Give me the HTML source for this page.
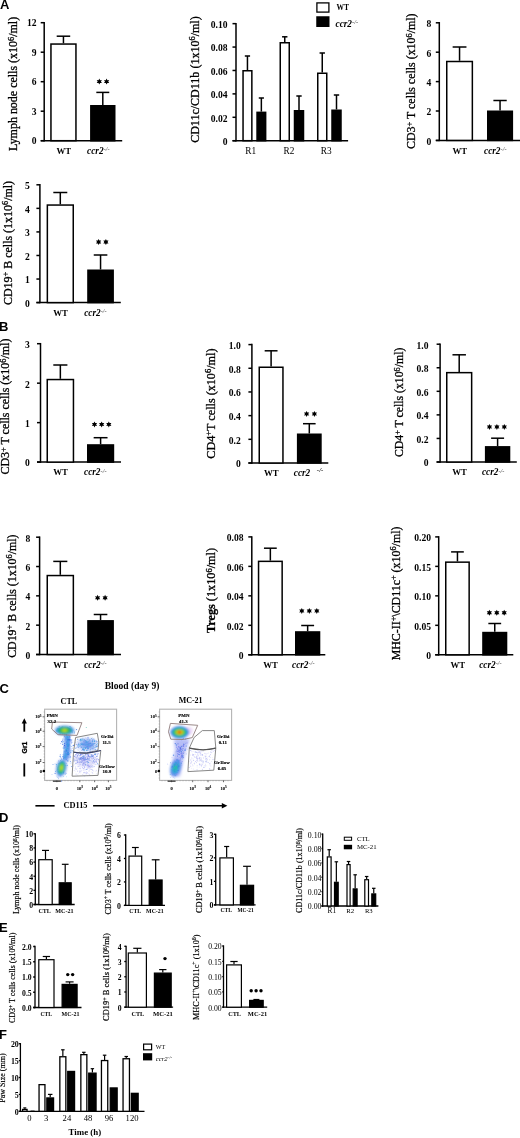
<!DOCTYPE html><html><head><meta charset="utf-8"><title>Figure</title><style>html,body{margin:0;padding:0;background:#fff;}svg{display:block;will-change:transform;}</style></head><body>
<svg width="520" height="1138" viewBox="0 0 520 1138">
<defs><filter id="bl" x="-50%" y="-50%" width="200%" height="200%"><feGaussianBlur stdDeviation="0.9"/></filter><filter id="bl2" x="-50%" y="-50%" width="200%" height="200%"><feGaussianBlur stdDeviation="1.6"/></filter></defs>
<rect width="520" height="1138" fill="#fff"/>
<text x="0.00" y="8.70" font-size="13" text-anchor="start" font-weight="bold" font-style="normal" font-family='"Liberation Sans", sans-serif'>A</text>
<text x="-0.90" y="330.60" font-size="13" text-anchor="start" font-weight="bold" font-style="normal" font-family='"Liberation Sans", sans-serif'>B</text>
<text x="-0.50" y="692.50" font-size="13" text-anchor="start" font-weight="bold" font-style="normal" font-family='"Liberation Sans", sans-serif'>C</text>
<text x="-1.00" y="821.90" font-size="13" text-anchor="start" font-weight="bold" font-style="normal" font-family='"Liberation Sans", sans-serif'>D</text>
<text x="-1.10" y="931.80" font-size="13" text-anchor="start" font-weight="bold" font-style="normal" font-family='"Liberation Sans", sans-serif'>E</text>
<text x="-0.90" y="1038.50" font-size="13" text-anchor="start" font-weight="bold" font-style="normal" font-family='"Liberation Sans", sans-serif'>F</text>
<line x1="44.20" y1="21.95" x2="44.20" y2="141.45" stroke="#000" stroke-width="1.5"/>
<line x1="40.70" y1="140.70" x2="122.20" y2="140.70" stroke="#000" stroke-width="1.5"/>
<line x1="40.70" y1="22.70" x2="44.20" y2="22.70" stroke="#000" stroke-width="1.5"/>
<text x="36.50" y="26.16" font-size="9.6" text-anchor="end" font-weight="bold" font-style="normal" font-family='"Liberation Serif", serif'>12</text>
<line x1="40.70" y1="52.20" x2="44.20" y2="52.20" stroke="#000" stroke-width="1.5"/>
<text x="36.50" y="55.66" font-size="9.6" text-anchor="end" font-weight="bold" font-style="normal" font-family='"Liberation Serif", serif'>9</text>
<line x1="40.70" y1="81.70" x2="44.20" y2="81.70" stroke="#000" stroke-width="1.5"/>
<text x="36.50" y="85.16" font-size="9.6" text-anchor="end" font-weight="bold" font-style="normal" font-family='"Liberation Serif", serif'>6</text>
<line x1="40.70" y1="111.20" x2="44.20" y2="111.20" stroke="#000" stroke-width="1.5"/>
<text x="36.50" y="114.66" font-size="9.6" text-anchor="end" font-weight="bold" font-style="normal" font-family='"Liberation Serif", serif'>3</text>
<line x1="40.70" y1="140.70" x2="44.20" y2="140.70" stroke="#000" stroke-width="1.5"/>
<text x="36.50" y="144.16" font-size="9.6" text-anchor="end" font-weight="bold" font-style="normal" font-family='"Liberation Serif", serif'>0</text>
<line x1="63.45" y1="43.30" x2="63.45" y2="36.20" stroke="#000" stroke-width="1.5"/>
<line x1="56.69" y1="36.20" x2="70.21" y2="36.20" stroke="#000" stroke-width="1.5"/>
<rect x="50.95" y="44.05" width="25.00" height="96.65" fill="#fff" stroke="#000" stroke-width="1.5"/>
<line x1="102.80" y1="105.00" x2="102.80" y2="92.40" stroke="#000" stroke-width="1.5"/>
<line x1="96.32" y1="92.40" x2="109.28" y2="92.40" stroke="#000" stroke-width="1.5"/>
<rect x="90.85" y="105.75" width="23.90" height="34.95" fill="#000" stroke="#000" stroke-width="1.5"/>
<text x="63.75" y="154.00" font-size="8.8" text-anchor="middle" font-weight="bold" font-style="normal" font-family='"Liberation Serif", serif'>WT</text>
<text x="87.10" y="154.00" font-size="9.3" font-weight="bold" font-style="italic" font-family='"Liberation Serif", serif' text-anchor="start">ccr2<tspan font-size="0.68em" dy="-0.42em" font-weight="normal" fill="#333">-/-</tspan></text>
<g transform="translate(0.097,-0.011) scale(0.9989,0.9989)"><text x="17.30" y="84.05" font-size="12" font-weight="normal" font-family='"Liberation Serif", serif' stroke="#000" stroke-width="0.3" text-anchor="middle" transform="rotate(-90 17.30 84.05)">Lymph node cells (x10<tspan font-size="0.7em" dy="-0.4em">6</tspan><tspan dy="0.280em">/ml)</tspan></text></g>
<polygon points="99.30,78.55 100.10,80.16 101.90,80.05 100.90,81.55 101.90,83.05 100.10,82.94 99.30,84.55 98.50,82.94 96.70,83.05 97.70,81.55 96.70,80.05 98.50,80.16" fill="#000"/>
<polygon points="106.60,78.55 107.40,80.16 109.20,80.05 108.20,81.55 109.20,83.05 107.40,82.94 106.60,84.55 105.80,82.94 104.00,83.05 105.00,81.55 104.00,80.05 105.80,80.16" fill="#000"/>
<line x1="236.00" y1="22.90" x2="236.00" y2="141.45" stroke="#000" stroke-width="1.5"/>
<line x1="232.50" y1="140.70" x2="348.10" y2="140.70" stroke="#000" stroke-width="1.5"/>
<line x1="232.50" y1="23.65" x2="236.00" y2="23.65" stroke="#000" stroke-width="1.5"/>
<text x="227.60" y="28.01" font-size="9.6" text-anchor="end" font-weight="bold" font-style="normal" font-family='"Liberation Serif", serif'>0.10</text>
<line x1="232.50" y1="47.06" x2="236.00" y2="47.06" stroke="#000" stroke-width="1.5"/>
<text x="227.60" y="51.42" font-size="9.6" text-anchor="end" font-weight="bold" font-style="normal" font-family='"Liberation Serif", serif'>0.08</text>
<line x1="232.50" y1="70.47" x2="236.00" y2="70.47" stroke="#000" stroke-width="1.5"/>
<text x="227.60" y="74.83" font-size="9.6" text-anchor="end" font-weight="bold" font-style="normal" font-family='"Liberation Serif", serif'>0.06</text>
<line x1="232.50" y1="93.88" x2="236.00" y2="93.88" stroke="#000" stroke-width="1.5"/>
<text x="227.60" y="98.24" font-size="9.6" text-anchor="end" font-weight="bold" font-style="normal" font-family='"Liberation Serif", serif'>0.04</text>
<line x1="232.50" y1="117.29" x2="236.00" y2="117.29" stroke="#000" stroke-width="1.5"/>
<text x="227.60" y="121.65" font-size="9.6" text-anchor="end" font-weight="bold" font-style="normal" font-family='"Liberation Serif", serif'>0.02</text>
<line x1="232.50" y1="140.70" x2="236.00" y2="140.70" stroke="#000" stroke-width="1.5"/>
<text x="227.60" y="145.06" font-size="9.6" text-anchor="end" font-weight="bold" font-style="normal" font-family='"Liberation Serif", serif'>0</text>
<line x1="247.45" y1="70.00" x2="247.45" y2="56.00" stroke="#000" stroke-width="1.5"/>
<line x1="244.82" y1="56.00" x2="250.08" y2="56.00" stroke="#000" stroke-width="1.5"/>
<rect x="243.05" y="70.75" width="8.80" height="69.95" fill="#fff" stroke="#000" stroke-width="1.5"/>
<line x1="261.35" y1="111.60" x2="261.35" y2="98.00" stroke="#000" stroke-width="1.5"/>
<line x1="258.77" y1="98.00" x2="263.93" y2="98.00" stroke="#000" stroke-width="1.5"/>
<rect x="257.05" y="112.35" width="8.60" height="28.35" fill="#000" stroke="#000" stroke-width="1.5"/>
<line x1="284.75" y1="42.00" x2="284.75" y2="36.80" stroke="#000" stroke-width="1.5"/>
<line x1="282.07" y1="36.80" x2="287.43" y2="36.80" stroke="#000" stroke-width="1.5"/>
<rect x="280.25" y="42.75" width="9.00" height="97.95" fill="#fff" stroke="#000" stroke-width="1.5"/>
<line x1="299.00" y1="110.00" x2="299.00" y2="96.00" stroke="#000" stroke-width="1.5"/>
<line x1="296.32" y1="96.00" x2="301.68" y2="96.00" stroke="#000" stroke-width="1.5"/>
<rect x="294.50" y="110.75" width="9.00" height="29.95" fill="#000" stroke="#000" stroke-width="1.5"/>
<line x1="322.25" y1="72.50" x2="322.25" y2="53.00" stroke="#000" stroke-width="1.5"/>
<line x1="319.57" y1="53.00" x2="324.93" y2="53.00" stroke="#000" stroke-width="1.5"/>
<rect x="317.75" y="73.25" width="9.00" height="67.45" fill="#fff" stroke="#000" stroke-width="1.5"/>
<line x1="336.50" y1="109.50" x2="336.50" y2="95.00" stroke="#000" stroke-width="1.5"/>
<line x1="333.82" y1="95.00" x2="339.18" y2="95.00" stroke="#000" stroke-width="1.5"/>
<rect x="332.00" y="110.25" width="9.00" height="30.45" fill="#000" stroke="#000" stroke-width="1.5"/>
<text x="250.80" y="154.20" font-size="9.3" text-anchor="middle" font-weight="normal" font-style="normal" font-family='"Liberation Serif", serif'>R1</text>
<text x="289.00" y="154.20" font-size="9.3" text-anchor="middle" font-weight="normal" font-style="normal" font-family='"Liberation Serif", serif'>R2</text>
<text x="326.20" y="154.20" font-size="9.3" text-anchor="middle" font-weight="normal" font-style="normal" font-family='"Liberation Serif", serif'>R3</text>
<g transform="translate(-0.418,-0.268) scale(1.0030,1.0030)"><text x="198.50" y="79.60" font-size="12" font-weight="normal" font-family='"Liberation Serif", serif' stroke="#000" stroke-width="0.3" text-anchor="middle" transform="rotate(-90 198.50 79.60)">CD11c/CD11b (1x10<tspan font-size="0.7em" dy="-0.4em">6</tspan><tspan dy="0.280em">/ml)</tspan></text></g>
<rect x="316.9" y="2.9" width="12" height="9.2" fill="#fff" stroke="#000" stroke-width="1.3"/>
<rect x="316.25" y="16.25" width="13.25" height="10.75" fill="#000"/>
<g transform="translate(32.416,0.456) scale(0.9039,0.9039)"><text x="336.50" y="10.20" font-size="8.3" text-anchor="start" font-weight="bold" font-style="normal" font-family='"Liberation Serif", serif'>WT</text></g>
<text x="335.50" y="27.00" font-size="9.3" font-weight="bold" font-style="italic" font-family='"Liberation Serif", serif' text-anchor="start">ccr2<tspan font-size="0.68em" dy="-0.42em" font-weight="normal" fill="#333">-/-</tspan></text>
<line x1="439.30" y1="22.05" x2="439.30" y2="141.15" stroke="#000" stroke-width="1.5"/>
<line x1="435.80" y1="140.40" x2="520.00" y2="140.40" stroke="#000" stroke-width="1.5"/>
<line x1="435.80" y1="22.80" x2="439.30" y2="22.80" stroke="#000" stroke-width="1.5"/>
<text x="431.20" y="27.16" font-size="9.6" text-anchor="end" font-weight="bold" font-style="normal" font-family='"Liberation Serif", serif'>8</text>
<line x1="435.80" y1="52.20" x2="439.30" y2="52.20" stroke="#000" stroke-width="1.5"/>
<text x="431.20" y="56.56" font-size="9.6" text-anchor="end" font-weight="bold" font-style="normal" font-family='"Liberation Serif", serif'>6</text>
<line x1="435.80" y1="81.60" x2="439.30" y2="81.60" stroke="#000" stroke-width="1.5"/>
<text x="431.20" y="85.96" font-size="9.6" text-anchor="end" font-weight="bold" font-style="normal" font-family='"Liberation Serif", serif'>4</text>
<line x1="435.80" y1="111.00" x2="439.30" y2="111.00" stroke="#000" stroke-width="1.5"/>
<text x="431.20" y="115.36" font-size="9.6" text-anchor="end" font-weight="bold" font-style="normal" font-family='"Liberation Serif", serif'>2</text>
<line x1="435.80" y1="140.40" x2="439.30" y2="140.40" stroke="#000" stroke-width="1.5"/>
<text x="431.20" y="144.76" font-size="9.6" text-anchor="end" font-weight="bold" font-style="normal" font-family='"Liberation Serif", serif'>0</text>
<line x1="459.55" y1="60.75" x2="459.55" y2="47.00" stroke="#000" stroke-width="1.5"/>
<line x1="452.64" y1="47.00" x2="466.46" y2="47.00" stroke="#000" stroke-width="1.5"/>
<rect x="446.75" y="61.50" width="25.60" height="78.90" fill="#fff" stroke="#000" stroke-width="1.5"/>
<line x1="500.05" y1="110.50" x2="500.05" y2="100.50" stroke="#000" stroke-width="1.5"/>
<line x1="493.39" y1="100.50" x2="506.71" y2="100.50" stroke="#000" stroke-width="1.5"/>
<rect x="487.75" y="111.25" width="24.60" height="29.15" fill="#000" stroke="#000" stroke-width="1.5"/>
<text x="459.85" y="153.70" font-size="8.8" text-anchor="middle" font-weight="bold" font-style="normal" font-family='"Liberation Serif", serif'>WT</text>
<text x="484.00" y="153.70" font-size="9.3" font-weight="bold" font-style="italic" font-family='"Liberation Serif", serif' text-anchor="start">ccr2<tspan font-size="0.68em" dy="-0.42em" font-weight="normal" fill="#333">-/-</tspan></text>
<g transform="translate(3.170,0.545) scale(0.9926,0.9926)"><text x="415.30" y="81.25" font-size="12" font-weight="normal" font-family='"Liberation Serif", serif' stroke="#000" stroke-width="0.3" text-anchor="middle" transform="rotate(-90 415.30 81.25)">CD3<tspan font-size="0.7em" dy="-0.4em">+</tspan><tspan dy="0.280em"> T cells cells (x10</tspan><tspan font-size="0.7em" dy="-0.4em">6</tspan><tspan dy="0.280em">/ml)</tspan></text></g>
<line x1="39.90" y1="184.05" x2="39.90" y2="303.35" stroke="#000" stroke-width="1.5"/>
<line x1="36.40" y1="302.60" x2="120.80" y2="302.60" stroke="#000" stroke-width="1.5"/>
<line x1="36.40" y1="184.80" x2="39.90" y2="184.80" stroke="#000" stroke-width="1.5"/>
<text x="29.70" y="189.16" font-size="9.6" text-anchor="end" font-weight="bold" font-style="normal" font-family='"Liberation Serif", serif'>5</text>
<line x1="36.40" y1="208.36" x2="39.90" y2="208.36" stroke="#000" stroke-width="1.5"/>
<text x="29.70" y="212.72" font-size="9.6" text-anchor="end" font-weight="bold" font-style="normal" font-family='"Liberation Serif", serif'>4</text>
<line x1="36.40" y1="231.92" x2="39.90" y2="231.92" stroke="#000" stroke-width="1.5"/>
<text x="29.70" y="236.28" font-size="9.6" text-anchor="end" font-weight="bold" font-style="normal" font-family='"Liberation Serif", serif'>3</text>
<line x1="36.40" y1="255.48" x2="39.90" y2="255.48" stroke="#000" stroke-width="1.5"/>
<text x="29.70" y="259.84" font-size="9.6" text-anchor="end" font-weight="bold" font-style="normal" font-family='"Liberation Serif", serif'>2</text>
<line x1="36.40" y1="279.04" x2="39.90" y2="279.04" stroke="#000" stroke-width="1.5"/>
<text x="29.70" y="283.40" font-size="9.6" text-anchor="end" font-weight="bold" font-style="normal" font-family='"Liberation Serif", serif'>1</text>
<line x1="36.40" y1="302.60" x2="39.90" y2="302.60" stroke="#000" stroke-width="1.5"/>
<text x="29.70" y="306.96" font-size="9.6" text-anchor="end" font-weight="bold" font-style="normal" font-family='"Liberation Serif", serif'>0</text>
<line x1="60.30" y1="204.30" x2="60.30" y2="192.50" stroke="#000" stroke-width="1.5"/>
<line x1="53.31" y1="192.50" x2="67.29" y2="192.50" stroke="#000" stroke-width="1.5"/>
<rect x="47.35" y="205.05" width="25.90" height="97.55" fill="#fff" stroke="#000" stroke-width="1.5"/>
<line x1="100.55" y1="269.50" x2="100.55" y2="255.00" stroke="#000" stroke-width="1.5"/>
<line x1="93.74" y1="255.00" x2="107.36" y2="255.00" stroke="#000" stroke-width="1.5"/>
<rect x="87.95" y="270.25" width="25.20" height="32.35" fill="#000" stroke="#000" stroke-width="1.5"/>
<text x="60.60" y="315.90" font-size="8.8" text-anchor="middle" font-weight="bold" font-style="normal" font-family='"Liberation Serif", serif'>WT</text>
<text x="84.20" y="315.90" font-size="9.3" font-weight="bold" font-style="italic" font-family='"Liberation Serif", serif' text-anchor="start">ccr2<tspan font-size="0.68em" dy="-0.42em" font-weight="normal" fill="#333">-/-</tspan></text>
<g transform="translate(0.273,0.767) scale(0.9967,0.9967)"><text x="11.50" y="243.00" font-size="12" font-weight="normal" font-family='"Liberation Serif", serif' stroke="#000" stroke-width="0.3" text-anchor="middle" transform="rotate(-90 11.50 243.00)">CD19<tspan font-size="0.7em" dy="-0.4em">+</tspan><tspan dy="0.280em"> B cells (1x10</tspan><tspan font-size="0.7em" dy="-0.4em">6</tspan><tspan dy="0.280em">/ml)</tspan></text></g>
<polygon points="98.60,239.00 99.40,240.61 101.20,240.50 100.20,242.00 101.20,243.50 99.40,243.39 98.60,245.00 97.80,243.39 96.00,243.50 97.00,242.00 96.00,240.50 97.80,240.61" fill="#000"/>
<polygon points="105.90,239.00 106.70,240.61 108.50,240.50 107.50,242.00 108.50,243.50 106.70,243.39 105.90,245.00 105.10,243.39 103.30,243.50 104.30,242.00 103.30,240.50 105.10,240.61" fill="#000"/>
<line x1="40.50" y1="342.95" x2="40.50" y2="462.85" stroke="#000" stroke-width="1.5"/>
<line x1="37.00" y1="462.10" x2="121.00" y2="462.10" stroke="#000" stroke-width="1.5"/>
<line x1="37.00" y1="343.70" x2="40.50" y2="343.70" stroke="#000" stroke-width="1.5"/>
<text x="29.90" y="348.06" font-size="9.6" text-anchor="end" font-weight="bold" font-style="normal" font-family='"Liberation Serif", serif'>3</text>
<line x1="37.00" y1="383.17" x2="40.50" y2="383.17" stroke="#000" stroke-width="1.5"/>
<text x="29.90" y="387.53" font-size="9.6" text-anchor="end" font-weight="bold" font-style="normal" font-family='"Liberation Serif", serif'>2</text>
<line x1="37.00" y1="422.63" x2="40.50" y2="422.63" stroke="#000" stroke-width="1.5"/>
<text x="29.90" y="427.00" font-size="9.6" text-anchor="end" font-weight="bold" font-style="normal" font-family='"Liberation Serif", serif'>1</text>
<line x1="37.00" y1="462.10" x2="40.50" y2="462.10" stroke="#000" stroke-width="1.5"/>
<text x="29.90" y="466.46" font-size="9.6" text-anchor="end" font-weight="bold" font-style="normal" font-family='"Liberation Serif", serif'>0</text>
<line x1="60.35" y1="378.80" x2="60.35" y2="365.00" stroke="#000" stroke-width="1.5"/>
<line x1="53.29" y1="365.00" x2="67.41" y2="365.00" stroke="#000" stroke-width="1.5"/>
<rect x="47.25" y="379.55" width="26.20" height="82.55" fill="#fff" stroke="#000" stroke-width="1.5"/>
<line x1="100.60" y1="444.20" x2="100.60" y2="437.70" stroke="#000" stroke-width="1.5"/>
<line x1="93.66" y1="437.70" x2="107.54" y2="437.70" stroke="#000" stroke-width="1.5"/>
<rect x="87.75" y="444.95" width="25.70" height="17.15" fill="#000" stroke="#000" stroke-width="1.5"/>
<text x="60.65" y="475.40" font-size="8.8" text-anchor="middle" font-weight="bold" font-style="normal" font-family='"Liberation Serif", serif'>WT</text>
<text x="84.00" y="475.40" font-size="9.3" font-weight="bold" font-style="italic" font-family='"Liberation Serif", serif' text-anchor="start">ccr2<tspan font-size="0.68em" dy="-0.42em" font-weight="normal" fill="#333">-/-</tspan></text>
<g transform="translate(0.237,1.216) scale(0.9968,0.9968)"><text x="9.30" y="406.70" font-size="12" font-weight="normal" font-family='"Liberation Serif", serif' stroke="#000" stroke-width="0.3" text-anchor="middle" transform="rotate(-90 9.30 406.70)">CD3<tspan font-size="0.7em" dy="-0.4em">+</tspan><tspan dy="0.280em"> T cells cells (x10</tspan><tspan font-size="0.7em" dy="-0.4em">6</tspan><tspan dy="0.280em">/ml)</tspan></text></g>
<polygon points="94.50,421.40 95.30,423.01 97.10,422.90 96.10,424.40 97.10,425.90 95.30,425.79 94.50,427.40 93.70,425.79 91.90,425.90 92.90,424.40 91.90,422.90 93.70,423.01" fill="#000"/>
<polygon points="101.65,421.40 102.45,423.01 104.25,422.90 103.25,424.40 104.25,425.90 102.45,425.79 101.65,427.40 100.85,425.79 99.05,425.90 100.05,424.40 99.05,422.90 100.85,423.01" fill="#000"/>
<polygon points="108.80,421.40 109.60,423.01 111.40,422.90 110.40,424.40 111.40,425.90 109.60,425.79 108.80,427.40 108.00,425.79 106.20,425.90 107.20,424.40 106.20,422.90 108.00,423.01" fill="#000"/>
<line x1="251.90" y1="343.85" x2="251.90" y2="463.75" stroke="#000" stroke-width="1.5"/>
<line x1="248.40" y1="463.00" x2="328.30" y2="463.00" stroke="#000" stroke-width="1.5"/>
<line x1="248.40" y1="344.60" x2="251.90" y2="344.60" stroke="#000" stroke-width="1.5"/>
<text x="240.80" y="348.96" font-size="9.6" text-anchor="end" font-weight="bold" font-style="normal" font-family='"Liberation Serif", serif'>1.0</text>
<line x1="248.40" y1="368.28" x2="251.90" y2="368.28" stroke="#000" stroke-width="1.5"/>
<text x="240.80" y="372.64" font-size="9.6" text-anchor="end" font-weight="bold" font-style="normal" font-family='"Liberation Serif", serif'>0.8</text>
<line x1="248.40" y1="391.96" x2="251.90" y2="391.96" stroke="#000" stroke-width="1.5"/>
<text x="240.80" y="396.32" font-size="9.6" text-anchor="end" font-weight="bold" font-style="normal" font-family='"Liberation Serif", serif'>0.6</text>
<line x1="248.40" y1="415.64" x2="251.90" y2="415.64" stroke="#000" stroke-width="1.5"/>
<text x="240.80" y="420.00" font-size="9.6" text-anchor="end" font-weight="bold" font-style="normal" font-family='"Liberation Serif", serif'>0.4</text>
<line x1="248.40" y1="439.32" x2="251.90" y2="439.32" stroke="#000" stroke-width="1.5"/>
<text x="240.80" y="443.68" font-size="9.6" text-anchor="end" font-weight="bold" font-style="normal" font-family='"Liberation Serif", serif'>0.2</text>
<line x1="248.40" y1="463.00" x2="251.90" y2="463.00" stroke="#000" stroke-width="1.5"/>
<text x="240.80" y="467.36" font-size="9.6" text-anchor="end" font-weight="bold" font-style="normal" font-family='"Liberation Serif", serif'>0</text>
<line x1="271.10" y1="366.50" x2="271.10" y2="350.80" stroke="#000" stroke-width="1.5"/>
<line x1="264.67" y1="350.80" x2="277.53" y2="350.80" stroke="#000" stroke-width="1.5"/>
<rect x="259.25" y="367.25" width="23.70" height="95.75" fill="#fff" stroke="#000" stroke-width="1.5"/>
<line x1="309.30" y1="433.50" x2="309.30" y2="423.70" stroke="#000" stroke-width="1.5"/>
<line x1="302.98" y1="423.70" x2="315.62" y2="423.70" stroke="#000" stroke-width="1.5"/>
<rect x="297.65" y="434.25" width="23.30" height="28.75" fill="#000" stroke="#000" stroke-width="1.5"/>
<text x="271.40" y="476.30" font-size="8.8" text-anchor="middle" font-weight="bold" font-style="normal" font-family='"Liberation Serif", serif'>WT</text>
<text x="293.75" y="476.30" font-size="9.3" text-anchor="start" font-weight="bold" font-style="italic" font-family='"Liberation Serif", serif'>ccr2</text>
<text x="316.80" y="471.80" font-size="7" text-anchor="start" font-weight="bold" font-style="italic" font-family='"Liberation Serif", serif'>-/-</text>
<g transform="translate(-2.989,-5.540) scale(1.0137,1.0137)"><text x="214.80" y="403.60" font-size="12" font-weight="normal" font-family='"Liberation Serif", serif' stroke="#000" stroke-width="0.3" text-anchor="middle" transform="rotate(-90 214.80 403.60)">CD4<tspan font-size="0.7em" dy="-0.4em">+</tspan><tspan dy="0.280em">T cells (x10</tspan><tspan font-size="0.7em" dy="-0.4em">6</tspan><tspan dy="0.280em">/ml)</tspan></text></g>
<polygon points="306.60,410.90 307.40,412.51 309.20,412.40 308.20,413.90 309.20,415.40 307.40,415.29 306.60,416.90 305.80,415.29 304.00,415.40 305.00,413.90 304.00,412.40 305.80,412.51" fill="#000"/>
<polygon points="314.40,410.90 315.20,412.51 317.00,412.40 316.00,413.90 317.00,415.40 315.20,415.29 314.40,416.90 313.60,415.29 311.80,415.40 312.80,413.90 311.80,412.40 313.60,412.51" fill="#000"/>
<line x1="440.10" y1="343.45" x2="440.10" y2="462.75" stroke="#000" stroke-width="1.5"/>
<line x1="436.60" y1="462.00" x2="516.80" y2="462.00" stroke="#000" stroke-width="1.5"/>
<line x1="436.60" y1="344.20" x2="440.10" y2="344.20" stroke="#000" stroke-width="1.5"/>
<text x="428.50" y="348.56" font-size="9.6" text-anchor="end" font-weight="bold" font-style="normal" font-family='"Liberation Serif", serif'>1.0</text>
<line x1="436.60" y1="367.76" x2="440.10" y2="367.76" stroke="#000" stroke-width="1.5"/>
<text x="428.50" y="372.12" font-size="9.6" text-anchor="end" font-weight="bold" font-style="normal" font-family='"Liberation Serif", serif'>0.8</text>
<line x1="436.60" y1="391.32" x2="440.10" y2="391.32" stroke="#000" stroke-width="1.5"/>
<text x="428.50" y="395.68" font-size="9.6" text-anchor="end" font-weight="bold" font-style="normal" font-family='"Liberation Serif", serif'>0.6</text>
<line x1="436.60" y1="414.88" x2="440.10" y2="414.88" stroke="#000" stroke-width="1.5"/>
<text x="428.50" y="419.24" font-size="9.6" text-anchor="end" font-weight="bold" font-style="normal" font-family='"Liberation Serif", serif'>0.4</text>
<line x1="436.60" y1="438.44" x2="440.10" y2="438.44" stroke="#000" stroke-width="1.5"/>
<text x="428.50" y="442.80" font-size="9.6" text-anchor="end" font-weight="bold" font-style="normal" font-family='"Liberation Serif", serif'>0.2</text>
<line x1="436.60" y1="462.00" x2="440.10" y2="462.00" stroke="#000" stroke-width="1.5"/>
<text x="428.50" y="466.36" font-size="9.6" text-anchor="end" font-weight="bold" font-style="normal" font-family='"Liberation Serif", serif'>0</text>
<line x1="459.20" y1="371.90" x2="459.20" y2="354.80" stroke="#000" stroke-width="1.5"/>
<line x1="452.47" y1="354.80" x2="465.93" y2="354.80" stroke="#000" stroke-width="1.5"/>
<rect x="446.75" y="372.65" width="24.90" height="89.35" fill="#fff" stroke="#000" stroke-width="1.5"/>
<line x1="497.60" y1="446.10" x2="497.60" y2="438.20" stroke="#000" stroke-width="1.5"/>
<line x1="491.12" y1="438.20" x2="504.08" y2="438.20" stroke="#000" stroke-width="1.5"/>
<rect x="485.65" y="446.85" width="23.90" height="15.15" fill="#000" stroke="#000" stroke-width="1.5"/>
<text x="459.50" y="475.30" font-size="8.8" text-anchor="middle" font-weight="bold" font-style="normal" font-family='"Liberation Serif", serif'>WT</text>
<text x="481.90" y="475.30" font-size="9.3" font-weight="bold" font-style="italic" font-family='"Liberation Serif", serif' text-anchor="start">ccr2<tspan font-size="0.68em" dy="-0.42em" font-weight="normal" fill="#333">-/-</tspan></text>
<g transform="translate(7.020,6.936) scale(0.9828,0.9828)"><text x="403.10" y="402.35" font-size="12" font-weight="normal" font-family='"Liberation Serif", serif' stroke="#000" stroke-width="0.3" text-anchor="middle" transform="rotate(-90 403.10 402.35)">CD4<tspan font-size="0.7em" dy="-0.4em">+</tspan><tspan dy="0.280em"> T cells (x10</tspan><tspan font-size="0.7em" dy="-0.4em">6</tspan><tspan dy="0.280em">/ml)</tspan></text></g>
<polygon points="489.50,423.90 490.30,425.51 492.10,425.40 491.10,426.90 492.10,428.40 490.30,428.29 489.50,429.90 488.70,428.29 486.90,428.40 487.90,426.90 486.90,425.40 488.70,425.51" fill="#000"/>
<polygon points="496.90,423.90 497.70,425.51 499.50,425.40 498.50,426.90 499.50,428.40 497.70,428.29 496.90,429.90 496.10,428.29 494.30,428.40 495.30,426.90 494.30,425.40 496.10,425.51" fill="#000"/>
<polygon points="504.30,423.90 505.10,425.51 506.90,425.40 505.90,426.90 506.90,428.40 505.10,428.29 504.30,429.90 503.50,428.29 501.70,428.40 502.70,426.90 501.70,425.40 503.50,425.51" fill="#000"/>
<line x1="39.60" y1="536.45" x2="39.60" y2="655.25" stroke="#000" stroke-width="1.5"/>
<line x1="36.10" y1="654.50" x2="121.00" y2="654.50" stroke="#000" stroke-width="1.5"/>
<line x1="36.10" y1="537.20" x2="39.60" y2="537.20" stroke="#000" stroke-width="1.5"/>
<text x="30.30" y="541.56" font-size="9.6" text-anchor="end" font-weight="bold" font-style="normal" font-family='"Liberation Serif", serif'>8</text>
<line x1="36.10" y1="566.53" x2="39.60" y2="566.53" stroke="#000" stroke-width="1.5"/>
<text x="30.30" y="570.89" font-size="9.6" text-anchor="end" font-weight="bold" font-style="normal" font-family='"Liberation Serif", serif'>6</text>
<line x1="36.10" y1="595.85" x2="39.60" y2="595.85" stroke="#000" stroke-width="1.5"/>
<text x="30.30" y="600.21" font-size="9.6" text-anchor="end" font-weight="bold" font-style="normal" font-family='"Liberation Serif", serif'>4</text>
<line x1="36.10" y1="625.17" x2="39.60" y2="625.17" stroke="#000" stroke-width="1.5"/>
<text x="30.30" y="629.54" font-size="9.6" text-anchor="end" font-weight="bold" font-style="normal" font-family='"Liberation Serif", serif'>2</text>
<line x1="36.10" y1="654.50" x2="39.60" y2="654.50" stroke="#000" stroke-width="1.5"/>
<text x="30.30" y="658.86" font-size="9.6" text-anchor="end" font-weight="bold" font-style="normal" font-family='"Liberation Serif", serif'>0</text>
<line x1="60.30" y1="574.80" x2="60.30" y2="561.40" stroke="#000" stroke-width="1.5"/>
<line x1="53.26" y1="561.40" x2="67.34" y2="561.40" stroke="#000" stroke-width="1.5"/>
<rect x="47.25" y="575.55" width="26.10" height="78.95" fill="#fff" stroke="#000" stroke-width="1.5"/>
<line x1="100.55" y1="620.10" x2="100.55" y2="614.50" stroke="#000" stroke-width="1.5"/>
<line x1="93.74" y1="614.50" x2="107.36" y2="614.50" stroke="#000" stroke-width="1.5"/>
<rect x="87.95" y="620.85" width="25.20" height="33.65" fill="#000" stroke="#000" stroke-width="1.5"/>
<text x="60.60" y="667.80" font-size="8.8" text-anchor="middle" font-weight="bold" font-style="normal" font-family='"Liberation Serif", serif'>WT</text>
<text x="84.20" y="667.80" font-size="9.3" font-weight="bold" font-style="italic" font-family='"Liberation Serif", serif' text-anchor="start">ccr2<tspan font-size="0.68em" dy="-0.42em" font-weight="normal" fill="#333">-/-</tspan></text>
<g transform="translate(0.254,4.918) scale(0.9916,0.9916)"><text x="15.50" y="596.30" font-size="12" font-weight="normal" font-family='"Liberation Serif", serif' stroke="#000" stroke-width="0.3" text-anchor="middle" transform="rotate(-90 15.50 596.30)">CD19<tspan font-size="0.7em" dy="-0.4em">+</tspan><tspan dy="0.280em"> B cells (1x10</tspan><tspan font-size="0.7em" dy="-0.4em">6</tspan><tspan dy="0.280em">/ml)</tspan></text></g>
<polygon points="97.60,594.80 98.40,596.41 100.20,596.30 99.20,597.80 100.20,599.30 98.40,599.19 97.60,600.80 96.80,599.19 95.00,599.30 96.00,597.80 95.00,596.30 96.80,596.41" fill="#000"/>
<polygon points="105.10,594.80 105.90,596.41 107.70,596.30 106.70,597.80 107.70,599.30 105.90,599.19 105.10,600.80 104.30,599.19 102.50,599.30 103.50,597.80 102.50,596.30 104.30,596.41" fill="#000"/>
<line x1="251.80" y1="536.15" x2="251.80" y2="655.55" stroke="#000" stroke-width="1.5"/>
<line x1="248.30" y1="654.80" x2="325.30" y2="654.80" stroke="#000" stroke-width="1.5"/>
<line x1="248.30" y1="536.90" x2="251.80" y2="536.90" stroke="#000" stroke-width="1.5"/>
<text x="243.60" y="541.26" font-size="9.6" text-anchor="end" font-weight="bold" font-style="normal" font-family='"Liberation Serif", serif'>0.08</text>
<line x1="248.30" y1="566.38" x2="251.80" y2="566.38" stroke="#000" stroke-width="1.5"/>
<text x="243.60" y="570.74" font-size="9.6" text-anchor="end" font-weight="bold" font-style="normal" font-family='"Liberation Serif", serif'>0.06</text>
<line x1="248.30" y1="595.85" x2="251.80" y2="595.85" stroke="#000" stroke-width="1.5"/>
<text x="243.60" y="600.21" font-size="9.6" text-anchor="end" font-weight="bold" font-style="normal" font-family='"Liberation Serif", serif'>0.04</text>
<line x1="248.30" y1="625.32" x2="251.80" y2="625.32" stroke="#000" stroke-width="1.5"/>
<text x="243.60" y="629.69" font-size="9.6" text-anchor="end" font-weight="bold" font-style="normal" font-family='"Liberation Serif", serif'>0.02</text>
<line x1="248.30" y1="654.80" x2="251.80" y2="654.80" stroke="#000" stroke-width="1.5"/>
<text x="243.60" y="659.16" font-size="9.6" text-anchor="end" font-weight="bold" font-style="normal" font-family='"Liberation Serif", serif'>0</text>
<line x1="270.35" y1="560.60" x2="270.35" y2="548.20" stroke="#000" stroke-width="1.5"/>
<line x1="263.95" y1="548.20" x2="276.75" y2="548.20" stroke="#000" stroke-width="1.5"/>
<rect x="258.55" y="561.35" width="23.60" height="93.45" fill="#fff" stroke="#000" stroke-width="1.5"/>
<line x1="307.65" y1="631.20" x2="307.65" y2="625.50" stroke="#000" stroke-width="1.5"/>
<line x1="301.20" y1="625.50" x2="314.10" y2="625.50" stroke="#000" stroke-width="1.5"/>
<rect x="295.75" y="631.95" width="23.80" height="22.85" fill="#000" stroke="#000" stroke-width="1.5"/>
<text x="270.65" y="668.10" font-size="8.8" text-anchor="middle" font-weight="bold" font-style="normal" font-family='"Liberation Serif", serif'>WT</text>
<text x="292.00" y="668.10" font-size="9.3" font-weight="bold" font-style="italic" font-family='"Liberation Serif", serif' text-anchor="start">ccr2<tspan font-size="0.68em" dy="-0.42em" font-weight="normal" fill="#333">-/-</tspan></text>
<g transform="translate(-4.251,-12.177) scale(1.0204,1.0204)"><text x="215.30" y="590.60" font-size="12" font-weight="normal" font-family='"Liberation Serif", serif' stroke="#000" stroke-width="0.3" text-anchor="middle" transform="rotate(-90 215.30 590.60)"><tspan font-weight="bold">Tregs</tspan>  (1x10<tspan font-size="0.7em" dy="-0.4em">6</tspan><tspan dy="0.280em">/ml)</tspan></text></g>
<polygon points="301.80,607.90 302.60,609.51 304.40,609.40 303.40,610.90 304.40,612.40 302.60,612.29 301.80,613.90 301.00,612.29 299.20,612.40 300.20,610.90 299.20,609.40 301.00,609.51" fill="#000"/>
<polygon points="309.30,607.90 310.10,609.51 311.90,609.40 310.90,610.90 311.90,612.40 310.10,612.29 309.30,613.90 308.50,612.29 306.70,612.40 307.70,610.90 306.70,609.40 308.50,609.51" fill="#000"/>
<polygon points="316.80,607.90 317.60,609.51 319.40,609.40 318.40,610.90 319.40,612.40 317.60,612.29 316.80,613.90 316.00,612.29 314.20,612.40 315.20,610.90 314.20,609.40 316.00,609.51" fill="#000"/>
<line x1="438.70" y1="536.15" x2="438.70" y2="655.55" stroke="#000" stroke-width="1.5"/>
<line x1="435.20" y1="654.80" x2="513.30" y2="654.80" stroke="#000" stroke-width="1.5"/>
<line x1="435.20" y1="536.90" x2="438.70" y2="536.90" stroke="#000" stroke-width="1.5"/>
<text x="431.10" y="541.26" font-size="9.6" text-anchor="end" font-weight="bold" font-style="normal" font-family='"Liberation Serif", serif'>0.20</text>
<line x1="435.20" y1="566.38" x2="438.70" y2="566.38" stroke="#000" stroke-width="1.5"/>
<text x="431.10" y="570.74" font-size="9.6" text-anchor="end" font-weight="bold" font-style="normal" font-family='"Liberation Serif", serif'>0.15</text>
<line x1="435.20" y1="595.85" x2="438.70" y2="595.85" stroke="#000" stroke-width="1.5"/>
<text x="431.10" y="600.21" font-size="9.6" text-anchor="end" font-weight="bold" font-style="normal" font-family='"Liberation Serif", serif'>0.10</text>
<line x1="435.20" y1="625.32" x2="438.70" y2="625.32" stroke="#000" stroke-width="1.5"/>
<text x="431.10" y="629.69" font-size="9.6" text-anchor="end" font-weight="bold" font-style="normal" font-family='"Liberation Serif", serif'>0.05</text>
<line x1="435.20" y1="654.80" x2="438.70" y2="654.80" stroke="#000" stroke-width="1.5"/>
<text x="431.10" y="659.16" font-size="9.6" text-anchor="end" font-weight="bold" font-style="normal" font-family='"Liberation Serif", serif'>0</text>
<line x1="457.45" y1="561.40" x2="457.45" y2="551.90" stroke="#000" stroke-width="1.5"/>
<line x1="451.10" y1="551.90" x2="463.80" y2="551.90" stroke="#000" stroke-width="1.5"/>
<rect x="445.75" y="562.15" width="23.40" height="92.65" fill="#fff" stroke="#000" stroke-width="1.5"/>
<line x1="494.75" y1="631.80" x2="494.75" y2="623.50" stroke="#000" stroke-width="1.5"/>
<line x1="488.35" y1="623.50" x2="501.15" y2="623.50" stroke="#000" stroke-width="1.5"/>
<rect x="482.95" y="632.55" width="23.60" height="22.25" fill="#000" stroke="#000" stroke-width="1.5"/>
<text x="457.75" y="668.10" font-size="8.8" text-anchor="middle" font-weight="bold" font-style="normal" font-family='"Liberation Serif", serif'>WT</text>
<text x="479.20" y="668.10" font-size="9.3" font-weight="bold" font-style="italic" font-family='"Liberation Serif", serif' text-anchor="start">ccr2<tspan font-size="0.68em" dy="-0.42em" font-weight="normal" fill="#333">-/-</tspan></text>
<g transform="translate(3.367,4.343) scale(0.9924,0.9924)"><text x="399.30" y="593.60" font-size="12" font-weight="normal" font-family='"Liberation Serif", serif' stroke="#000" stroke-width="0.3" text-anchor="middle" transform="rotate(-90 399.30 593.60)">MHC-II<tspan font-size="0.7em" dy="-0.4em">+</tspan><tspan dy="0.280em">\CD11c</tspan><tspan font-size="0.7em" dy="-0.4em">+</tspan><tspan dy="0.280em"> (x10</tspan><tspan font-size="0.7em" dy="-0.4em">6</tspan><tspan dy="0.280em">/ml)</tspan></text></g>
<polygon points="489.40,609.75 490.20,611.36 492.00,611.25 491.00,612.75 492.00,614.25 490.20,614.14 489.40,615.75 488.60,614.14 486.80,614.25 487.80,612.75 486.80,611.25 488.60,611.36" fill="#000"/>
<polygon points="496.80,609.75 497.60,611.36 499.40,611.25 498.40,612.75 499.40,614.25 497.60,614.14 496.80,615.75 496.00,614.14 494.20,614.25 495.20,612.75 494.20,611.25 496.00,611.36" fill="#000"/>
<polygon points="504.20,609.75 505.00,611.36 506.80,611.25 505.80,612.75 506.80,614.25 505.00,614.14 504.20,615.75 503.40,614.14 501.60,614.25 502.60,612.75 501.60,611.25 503.40,611.36" fill="#000"/>
<g transform="translate(5.544,26.620) scale(0.9595,0.9595)"><text x="131.90" y="690.80" font-size="10" text-anchor="middle" font-weight="bold" font-style="normal" font-family='"Liberation Serif", serif'>Blood (day 9)</text></g>
<g transform="translate(-3.116,-32.099) scale(1.0460,1.0460)"><text x="68.80" y="703.60" font-size="7.7" text-anchor="middle" font-weight="bold" font-style="normal" font-family='"Liberation Serif", serif'>CTL</text></g>
<g transform="translate(-4.056,-15.863) scale(1.0221,1.0221)"><text x="190.50" y="703.80" font-size="7.8" text-anchor="middle" font-weight="bold" font-style="normal" font-family='"Liberation Serif", serif'>MC-21</text></g>
<rect x="44.6" y="709.2" width="72.0" height="71.19999999999993" fill="none" stroke="#b4b4b4" stroke-width="1.1"/>
<line x1="42.60" y1="716.80" x2="44.60" y2="716.80" stroke="#444" stroke-width="0.8"/>
<text x="41.4" y="718.3" font-size="4.6" font-weight="bold" font-family='"Liberation Serif", serif' text-anchor="end" fill="#111" stroke="#111" stroke-width="0.12">10<tspan font-size="3.3" dy="-1.8">5</tspan></text>
<line x1="42.60" y1="731.25" x2="44.60" y2="731.25" stroke="#444" stroke-width="0.8"/>
<text x="41.4" y="732.8" font-size="4.6" font-weight="bold" font-family='"Liberation Serif", serif' text-anchor="end" fill="#111" stroke="#111" stroke-width="0.12">10<tspan font-size="3.3" dy="-1.8">4</tspan></text>
<line x1="42.60" y1="746.60" x2="44.60" y2="746.60" stroke="#444" stroke-width="0.8"/>
<text x="41.4" y="748.1" font-size="4.6" font-weight="bold" font-family='"Liberation Serif", serif' text-anchor="end" fill="#111" stroke="#111" stroke-width="0.12">10<tspan font-size="3.3" dy="-1.8">3</tspan></text>
<line x1="42.60" y1="762.50" x2="44.60" y2="762.50" stroke="#444" stroke-width="0.8"/>
<text x="41.4" y="764.0" font-size="4.6" font-weight="bold" font-family='"Liberation Serif", serif' text-anchor="end" fill="#111" stroke="#111" stroke-width="0.12">10<tspan font-size="3.3" dy="-1.8">2</tspan></text>
<line x1="42.60" y1="771.20" x2="44.60" y2="771.20" stroke="#444" stroke-width="0.8"/>
<text x="42.1" y="772.7" font-size="4.6" font-weight="bold" font-family='"Liberation Serif", serif' text-anchor="end" fill="#111" stroke="#111" stroke-width="0.12">0</text>
<line x1="43.60" y1="712.00" x2="44.60" y2="712.00" stroke="#888" stroke-width="0.5"/>
<line x1="43.60" y1="715.00" x2="44.60" y2="715.00" stroke="#888" stroke-width="0.5"/>
<line x1="43.60" y1="718.00" x2="44.60" y2="718.00" stroke="#888" stroke-width="0.5"/>
<line x1="43.60" y1="721.00" x2="44.60" y2="721.00" stroke="#888" stroke-width="0.5"/>
<line x1="43.60" y1="724.00" x2="44.60" y2="724.00" stroke="#888" stroke-width="0.5"/>
<line x1="43.60" y1="727.00" x2="44.60" y2="727.00" stroke="#888" stroke-width="0.5"/>
<line x1="43.60" y1="730.00" x2="44.60" y2="730.00" stroke="#888" stroke-width="0.5"/>
<line x1="43.60" y1="733.00" x2="44.60" y2="733.00" stroke="#888" stroke-width="0.5"/>
<line x1="43.60" y1="736.00" x2="44.60" y2="736.00" stroke="#888" stroke-width="0.5"/>
<line x1="43.60" y1="739.00" x2="44.60" y2="739.00" stroke="#888" stroke-width="0.5"/>
<line x1="43.60" y1="742.00" x2="44.60" y2="742.00" stroke="#888" stroke-width="0.5"/>
<line x1="43.60" y1="745.00" x2="44.60" y2="745.00" stroke="#888" stroke-width="0.5"/>
<line x1="43.60" y1="748.00" x2="44.60" y2="748.00" stroke="#888" stroke-width="0.5"/>
<line x1="43.60" y1="751.00" x2="44.60" y2="751.00" stroke="#888" stroke-width="0.5"/>
<line x1="43.60" y1="754.00" x2="44.60" y2="754.00" stroke="#888" stroke-width="0.5"/>
<line x1="43.60" y1="757.00" x2="44.60" y2="757.00" stroke="#888" stroke-width="0.5"/>
<line x1="43.60" y1="760.00" x2="44.60" y2="760.00" stroke="#888" stroke-width="0.5"/>
<line x1="43.60" y1="763.00" x2="44.60" y2="763.00" stroke="#888" stroke-width="0.5"/>
<line x1="43.60" y1="766.00" x2="44.60" y2="766.00" stroke="#888" stroke-width="0.5"/>
<line x1="43.60" y1="769.00" x2="44.60" y2="769.00" stroke="#888" stroke-width="0.5"/>
<line x1="43.60" y1="772.00" x2="44.60" y2="772.00" stroke="#888" stroke-width="0.5"/>
<line x1="43.60" y1="775.00" x2="44.60" y2="775.00" stroke="#888" stroke-width="0.5"/>
<line x1="43.60" y1="778.00" x2="44.60" y2="778.00" stroke="#888" stroke-width="0.5"/>
<circle cx="43.9" cy="770.9" r="1.25" fill="#000"/>
<line x1="56.90" y1="780.40" x2="56.90" y2="782.20" stroke="#444" stroke-width="0.8"/>
<text x="56.9" y="789.5" font-size="4.6" font-weight="bold" font-family='"Liberation Serif", serif' text-anchor="middle" fill="#111" stroke="#111" stroke-width="0.12">0</text>
<line x1="79.80" y1="780.40" x2="79.80" y2="782.20" stroke="#444" stroke-width="0.8"/>
<text x="79.8" y="789.5" font-size="4.6" font-weight="bold" font-family='"Liberation Serif", serif' text-anchor="middle" fill="#111" stroke="#111" stroke-width="0.12">10<tspan font-size="3.3" dy="-1.8">3</tspan></text>
<line x1="94.60" y1="780.40" x2="94.60" y2="782.20" stroke="#444" stroke-width="0.8"/>
<text x="94.6" y="789.5" font-size="4.6" font-weight="bold" font-family='"Liberation Serif", serif' text-anchor="middle" fill="#111" stroke="#111" stroke-width="0.12">10<tspan font-size="3.3" dy="-1.8">4</tspan></text>
<line x1="108.40" y1="780.40" x2="108.40" y2="782.20" stroke="#444" stroke-width="0.8"/>
<text x="108.4" y="789.5" font-size="4.6" font-weight="bold" font-family='"Liberation Serif", serif' text-anchor="middle" fill="#111" stroke="#111" stroke-width="0.12">10<tspan font-size="3.3" dy="-1.8">5</tspan></text>
<line x1="47.00" y1="780.40" x2="47.00" y2="781.30" stroke="#888" stroke-width="0.5"/>
<line x1="50.00" y1="780.40" x2="50.00" y2="781.30" stroke="#888" stroke-width="0.5"/>
<line x1="53.00" y1="780.40" x2="53.00" y2="781.30" stroke="#888" stroke-width="0.5"/>
<line x1="56.00" y1="780.40" x2="56.00" y2="781.30" stroke="#888" stroke-width="0.5"/>
<line x1="59.00" y1="780.40" x2="59.00" y2="781.30" stroke="#888" stroke-width="0.5"/>
<line x1="62.00" y1="780.40" x2="62.00" y2="781.30" stroke="#888" stroke-width="0.5"/>
<line x1="65.00" y1="780.40" x2="65.00" y2="781.30" stroke="#888" stroke-width="0.5"/>
<line x1="68.00" y1="780.40" x2="68.00" y2="781.30" stroke="#888" stroke-width="0.5"/>
<line x1="71.00" y1="780.40" x2="71.00" y2="781.30" stroke="#888" stroke-width="0.5"/>
<line x1="74.00" y1="780.40" x2="74.00" y2="781.30" stroke="#888" stroke-width="0.5"/>
<line x1="77.00" y1="780.40" x2="77.00" y2="781.30" stroke="#888" stroke-width="0.5"/>
<line x1="80.00" y1="780.40" x2="80.00" y2="781.30" stroke="#888" stroke-width="0.5"/>
<line x1="83.00" y1="780.40" x2="83.00" y2="781.30" stroke="#888" stroke-width="0.5"/>
<line x1="86.00" y1="780.40" x2="86.00" y2="781.30" stroke="#888" stroke-width="0.5"/>
<line x1="89.00" y1="780.40" x2="89.00" y2="781.30" stroke="#888" stroke-width="0.5"/>
<line x1="92.00" y1="780.40" x2="92.00" y2="781.30" stroke="#888" stroke-width="0.5"/>
<line x1="95.00" y1="780.40" x2="95.00" y2="781.30" stroke="#888" stroke-width="0.5"/>
<line x1="98.00" y1="780.40" x2="98.00" y2="781.30" stroke="#888" stroke-width="0.5"/>
<line x1="101.00" y1="780.40" x2="101.00" y2="781.30" stroke="#888" stroke-width="0.5"/>
<line x1="104.00" y1="780.40" x2="104.00" y2="781.30" stroke="#888" stroke-width="0.5"/>
<line x1="107.00" y1="780.40" x2="107.00" y2="781.30" stroke="#888" stroke-width="0.5"/>
<line x1="110.00" y1="780.40" x2="110.00" y2="781.30" stroke="#888" stroke-width="0.5"/>
<line x1="113.00" y1="780.40" x2="113.00" y2="781.30" stroke="#888" stroke-width="0.5"/>
<rect x="52.9" y="780.6" width="8" height="1.2" fill="#333"/>
<g filter="url(#bl2)" transform="rotate(0 86 760)"><ellipse cx="86" cy="760" rx="11" ry="7" fill="#c8c8f6" fill-opacity="0.45"/></g>
<circle cx="84.0" cy="760.3" r="0.36" fill="#3f8ee6" fill-opacity="0.81"/><circle cx="94.8" cy="761.3" r="0.41" fill="#4f70e0" fill-opacity="0.44"/><circle cx="80.8" cy="759.6" r="0.48" fill="#4f70e0" fill-opacity="0.81"/><circle cx="90.1" cy="760.2" r="0.52" fill="#3f8ee6" fill-opacity="0.43"/><circle cx="83.8" cy="757.3" r="0.36" fill="#8a8cf0" fill-opacity="0.83"/><circle cx="84.9" cy="760.4" r="0.52" fill="#6c7ce8" fill-opacity="0.68"/><circle cx="84.5" cy="756.1" r="0.54" fill="#4f70e0" fill-opacity="0.59"/><circle cx="83.2" cy="757.5" r="0.54" fill="#6c7ce8" fill-opacity="0.65"/><circle cx="82.1" cy="760.6" r="0.56" fill="#8a8cf0" fill-opacity="0.52"/><circle cx="77.3" cy="755.5" r="0.57" fill="#5f78e6" fill-opacity="0.54"/><circle cx="90.0" cy="757.7" r="0.40" fill="#9a9cf2" fill-opacity="0.57"/><circle cx="93.6" cy="756.1" r="0.37" fill="#3f8ee6" fill-opacity="0.68"/><circle cx="82.0" cy="761.5" r="0.52" fill="#9a9cf2" fill-opacity="0.63"/><circle cx="74.3" cy="759.1" r="0.57" fill="#6c7ce8" fill-opacity="0.55"/><circle cx="75.3" cy="754.8" r="0.44" fill="#9a9cf2" fill-opacity="0.59"/><circle cx="85.2" cy="757.2" r="0.46" fill="#9a9cf2" fill-opacity="0.71"/><circle cx="80.4" cy="758.1" r="0.39" fill="#5f78e6" fill-opacity="0.52"/><circle cx="93.6" cy="760.4" r="0.43" fill="#4f70e0" fill-opacity="0.47"/><circle cx="76.8" cy="760.4" r="0.47" fill="#3f8ee6" fill-opacity="0.58"/><circle cx="88.9" cy="760.3" r="0.55" fill="#8a8cf0" fill-opacity="0.41"/><circle cx="88.5" cy="755.5" r="0.35" fill="#5f78e6" fill-opacity="0.61"/><circle cx="79.0" cy="762.3" r="0.56" fill="#8a8cf0" fill-opacity="0.66"/><circle cx="77.1" cy="753.4" r="0.49" fill="#6c7ce8" fill-opacity="0.84"/><circle cx="97.5" cy="756.0" r="0.47" fill="#4f70e0" fill-opacity="0.60"/><circle cx="95.0" cy="761.9" r="0.41" fill="#6c7ce8" fill-opacity="0.89"/><circle cx="82.4" cy="758.8" r="0.37" fill="#4f70e0" fill-opacity="0.40"/><circle cx="88.2" cy="759.7" r="0.53" fill="#5f78e6" fill-opacity="0.44"/><circle cx="88.0" cy="762.2" r="0.43" fill="#3f8ee6" fill-opacity="0.57"/><circle cx="83.3" cy="759.7" r="0.65" fill="#9a9cf2" fill-opacity="0.63"/><circle cx="82.6" cy="758.2" r="0.57" fill="#6c7ce8" fill-opacity="0.77"/><circle cx="73.8" cy="758.9" r="0.36" fill="#4f70e0" fill-opacity="0.88"/><circle cx="81.6" cy="757.6" r="0.62" fill="#4f70e0" fill-opacity="0.78"/><circle cx="82.6" cy="764.2" r="0.56" fill="#6c7ce8" fill-opacity="0.53"/><circle cx="82.8" cy="760.0" r="0.51" fill="#8a8cf0" fill-opacity="0.79"/><circle cx="83.3" cy="760.8" r="0.59" fill="#8a8cf0" fill-opacity="0.81"/><circle cx="85.6" cy="754.8" r="0.50" fill="#4f70e0" fill-opacity="0.77"/><circle cx="80.8" cy="758.5" r="0.64" fill="#4f70e0" fill-opacity="0.62"/><circle cx="93.3" cy="756.8" r="0.38" fill="#8a8cf0" fill-opacity="0.64"/><circle cx="81.2" cy="762.4" r="0.60" fill="#4f70e0" fill-opacity="0.64"/><circle cx="96.1" cy="761.4" r="0.58" fill="#9a9cf2" fill-opacity="0.78"/><circle cx="81.0" cy="758.4" r="0.45" fill="#3f8ee6" fill-opacity="0.80"/><circle cx="93.9" cy="757.2" r="0.57" fill="#9a9cf2" fill-opacity="0.44"/><circle cx="96.5" cy="759.0" r="0.59" fill="#9a9cf2" fill-opacity="0.47"/><circle cx="81.9" cy="754.5" r="0.51" fill="#4f70e0" fill-opacity="0.41"/><circle cx="96.6" cy="762.5" r="0.48" fill="#8a8cf0" fill-opacity="0.84"/><circle cx="88.5" cy="755.2" r="0.41" fill="#5f78e6" fill-opacity="0.65"/><circle cx="86.6" cy="754.0" r="0.48" fill="#4f70e0" fill-opacity="0.47"/><circle cx="92.3" cy="755.7" r="0.55" fill="#9a9cf2" fill-opacity="0.81"/><circle cx="89.1" cy="756.3" r="0.51" fill="#8a8cf0" fill-opacity="0.41"/><circle cx="81.3" cy="759.1" r="0.58" fill="#6c7ce8" fill-opacity="0.47"/><circle cx="93.0" cy="762.9" r="0.52" fill="#6c7ce8" fill-opacity="0.56"/><circle cx="75.9" cy="757.3" r="0.61" fill="#6c7ce8" fill-opacity="0.43"/><circle cx="86.8" cy="759.2" r="0.50" fill="#6c7ce8" fill-opacity="0.68"/><circle cx="75.7" cy="760.2" r="0.53" fill="#4f70e0" fill-opacity="0.50"/><circle cx="84.4" cy="763.3" r="0.50" fill="#9a9cf2" fill-opacity="0.52"/><circle cx="90.2" cy="756.1" r="0.39" fill="#9a9cf2" fill-opacity="0.46"/><circle cx="83.1" cy="758.6" r="0.48" fill="#8a8cf0" fill-opacity="0.51"/><circle cx="84.7" cy="760.2" r="0.63" fill="#8a8cf0" fill-opacity="0.72"/><circle cx="81.9" cy="760.6" r="0.64" fill="#8a8cf0" fill-opacity="0.51"/><circle cx="93.7" cy="756.7" r="0.40" fill="#9a9cf2" fill-opacity="0.73"/><circle cx="88.1" cy="764.9" r="0.47" fill="#4f70e0" fill-opacity="0.61"/><circle cx="83.8" cy="759.6" r="0.36" fill="#5f78e6" fill-opacity="0.68"/><circle cx="84.6" cy="758.3" r="0.51" fill="#5f78e6" fill-opacity="0.55"/><circle cx="89.8" cy="757.5" r="0.64" fill="#8a8cf0" fill-opacity="0.45"/><circle cx="85.8" cy="759.3" r="0.43" fill="#8a8cf0" fill-opacity="0.46"/><circle cx="88.6" cy="754.8" r="0.51" fill="#8a8cf0" fill-opacity="0.66"/><circle cx="78.9" cy="758.1" r="0.37" fill="#5f78e6" fill-opacity="0.74"/><circle cx="83.2" cy="758.8" r="0.54" fill="#6c7ce8" fill-opacity="0.80"/><circle cx="79.0" cy="759.2" r="0.48" fill="#4f70e0" fill-opacity="0.86"/><circle cx="84.3" cy="757.1" r="0.42" fill="#3f8ee6" fill-opacity="0.45"/><circle cx="87.4" cy="759.2" r="0.63" fill="#8a8cf0" fill-opacity="0.71"/><circle cx="80.7" cy="757.4" r="0.50" fill="#9a9cf2" fill-opacity="0.49"/><circle cx="85.1" cy="758.7" r="0.36" fill="#5f78e6" fill-opacity="0.41"/><circle cx="80.0" cy="757.7" r="0.38" fill="#9a9cf2" fill-opacity="0.81"/><circle cx="77.5" cy="760.2" r="0.64" fill="#9a9cf2" fill-opacity="0.55"/><circle cx="87.3" cy="761.2" r="0.60" fill="#8a8cf0" fill-opacity="0.75"/><circle cx="80.6" cy="754.5" r="0.64" fill="#5f78e6" fill-opacity="0.82"/><circle cx="97.2" cy="758.6" r="0.48" fill="#5f78e6" fill-opacity="0.43"/><circle cx="82.0" cy="754.2" r="0.55" fill="#4f70e0" fill-opacity="0.54"/><circle cx="86.3" cy="761.7" r="0.41" fill="#9a9cf2" fill-opacity="0.53"/><circle cx="93.6" cy="758.1" r="0.64" fill="#5f78e6" fill-opacity="0.67"/><circle cx="86.7" cy="769.7" r="0.42" fill="#5f78e6" fill-opacity="0.49"/><circle cx="84.3" cy="759.6" r="0.50" fill="#5f78e6" fill-opacity="0.50"/><circle cx="85.2" cy="758.0" r="0.60" fill="#5f78e6" fill-opacity="0.47"/><circle cx="79.2" cy="755.7" r="0.44" fill="#5f78e6" fill-opacity="0.52"/><circle cx="77.6" cy="755.2" r="0.55" fill="#8a8cf0" fill-opacity="0.76"/><circle cx="91.8" cy="754.9" r="0.57" fill="#5f78e6" fill-opacity="0.65"/><circle cx="83.6" cy="764.1" r="0.36" fill="#8a8cf0" fill-opacity="0.82"/><circle cx="94.7" cy="754.0" r="0.56" fill="#3f8ee6" fill-opacity="0.65"/><circle cx="97.3" cy="754.0" r="0.60" fill="#4f70e0" fill-opacity="0.80"/><circle cx="95.5" cy="753.7" r="0.54" fill="#3f8ee6" fill-opacity="0.44"/><circle cx="97.0" cy="759.7" r="0.46" fill="#6c7ce8" fill-opacity="0.63"/><circle cx="87.5" cy="758.3" r="0.55" fill="#4f70e0" fill-opacity="0.64"/><circle cx="74.5" cy="756.6" r="0.57" fill="#6c7ce8" fill-opacity="0.64"/><circle cx="87.3" cy="765.5" r="0.57" fill="#8a8cf0" fill-opacity="0.89"/><circle cx="78.1" cy="758.2" r="0.62" fill="#9a9cf2" fill-opacity="0.54"/><circle cx="96.8" cy="759.8" r="0.37" fill="#8a8cf0" fill-opacity="0.47"/><circle cx="85.7" cy="765.4" r="0.54" fill="#5f78e6" fill-opacity="0.47"/><circle cx="76.8" cy="758.6" r="0.38" fill="#3f8ee6" fill-opacity="0.51"/><circle cx="84.0" cy="762.9" r="0.65" fill="#6c7ce8" fill-opacity="0.67"/><circle cx="84.7" cy="759.8" r="0.36" fill="#9a9cf2" fill-opacity="0.63"/><circle cx="80.0" cy="759.1" r="0.62" fill="#8a8cf0" fill-opacity="0.87"/><circle cx="89.1" cy="758.9" r="0.51" fill="#3f8ee6" fill-opacity="0.88"/><circle cx="96.0" cy="764.2" r="0.43" fill="#4f70e0" fill-opacity="0.46"/><circle cx="79.8" cy="762.0" r="0.47" fill="#9a9cf2" fill-opacity="0.48"/><circle cx="97.5" cy="755.9" r="0.44" fill="#9a9cf2" fill-opacity="0.47"/><circle cx="82.1" cy="761.3" r="0.35" fill="#5f78e6" fill-opacity="0.78"/><circle cx="88.1" cy="756.1" r="0.56" fill="#8a8cf0" fill-opacity="0.85"/><circle cx="84.1" cy="762.2" r="0.47" fill="#9a9cf2" fill-opacity="0.83"/><circle cx="85.5" cy="759.4" r="0.44" fill="#3f8ee6" fill-opacity="0.87"/><circle cx="86.0" cy="761.5" r="0.44" fill="#4f70e0" fill-opacity="0.79"/><circle cx="87.9" cy="753.4" r="0.59" fill="#6c7ce8" fill-opacity="0.72"/><circle cx="73.8" cy="755.8" r="0.63" fill="#6c7ce8" fill-opacity="0.61"/><circle cx="82.7" cy="756.4" r="0.50" fill="#5f78e6" fill-opacity="0.86"/><circle cx="81.3" cy="757.1" r="0.45" fill="#9a9cf2" fill-opacity="0.55"/><circle cx="85.3" cy="764.6" r="0.49" fill="#5f78e6" fill-opacity="0.73"/><circle cx="94.4" cy="762.4" r="0.41" fill="#6c7ce8" fill-opacity="0.85"/><circle cx="80.4" cy="758.1" r="0.65" fill="#5f78e6" fill-opacity="0.62"/><circle cx="89.3" cy="760.3" r="0.40" fill="#6c7ce8" fill-opacity="0.68"/><circle cx="82.8" cy="761.9" r="0.41" fill="#4f70e0" fill-opacity="0.41"/><circle cx="91.4" cy="754.8" r="0.51" fill="#3f8ee6" fill-opacity="0.59"/><circle cx="84.5" cy="759.4" r="0.52" fill="#5f78e6" fill-opacity="0.58"/><circle cx="77.4" cy="762.3" r="0.64" fill="#9a9cf2" fill-opacity="0.82"/><circle cx="87.2" cy="757.3" r="0.48" fill="#6c7ce8" fill-opacity="0.78"/><circle cx="82.9" cy="758.1" r="0.61" fill="#4f70e0" fill-opacity="0.89"/><circle cx="86.0" cy="760.2" r="0.40" fill="#8a8cf0" fill-opacity="0.89"/><circle cx="97.6" cy="763.3" r="0.54" fill="#3f8ee6" fill-opacity="0.78"/><circle cx="76.2" cy="759.5" r="0.35" fill="#6c7ce8" fill-opacity="0.46"/><circle cx="84.0" cy="757.5" r="0.44" fill="#3f8ee6" fill-opacity="0.46"/><circle cx="85.9" cy="764.4" r="0.58" fill="#3f8ee6" fill-opacity="0.45"/><circle cx="80.0" cy="768.3" r="0.47" fill="#8a8cf0" fill-opacity="0.51"/><circle cx="85.1" cy="757.6" r="0.65" fill="#5f78e6" fill-opacity="0.54"/><circle cx="79.8" cy="765.9" r="0.49" fill="#8a8cf0" fill-opacity="0.52"/><circle cx="86.4" cy="769.4" r="0.54" fill="#3f8ee6" fill-opacity="0.43"/><circle cx="91.7" cy="766.8" r="0.48" fill="#3f8ee6" fill-opacity="0.53"/><circle cx="86.3" cy="759.2" r="0.57" fill="#5f78e6" fill-opacity="0.58"/><circle cx="85.3" cy="758.3" r="0.57" fill="#5f78e6" fill-opacity="0.65"/><circle cx="91.9" cy="769.4" r="0.58" fill="#5f78e6" fill-opacity="0.50"/><circle cx="79.9" cy="758.8" r="0.38" fill="#5f78e6" fill-opacity="0.71"/><circle cx="96.1" cy="760.1" r="0.37" fill="#9a9cf2" fill-opacity="0.41"/><circle cx="79.2" cy="755.4" r="0.37" fill="#3f8ee6" fill-opacity="0.60"/><circle cx="92.5" cy="756.3" r="0.55" fill="#8a8cf0" fill-opacity="0.66"/><circle cx="79.2" cy="758.8" r="0.46" fill="#3f8ee6" fill-opacity="0.59"/><circle cx="83.6" cy="760.4" r="0.37" fill="#6c7ce8" fill-opacity="0.44"/><circle cx="76.0" cy="763.3" r="0.60" fill="#5f78e6" fill-opacity="0.62"/><circle cx="94.6" cy="759.6" r="0.51" fill="#5f78e6" fill-opacity="0.62"/><circle cx="80.2" cy="764.6" r="0.36" fill="#9a9cf2" fill-opacity="0.61"/><circle cx="88.1" cy="758.3" r="0.59" fill="#6c7ce8" fill-opacity="0.43"/><circle cx="87.0" cy="759.5" r="0.45" fill="#4f70e0" fill-opacity="0.54"/><circle cx="96.7" cy="756.4" r="0.57" fill="#5f78e6" fill-opacity="0.74"/><circle cx="92.0" cy="756.3" r="0.58" fill="#3f8ee6" fill-opacity="0.86"/><circle cx="91.8" cy="758.5" r="0.56" fill="#9a9cf2" fill-opacity="0.63"/><circle cx="98.6" cy="753.7" r="0.63" fill="#8a8cf0" fill-opacity="0.49"/><circle cx="80.4" cy="755.5" r="0.49" fill="#5f78e6" fill-opacity="0.79"/><circle cx="78.1" cy="755.0" r="0.58" fill="#9a9cf2" fill-opacity="0.52"/><circle cx="87.9" cy="758.5" r="0.51" fill="#4f70e0" fill-opacity="0.48"/><circle cx="82.6" cy="758.9" r="0.43" fill="#6c7ce8" fill-opacity="0.44"/><circle cx="93.7" cy="761.0" r="0.64" fill="#3f8ee6" fill-opacity="0.49"/><circle cx="92.0" cy="761.7" r="0.42" fill="#3f8ee6" fill-opacity="0.67"/><circle cx="87.2" cy="754.3" r="0.52" fill="#5f78e6" fill-opacity="0.59"/><circle cx="85.6" cy="755.0" r="0.41" fill="#8a8cf0" fill-opacity="0.52"/><circle cx="82.6" cy="767.6" r="0.45" fill="#8a8cf0" fill-opacity="0.60"/><circle cx="95.5" cy="757.7" r="0.54" fill="#8a8cf0" fill-opacity="0.45"/><circle cx="83.9" cy="758.3" r="0.49" fill="#6c7ce8" fill-opacity="0.81"/><circle cx="92.5" cy="758.9" r="0.37" fill="#6c7ce8" fill-opacity="0.70"/><circle cx="88.5" cy="755.4" r="0.46" fill="#6c7ce8" fill-opacity="0.83"/><circle cx="80.1" cy="759.1" r="0.63" fill="#3f8ee6" fill-opacity="0.45"/><circle cx="76.8" cy="754.4" r="0.36" fill="#8a8cf0" fill-opacity="0.57"/><circle cx="98.6" cy="759.7" r="0.59" fill="#8a8cf0" fill-opacity="0.81"/><circle cx="79.5" cy="760.3" r="0.44" fill="#4f70e0" fill-opacity="0.50"/><circle cx="89.4" cy="758.8" r="0.55" fill="#9a9cf2" fill-opacity="0.48"/><circle cx="74.6" cy="756.6" r="0.56" fill="#9a9cf2" fill-opacity="0.60"/><circle cx="84.6" cy="761.8" r="0.44" fill="#6c7ce8" fill-opacity="0.68"/><circle cx="80.8" cy="761.7" r="0.54" fill="#5f78e6" fill-opacity="0.60"/><circle cx="81.7" cy="759.1" r="0.60" fill="#6c7ce8" fill-opacity="0.60"/><circle cx="92.6" cy="754.6" r="0.39" fill="#8a8cf0" fill-opacity="0.43"/><circle cx="95.1" cy="764.4" r="0.38" fill="#9a9cf2" fill-opacity="0.71"/><circle cx="79.5" cy="761.9" r="0.45" fill="#8a8cf0" fill-opacity="0.48"/><circle cx="87.4" cy="759.5" r="0.50" fill="#9a9cf2" fill-opacity="0.80"/><circle cx="91.2" cy="757.4" r="0.60" fill="#8a8cf0" fill-opacity="0.42"/><circle cx="91.9" cy="756.0" r="0.63" fill="#4f70e0" fill-opacity="0.59"/><circle cx="95.2" cy="754.5" r="0.54" fill="#8a8cf0" fill-opacity="0.83"/><circle cx="78.0" cy="753.7" r="0.60" fill="#8a8cf0" fill-opacity="0.49"/><circle cx="87.6" cy="762.5" r="0.40" fill="#4f70e0" fill-opacity="0.58"/><circle cx="98.6" cy="767.6" r="0.36" fill="#8a8cf0" fill-opacity="0.68"/><circle cx="86.1" cy="756.7" r="0.39" fill="#5f78e6" fill-opacity="0.70"/><circle cx="75.3" cy="756.0" r="0.54" fill="#5f78e6" fill-opacity="0.55"/><circle cx="86.0" cy="762.5" r="0.48" fill="#5f78e6" fill-opacity="0.62"/><circle cx="97.0" cy="758.9" r="0.49" fill="#9a9cf2" fill-opacity="0.62"/><circle cx="83.6" cy="759.0" r="0.48" fill="#5f78e6" fill-opacity="0.45"/><circle cx="77.1" cy="759.9" r="0.36" fill="#6c7ce8" fill-opacity="0.47"/><circle cx="92.1" cy="756.2" r="0.50" fill="#3f8ee6" fill-opacity="0.43"/><circle cx="78.2" cy="757.9" r="0.36" fill="#8a8cf0" fill-opacity="0.43"/><circle cx="76.7" cy="753.5" r="0.41" fill="#6c7ce8" fill-opacity="0.89"/><circle cx="90.2" cy="756.6" r="0.63" fill="#3f8ee6" fill-opacity="0.43"/><circle cx="78.0" cy="764.1" r="0.45" fill="#8a8cf0" fill-opacity="0.71"/><circle cx="93.3" cy="755.2" r="0.50" fill="#5f78e6" fill-opacity="0.86"/><circle cx="87.6" cy="761.4" r="0.42" fill="#4f70e0" fill-opacity="0.59"/><circle cx="88.6" cy="762.3" r="0.63" fill="#3f8ee6" fill-opacity="0.74"/><circle cx="89.9" cy="756.3" r="0.38" fill="#5f78e6" fill-opacity="0.67"/><circle cx="81.1" cy="754.8" r="0.52" fill="#9a9cf2" fill-opacity="0.69"/><circle cx="88.8" cy="756.6" r="0.54" fill="#4f70e0" fill-opacity="0.60"/><circle cx="87.9" cy="754.6" r="0.52" fill="#5f78e6" fill-opacity="0.58"/><circle cx="86.8" cy="753.2" r="0.53" fill="#8a8cf0" fill-opacity="0.88"/><circle cx="83.2" cy="763.2" r="0.54" fill="#5f78e6" fill-opacity="0.89"/><circle cx="75.9" cy="754.6" r="0.57" fill="#5f78e6" fill-opacity="0.77"/><circle cx="87.2" cy="761.7" r="0.48" fill="#3f8ee6" fill-opacity="0.66"/><circle cx="89.4" cy="756.5" r="0.53" fill="#8a8cf0" fill-opacity="0.42"/><circle cx="95.8" cy="760.0" r="0.38" fill="#5f78e6" fill-opacity="0.58"/><circle cx="87.7" cy="763.9" r="0.39" fill="#4f70e0" fill-opacity="0.58"/><circle cx="88.2" cy="755.7" r="0.63" fill="#6c7ce8" fill-opacity="0.52"/><circle cx="88.1" cy="759.6" r="0.39" fill="#3f8ee6" fill-opacity="0.73"/><circle cx="84.2" cy="766.2" r="0.37" fill="#6c7ce8" fill-opacity="0.81"/><circle cx="94.4" cy="754.2" r="0.48" fill="#4f70e0" fill-opacity="0.87"/><circle cx="85.4" cy="754.6" r="0.36" fill="#6c7ce8" fill-opacity="0.67"/><circle cx="81.1" cy="759.8" r="0.62" fill="#6c7ce8" fill-opacity="0.45"/><circle cx="77.1" cy="753.7" r="0.39" fill="#8a8cf0" fill-opacity="0.50"/><circle cx="78.6" cy="754.6" r="0.47" fill="#3f8ee6" fill-opacity="0.71"/><circle cx="83.1" cy="757.9" r="0.36" fill="#3f8ee6" fill-opacity="0.84"/><circle cx="85.5" cy="753.1" r="0.65" fill="#8a8cf0" fill-opacity="0.53"/><circle cx="83.5" cy="756.2" r="0.63" fill="#3f8ee6" fill-opacity="0.87"/><circle cx="85.8" cy="759.5" r="0.52" fill="#3f8ee6" fill-opacity="0.62"/><circle cx="84.9" cy="764.4" r="0.38" fill="#8a8cf0" fill-opacity="0.65"/><circle cx="94.4" cy="766.5" r="0.41" fill="#3f8ee6" fill-opacity="0.48"/><circle cx="90.5" cy="756.5" r="0.45" fill="#9a9cf2" fill-opacity="0.52"/><circle cx="95.4" cy="754.5" r="0.64" fill="#3f8ee6" fill-opacity="0.82"/><circle cx="77.2" cy="756.8" r="0.56" fill="#4f70e0" fill-opacity="0.83"/><circle cx="74.1" cy="760.8" r="0.62" fill="#4f70e0" fill-opacity="0.79"/><circle cx="77.8" cy="761.8" r="0.62" fill="#4f70e0" fill-opacity="0.47"/><circle cx="89.7" cy="758.4" r="0.45" fill="#8a8cf0" fill-opacity="0.47"/>
<circle cx="88.4" cy="767.3" r="0.52" fill="#9c9cf2" fill-opacity="0.63"/><circle cx="96.4" cy="770.2" r="0.40" fill="#a4a8f4" fill-opacity="0.73"/><circle cx="73.7" cy="765.1" r="0.38" fill="#c0c0f6" fill-opacity="0.39"/><circle cx="87.7" cy="768.0" r="0.56" fill="#9c9cf2" fill-opacity="0.58"/><circle cx="85.1" cy="769.7" r="0.55" fill="#9c9cf2" fill-opacity="0.59"/><circle cx="83.9" cy="772.2" r="0.36" fill="#a4a8f4" fill-opacity="0.42"/><circle cx="80.9" cy="770.9" r="0.48" fill="#8c90ee" fill-opacity="0.68"/><circle cx="84.4" cy="766.0" r="0.36" fill="#c0c0f6" fill-opacity="0.53"/><circle cx="93.8" cy="770.9" r="0.48" fill="#9c9cf2" fill-opacity="0.40"/><circle cx="88.4" cy="765.0" r="0.39" fill="#a4a8f4" fill-opacity="0.30"/><circle cx="86.8" cy="766.9" r="0.37" fill="#c0c0f6" fill-opacity="0.61"/><circle cx="96.1" cy="753.0" r="0.44" fill="#8c90ee" fill-opacity="0.67"/><circle cx="84.8" cy="771.1" r="0.47" fill="#b0b0f4" fill-opacity="0.35"/><circle cx="83.7" cy="765.1" r="0.55" fill="#8c90ee" fill-opacity="0.58"/><circle cx="80.7" cy="771.8" r="0.57" fill="#c0c0f6" fill-opacity="0.64"/><circle cx="75.2" cy="771.1" r="0.40" fill="#a4a8f4" fill-opacity="0.42"/><circle cx="94.2" cy="762.9" r="0.60" fill="#c0c0f6" fill-opacity="0.58"/><circle cx="90.2" cy="765.9" r="0.54" fill="#8c90ee" fill-opacity="0.64"/><circle cx="81.2" cy="762.6" r="0.48" fill="#a4a8f4" fill-opacity="0.69"/><circle cx="75.7" cy="769.3" r="0.39" fill="#a4a8f4" fill-opacity="0.50"/><circle cx="87.6" cy="759.2" r="0.43" fill="#b0b0f4" fill-opacity="0.59"/><circle cx="82.7" cy="760.3" r="0.43" fill="#a4a8f4" fill-opacity="0.62"/><circle cx="88.7" cy="764.1" r="0.59" fill="#b0b0f4" fill-opacity="0.63"/><circle cx="79.7" cy="763.7" r="0.43" fill="#b0b0f4" fill-opacity="0.39"/><circle cx="92.7" cy="770.5" r="0.55" fill="#b0b0f4" fill-opacity="0.63"/><circle cx="80.8" cy="768.6" r="0.42" fill="#9c9cf2" fill-opacity="0.70"/><circle cx="84.7" cy="767.2" r="0.52" fill="#c0c0f6" fill-opacity="0.53"/><circle cx="79.6" cy="762.1" r="0.41" fill="#b0b0f4" fill-opacity="0.63"/><circle cx="92.3" cy="767.2" r="0.53" fill="#c0c0f6" fill-opacity="0.56"/><circle cx="76.1" cy="757.7" r="0.56" fill="#8c90ee" fill-opacity="0.61"/><circle cx="80.1" cy="761.9" r="0.41" fill="#a4a8f4" fill-opacity="0.62"/><circle cx="91.0" cy="764.3" r="0.53" fill="#c0c0f6" fill-opacity="0.58"/><circle cx="86.0" cy="773.3" r="0.35" fill="#c0c0f6" fill-opacity="0.69"/><circle cx="73.6" cy="766.0" r="0.57" fill="#b0b0f4" fill-opacity="0.45"/><circle cx="89.4" cy="765.4" r="0.49" fill="#a4a8f4" fill-opacity="0.37"/><circle cx="90.0" cy="753.0" r="0.44" fill="#8c90ee" fill-opacity="0.68"/><circle cx="80.5" cy="768.1" r="0.48" fill="#c0c0f6" fill-opacity="0.59"/><circle cx="90.9" cy="760.6" r="0.54" fill="#c0c0f6" fill-opacity="0.51"/><circle cx="91.4" cy="766.8" r="0.54" fill="#8c90ee" fill-opacity="0.36"/><circle cx="93.9" cy="766.5" r="0.41" fill="#9c9cf2" fill-opacity="0.47"/><circle cx="89.1" cy="767.9" r="0.51" fill="#c0c0f6" fill-opacity="0.60"/><circle cx="82.4" cy="765.6" r="0.54" fill="#a4a8f4" fill-opacity="0.72"/><circle cx="80.1" cy="766.3" r="0.47" fill="#c0c0f6" fill-opacity="0.37"/><circle cx="88.9" cy="766.0" r="0.47" fill="#b0b0f4" fill-opacity="0.55"/><circle cx="78.7" cy="773.8" r="0.47" fill="#c0c0f6" fill-opacity="0.43"/><circle cx="81.8" cy="766.1" r="0.44" fill="#c0c0f6" fill-opacity="0.68"/><circle cx="85.1" cy="772.8" r="0.60" fill="#a4a8f4" fill-opacity="0.61"/><circle cx="88.4" cy="761.6" r="0.43" fill="#a4a8f4" fill-opacity="0.52"/><circle cx="83.4" cy="765.2" r="0.39" fill="#a4a8f4" fill-opacity="0.44"/><circle cx="83.3" cy="768.7" r="0.58" fill="#8c90ee" fill-opacity="0.65"/><circle cx="96.2" cy="775.7" r="0.35" fill="#8c90ee" fill-opacity="0.31"/><circle cx="97.9" cy="764.4" r="0.50" fill="#a4a8f4" fill-opacity="0.56"/><circle cx="89.3" cy="763.9" r="0.44" fill="#c0c0f6" fill-opacity="0.37"/><circle cx="98.4" cy="761.0" r="0.50" fill="#b0b0f4" fill-opacity="0.61"/><circle cx="89.7" cy="766.6" r="0.55" fill="#8c90ee" fill-opacity="0.68"/><circle cx="90.2" cy="775.7" r="0.37" fill="#8c90ee" fill-opacity="0.68"/><circle cx="84.0" cy="764.4" r="0.42" fill="#9c9cf2" fill-opacity="0.41"/><circle cx="92.3" cy="772.4" r="0.47" fill="#9c9cf2" fill-opacity="0.71"/><circle cx="84.0" cy="762.7" r="0.48" fill="#b0b0f4" fill-opacity="0.69"/><circle cx="75.3" cy="768.5" r="0.56" fill="#a4a8f4" fill-opacity="0.47"/><circle cx="96.8" cy="770.9" r="0.36" fill="#9c9cf2" fill-opacity="0.32"/><circle cx="87.4" cy="764.5" r="0.47" fill="#c0c0f6" fill-opacity="0.70"/><circle cx="99.2" cy="769.0" r="0.43" fill="#b0b0f4" fill-opacity="0.69"/><circle cx="79.6" cy="772.1" r="0.49" fill="#8c90ee" fill-opacity="0.71"/><circle cx="84.3" cy="772.4" r="0.49" fill="#a4a8f4" fill-opacity="0.67"/><circle cx="77.7" cy="771.0" r="0.57" fill="#a4a8f4" fill-opacity="0.46"/><circle cx="88.8" cy="773.7" r="0.43" fill="#9c9cf2" fill-opacity="0.44"/><circle cx="82.6" cy="774.6" r="0.55" fill="#9c9cf2" fill-opacity="0.32"/><circle cx="83.0" cy="754.7" r="0.49" fill="#8c90ee" fill-opacity="0.48"/><circle cx="88.0" cy="768.2" r="0.50" fill="#c0c0f6" fill-opacity="0.60"/><circle cx="90.5" cy="754.2" r="0.44" fill="#8c90ee" fill-opacity="0.37"/><circle cx="80.0" cy="758.9" r="0.40" fill="#9c9cf2" fill-opacity="0.60"/><circle cx="90.3" cy="769.3" r="0.46" fill="#9c9cf2" fill-opacity="0.35"/><circle cx="87.3" cy="766.6" r="0.55" fill="#b0b0f4" fill-opacity="0.55"/><circle cx="85.6" cy="772.1" r="0.36" fill="#c0c0f6" fill-opacity="0.31"/><circle cx="75.8" cy="763.8" r="0.47" fill="#9c9cf2" fill-opacity="0.53"/><circle cx="92.6" cy="757.8" r="0.49" fill="#c0c0f6" fill-opacity="0.71"/><circle cx="84.6" cy="767.3" r="0.50" fill="#c0c0f6" fill-opacity="0.75"/><circle cx="83.3" cy="764.1" r="0.49" fill="#c0c0f6" fill-opacity="0.34"/><circle cx="79.7" cy="762.5" r="0.52" fill="#9c9cf2" fill-opacity="0.35"/><circle cx="89.6" cy="766.5" r="0.38" fill="#9c9cf2" fill-opacity="0.31"/><circle cx="84.8" cy="762.6" r="0.58" fill="#b0b0f4" fill-opacity="0.46"/><circle cx="85.8" cy="757.8" r="0.53" fill="#b0b0f4" fill-opacity="0.34"/><circle cx="76.8" cy="760.2" r="0.52" fill="#c0c0f6" fill-opacity="0.70"/><circle cx="88.4" cy="766.0" r="0.35" fill="#9c9cf2" fill-opacity="0.31"/><circle cx="76.8" cy="758.0" r="0.45" fill="#9c9cf2" fill-opacity="0.44"/><circle cx="91.9" cy="759.9" r="0.44" fill="#a4a8f4" fill-opacity="0.56"/><circle cx="74.2" cy="770.4" r="0.59" fill="#b0b0f4" fill-opacity="0.35"/><circle cx="90.9" cy="766.0" r="0.47" fill="#c0c0f6" fill-opacity="0.65"/><circle cx="79.5" cy="768.4" r="0.43" fill="#8c90ee" fill-opacity="0.43"/><circle cx="77.1" cy="761.0" r="0.43" fill="#8c90ee" fill-opacity="0.57"/><circle cx="80.1" cy="763.9" r="0.59" fill="#c0c0f6" fill-opacity="0.41"/><circle cx="79.7" cy="770.8" r="0.55" fill="#b0b0f4" fill-opacity="0.43"/><circle cx="92.6" cy="767.0" r="0.39" fill="#c0c0f6" fill-opacity="0.71"/><circle cx="87.2" cy="756.5" r="0.56" fill="#a4a8f4" fill-opacity="0.67"/><circle cx="93.4" cy="761.2" r="0.59" fill="#a4a8f4" fill-opacity="0.66"/><circle cx="75.5" cy="767.0" r="0.49" fill="#8c90ee" fill-opacity="0.66"/><circle cx="91.6" cy="765.2" r="0.36" fill="#8c90ee" fill-opacity="0.48"/><circle cx="81.0" cy="753.8" r="0.54" fill="#8c90ee" fill-opacity="0.66"/><circle cx="82.5" cy="767.6" r="0.54" fill="#a4a8f4" fill-opacity="0.40"/><circle cx="93.7" cy="762.2" r="0.48" fill="#c0c0f6" fill-opacity="0.39"/><circle cx="86.9" cy="769.6" r="0.44" fill="#a4a8f4" fill-opacity="0.55"/><circle cx="77.6" cy="771.2" r="0.41" fill="#b0b0f4" fill-opacity="0.72"/><circle cx="79.4" cy="771.8" r="0.39" fill="#9c9cf2" fill-opacity="0.57"/><circle cx="80.2" cy="773.0" r="0.37" fill="#9c9cf2" fill-opacity="0.39"/><circle cx="93.6" cy="761.4" r="0.49" fill="#8c90ee" fill-opacity="0.42"/><circle cx="87.6" cy="760.8" r="0.54" fill="#c0c0f6" fill-opacity="0.67"/><circle cx="92.3" cy="766.0" r="0.43" fill="#9c9cf2" fill-opacity="0.75"/><circle cx="84.6" cy="768.0" r="0.49" fill="#9c9cf2" fill-opacity="0.69"/><circle cx="88.6" cy="765.8" r="0.51" fill="#8c90ee" fill-opacity="0.71"/><circle cx="85.0" cy="764.5" r="0.49" fill="#a4a8f4" fill-opacity="0.59"/><circle cx="98.2" cy="764.6" r="0.40" fill="#c0c0f6" fill-opacity="0.68"/><circle cx="81.7" cy="770.2" r="0.39" fill="#b0b0f4" fill-opacity="0.72"/><circle cx="88.8" cy="766.2" r="0.58" fill="#8c90ee" fill-opacity="0.68"/><circle cx="82.9" cy="758.6" r="0.36" fill="#c0c0f6" fill-opacity="0.37"/><circle cx="82.8" cy="762.5" r="0.46" fill="#8c90ee" fill-opacity="0.59"/><circle cx="77.9" cy="768.1" r="0.38" fill="#c0c0f6" fill-opacity="0.52"/><circle cx="89.1" cy="770.9" r="0.58" fill="#b0b0f4" fill-opacity="0.70"/><circle cx="87.5" cy="763.7" r="0.37" fill="#b0b0f4" fill-opacity="0.58"/><circle cx="76.1" cy="774.1" r="0.59" fill="#c0c0f6" fill-opacity="0.72"/><circle cx="84.7" cy="767.8" r="0.46" fill="#9c9cf2" fill-opacity="0.45"/><circle cx="90.3" cy="760.9" r="0.39" fill="#a4a8f4" fill-opacity="0.40"/><circle cx="98.6" cy="770.3" r="0.57" fill="#8c90ee" fill-opacity="0.50"/><circle cx="91.2" cy="772.0" r="0.39" fill="#b0b0f4" fill-opacity="0.42"/><circle cx="90.1" cy="762.4" r="0.42" fill="#b0b0f4" fill-opacity="0.35"/><circle cx="76.6" cy="768.9" r="0.59" fill="#b0b0f4" fill-opacity="0.33"/><circle cx="96.0" cy="761.5" r="0.49" fill="#b0b0f4" fill-opacity="0.68"/><circle cx="96.4" cy="773.8" r="0.46" fill="#a4a8f4" fill-opacity="0.42"/><circle cx="86.4" cy="771.4" r="0.42" fill="#c0c0f6" fill-opacity="0.70"/><circle cx="98.8" cy="770.4" r="0.39" fill="#a4a8f4" fill-opacity="0.59"/><circle cx="76.5" cy="769.5" r="0.39" fill="#8c90ee" fill-opacity="0.30"/><circle cx="91.1" cy="760.6" r="0.44" fill="#b0b0f4" fill-opacity="0.32"/><circle cx="80.2" cy="769.6" r="0.38" fill="#b0b0f4" fill-opacity="0.38"/><circle cx="87.7" cy="757.6" r="0.50" fill="#b0b0f4" fill-opacity="0.67"/><circle cx="96.6" cy="760.8" r="0.39" fill="#a4a8f4" fill-opacity="0.36"/><circle cx="80.2" cy="759.6" r="0.50" fill="#b0b0f4" fill-opacity="0.39"/><circle cx="98.6" cy="770.9" r="0.56" fill="#c0c0f6" fill-opacity="0.71"/><circle cx="78.2" cy="766.4" r="0.56" fill="#a4a8f4" fill-opacity="0.69"/><circle cx="84.5" cy="767.0" r="0.38" fill="#c0c0f6" fill-opacity="0.60"/><circle cx="86.1" cy="774.7" r="0.36" fill="#a4a8f4" fill-opacity="0.62"/><circle cx="89.2" cy="766.5" r="0.53" fill="#a4a8f4" fill-opacity="0.67"/><circle cx="91.0" cy="763.1" r="0.49" fill="#c0c0f6" fill-opacity="0.70"/><circle cx="85.0" cy="769.8" r="0.46" fill="#c0c0f6" fill-opacity="0.31"/><circle cx="87.5" cy="764.0" r="0.59" fill="#b0b0f4" fill-opacity="0.40"/><circle cx="87.6" cy="769.5" r="0.49" fill="#a4a8f4" fill-opacity="0.73"/><circle cx="85.5" cy="762.3" r="0.51" fill="#8c90ee" fill-opacity="0.51"/><circle cx="86.7" cy="773.5" r="0.57" fill="#a4a8f4" fill-opacity="0.62"/><circle cx="90.2" cy="767.9" r="0.50" fill="#c0c0f6" fill-opacity="0.64"/><circle cx="89.3" cy="768.9" r="0.49" fill="#b0b0f4" fill-opacity="0.40"/><circle cx="87.8" cy="775.8" r="0.54" fill="#c0c0f6" fill-opacity="0.37"/><circle cx="95.2" cy="754.4" r="0.52" fill="#c0c0f6" fill-opacity="0.57"/><circle cx="84.2" cy="766.0" r="0.54" fill="#9c9cf2" fill-opacity="0.45"/><circle cx="86.5" cy="772.4" r="0.56" fill="#c0c0f6" fill-opacity="0.55"/><circle cx="93.4" cy="766.5" r="0.56" fill="#c0c0f6" fill-opacity="0.32"/><circle cx="91.9" cy="765.2" r="0.52" fill="#c0c0f6" fill-opacity="0.31"/><circle cx="90.2" cy="769.4" r="0.46" fill="#a4a8f4" fill-opacity="0.53"/><circle cx="90.6" cy="767.4" r="0.54" fill="#c0c0f6" fill-opacity="0.72"/><circle cx="75.6" cy="758.9" r="0.36" fill="#9c9cf2" fill-opacity="0.59"/><circle cx="84.7" cy="776.0" r="0.51" fill="#a4a8f4" fill-opacity="0.66"/><circle cx="89.8" cy="767.6" r="0.48" fill="#9c9cf2" fill-opacity="0.50"/><circle cx="92.7" cy="765.5" r="0.44" fill="#a4a8f4" fill-opacity="0.38"/><circle cx="95.8" cy="771.1" r="0.46" fill="#b0b0f4" fill-opacity="0.53"/><circle cx="80.0" cy="764.8" r="0.54" fill="#9c9cf2" fill-opacity="0.43"/><circle cx="87.5" cy="772.8" r="0.53" fill="#8c90ee" fill-opacity="0.51"/><circle cx="74.8" cy="764.5" r="0.55" fill="#c0c0f6" fill-opacity="0.31"/><circle cx="83.2" cy="770.4" r="0.45" fill="#8c90ee" fill-opacity="0.56"/><circle cx="93.9" cy="767.4" r="0.43" fill="#b0b0f4" fill-opacity="0.45"/><circle cx="86.6" cy="769.0" r="0.39" fill="#9c9cf2" fill-opacity="0.33"/><circle cx="92.3" cy="762.3" r="0.48" fill="#9c9cf2" fill-opacity="0.68"/><circle cx="77.2" cy="775.1" r="0.41" fill="#8c90ee" fill-opacity="0.73"/><circle cx="85.6" cy="763.5" r="0.52" fill="#a4a8f4" fill-opacity="0.36"/><circle cx="89.4" cy="774.9" r="0.56" fill="#a4a8f4" fill-opacity="0.53"/><circle cx="85.0" cy="757.1" r="0.42" fill="#c0c0f6" fill-opacity="0.58"/><circle cx="77.1" cy="760.1" r="0.57" fill="#c0c0f6" fill-opacity="0.30"/><circle cx="87.1" cy="759.1" r="0.45" fill="#c0c0f6" fill-opacity="0.75"/><circle cx="83.8" cy="775.2" r="0.44" fill="#9c9cf2" fill-opacity="0.50"/><circle cx="83.7" cy="772.8" r="0.50" fill="#8c90ee" fill-opacity="0.59"/><circle cx="94.3" cy="766.6" r="0.40" fill="#a4a8f4" fill-opacity="0.44"/><circle cx="92.8" cy="773.2" r="0.41" fill="#8c90ee" fill-opacity="0.67"/><circle cx="81.1" cy="764.2" r="0.40" fill="#a4a8f4" fill-opacity="0.49"/>
<g filter="url(#bl2)" transform="rotate(0 87 744.5)"><ellipse cx="87" cy="744.5" rx="11" ry="7" fill="#b8c8f6" fill-opacity="0.55"/><ellipse cx="87" cy="744.5" rx="8" ry="5" fill="#7fa4f0" fill-opacity="0.6"/><ellipse cx="87" cy="744.5" rx="5" ry="3.2" fill="#4f98e8" fill-opacity="0.6"/></g>
<circle cx="87.9" cy="744.2" r="0.43" fill="#4a7fe6" fill-opacity="0.85"/><circle cx="84.3" cy="749.5" r="0.51" fill="#6c8cf0" fill-opacity="0.90"/><circle cx="78.6" cy="743.9" r="0.48" fill="#8a9af0" fill-opacity="0.63"/><circle cx="97.2" cy="746.1" r="0.63" fill="#2fa0e0" fill-opacity="0.74"/><circle cx="83.8" cy="744.2" r="0.50" fill="#6c8cf0" fill-opacity="0.72"/><circle cx="90.6" cy="743.4" r="0.64" fill="#3c9ce8" fill-opacity="0.64"/><circle cx="77.9" cy="746.7" r="0.45" fill="#7aa0f2" fill-opacity="0.67"/><circle cx="88.7" cy="742.1" r="0.46" fill="#6c8cf0" fill-opacity="0.44"/><circle cx="85.4" cy="746.9" r="0.62" fill="#8a9af0" fill-opacity="0.74"/><circle cx="92.6" cy="741.7" r="0.51" fill="#3c9ce8" fill-opacity="0.81"/><circle cx="84.9" cy="745.3" r="0.53" fill="#7aa0f2" fill-opacity="0.58"/><circle cx="97.0" cy="744.3" r="0.56" fill="#4a7fe6" fill-opacity="0.41"/><circle cx="98.0" cy="744.6" r="0.35" fill="#7aa0f2" fill-opacity="0.55"/><circle cx="92.1" cy="739.8" r="0.36" fill="#8a9af0" fill-opacity="0.49"/><circle cx="88.1" cy="739.1" r="0.62" fill="#8a9af0" fill-opacity="0.66"/><circle cx="89.9" cy="746.7" r="0.39" fill="#7aa0f2" fill-opacity="0.48"/><circle cx="87.2" cy="742.5" r="0.37" fill="#4a7fe6" fill-opacity="0.87"/><circle cx="79.2" cy="744.8" r="0.59" fill="#2fa0e0" fill-opacity="0.43"/><circle cx="82.1" cy="750.5" r="0.43" fill="#6c8cf0" fill-opacity="0.42"/><circle cx="77.4" cy="738.5" r="0.37" fill="#7aa0f2" fill-opacity="0.50"/><circle cx="86.0" cy="743.9" r="0.62" fill="#3c9ce8" fill-opacity="0.69"/><circle cx="94.3" cy="743.4" r="0.42" fill="#7aa0f2" fill-opacity="0.51"/><circle cx="92.0" cy="749.2" r="0.44" fill="#3c9ce8" fill-opacity="0.85"/><circle cx="89.4" cy="741.2" r="0.43" fill="#7aa0f2" fill-opacity="0.84"/><circle cx="89.6" cy="744.3" r="0.47" fill="#8a9af0" fill-opacity="0.76"/><circle cx="88.1" cy="748.1" r="0.50" fill="#8a9af0" fill-opacity="0.80"/><circle cx="87.2" cy="747.1" r="0.46" fill="#6c8cf0" fill-opacity="0.40"/><circle cx="92.2" cy="741.7" r="0.38" fill="#6c8cf0" fill-opacity="0.67"/><circle cx="81.6" cy="747.3" r="0.64" fill="#4a7fe6" fill-opacity="0.61"/><circle cx="94.6" cy="741.7" r="0.41" fill="#2fa0e0" fill-opacity="0.54"/><circle cx="87.2" cy="745.6" r="0.36" fill="#8a9af0" fill-opacity="0.80"/><circle cx="87.2" cy="746.7" r="0.43" fill="#3c9ce8" fill-opacity="0.82"/><circle cx="92.3" cy="747.8" r="0.40" fill="#3c9ce8" fill-opacity="0.58"/><circle cx="85.8" cy="740.5" r="0.41" fill="#7aa0f2" fill-opacity="0.88"/><circle cx="82.0" cy="744.4" r="0.55" fill="#2fa0e0" fill-opacity="0.87"/><circle cx="96.4" cy="744.4" r="0.53" fill="#2fa0e0" fill-opacity="0.58"/><circle cx="87.2" cy="750.2" r="0.39" fill="#3c9ce8" fill-opacity="0.78"/><circle cx="85.7" cy="742.8" r="0.57" fill="#6c8cf0" fill-opacity="0.78"/><circle cx="98.0" cy="745.7" r="0.44" fill="#3c9ce8" fill-opacity="0.59"/><circle cx="90.7" cy="745.8" r="0.45" fill="#3c9ce8" fill-opacity="0.73"/><circle cx="94.0" cy="747.9" r="0.59" fill="#6c8cf0" fill-opacity="0.78"/><circle cx="90.9" cy="750.8" r="0.42" fill="#4a7fe6" fill-opacity="0.46"/><circle cx="85.8" cy="741.2" r="0.60" fill="#2fa0e0" fill-opacity="0.63"/><circle cx="80.2" cy="740.2" r="0.63" fill="#3c9ce8" fill-opacity="0.49"/><circle cx="78.6" cy="750.1" r="0.46" fill="#8a9af0" fill-opacity="0.61"/><circle cx="81.1" cy="739.0" r="0.65" fill="#3c9ce8" fill-opacity="0.60"/><circle cx="89.6" cy="743.4" r="0.38" fill="#6c8cf0" fill-opacity="0.86"/><circle cx="85.9" cy="737.9" r="0.47" fill="#4a7fe6" fill-opacity="0.70"/><circle cx="76.3" cy="747.5" r="0.46" fill="#3c9ce8" fill-opacity="0.42"/><circle cx="83.3" cy="750.1" r="0.52" fill="#3c9ce8" fill-opacity="0.51"/><circle cx="78.5" cy="744.6" r="0.55" fill="#2fa0e0" fill-opacity="0.69"/><circle cx="90.1" cy="743.7" r="0.44" fill="#8a9af0" fill-opacity="0.42"/><circle cx="92.8" cy="739.9" r="0.64" fill="#4a7fe6" fill-opacity="0.74"/><circle cx="93.0" cy="745.4" r="0.57" fill="#6c8cf0" fill-opacity="0.44"/><circle cx="84.6" cy="740.6" r="0.53" fill="#8a9af0" fill-opacity="0.51"/><circle cx="80.6" cy="743.8" r="0.48" fill="#2fa0e0" fill-opacity="0.57"/><circle cx="76.3" cy="744.4" r="0.54" fill="#8a9af0" fill-opacity="0.65"/><circle cx="84.9" cy="741.9" r="0.50" fill="#8a9af0" fill-opacity="0.86"/><circle cx="95.2" cy="749.6" r="0.64" fill="#4a7fe6" fill-opacity="0.81"/><circle cx="83.0" cy="743.6" r="0.64" fill="#3c9ce8" fill-opacity="0.72"/><circle cx="81.9" cy="743.6" r="0.40" fill="#4a7fe6" fill-opacity="0.57"/><circle cx="95.3" cy="747.8" r="0.39" fill="#3c9ce8" fill-opacity="0.75"/><circle cx="84.5" cy="741.8" r="0.35" fill="#3c9ce8" fill-opacity="0.75"/><circle cx="93.7" cy="749.0" r="0.44" fill="#8a9af0" fill-opacity="0.84"/><circle cx="92.7" cy="748.7" r="0.54" fill="#6c8cf0" fill-opacity="0.46"/><circle cx="85.2" cy="742.3" r="0.60" fill="#2fa0e0" fill-opacity="0.60"/><circle cx="89.9" cy="750.7" r="0.46" fill="#4a7fe6" fill-opacity="0.50"/><circle cx="92.3" cy="745.8" r="0.38" fill="#3c9ce8" fill-opacity="0.55"/><circle cx="91.0" cy="743.9" r="0.49" fill="#2fa0e0" fill-opacity="0.58"/><circle cx="88.3" cy="745.9" r="0.49" fill="#4a7fe6" fill-opacity="0.89"/><circle cx="81.4" cy="750.5" r="0.38" fill="#6c8cf0" fill-opacity="0.64"/><circle cx="82.8" cy="745.6" r="0.45" fill="#7aa0f2" fill-opacity="0.58"/><circle cx="91.8" cy="746.4" r="0.63" fill="#7aa0f2" fill-opacity="0.73"/><circle cx="87.0" cy="747.7" r="0.57" fill="#3c9ce8" fill-opacity="0.41"/><circle cx="83.9" cy="745.9" r="0.41" fill="#6c8cf0" fill-opacity="0.72"/><circle cx="93.0" cy="750.9" r="0.57" fill="#6c8cf0" fill-opacity="0.56"/><circle cx="92.2" cy="751.7" r="0.42" fill="#6c8cf0" fill-opacity="0.47"/><circle cx="86.9" cy="745.9" r="0.52" fill="#4a7fe6" fill-opacity="0.71"/><circle cx="91.6" cy="738.6" r="0.63" fill="#4a7fe6" fill-opacity="0.65"/><circle cx="82.9" cy="744.5" r="0.53" fill="#6c8cf0" fill-opacity="0.71"/><circle cx="90.2" cy="746.8" r="0.48" fill="#3c9ce8" fill-opacity="0.88"/><circle cx="88.7" cy="745.1" r="0.49" fill="#2fa0e0" fill-opacity="0.51"/><circle cx="85.8" cy="745.3" r="0.61" fill="#7aa0f2" fill-opacity="0.79"/><circle cx="81.9" cy="746.0" r="0.37" fill="#8a9af0" fill-opacity="0.76"/><circle cx="88.9" cy="743.5" r="0.55" fill="#4a7fe6" fill-opacity="0.81"/><circle cx="90.5" cy="743.1" r="0.35" fill="#6c8cf0" fill-opacity="0.80"/><circle cx="82.9" cy="739.7" r="0.38" fill="#2fa0e0" fill-opacity="0.56"/><circle cx="77.7" cy="739.3" r="0.57" fill="#4a7fe6" fill-opacity="0.57"/><circle cx="82.1" cy="740.0" r="0.64" fill="#2fa0e0" fill-opacity="0.64"/><circle cx="83.5" cy="741.7" r="0.51" fill="#6c8cf0" fill-opacity="0.72"/><circle cx="89.9" cy="742.1" r="0.48" fill="#8a9af0" fill-opacity="0.44"/><circle cx="83.4" cy="741.1" r="0.63" fill="#7aa0f2" fill-opacity="0.58"/><circle cx="87.5" cy="749.0" r="0.38" fill="#6c8cf0" fill-opacity="0.49"/><circle cx="93.8" cy="741.1" r="0.42" fill="#4a7fe6" fill-opacity="0.82"/><circle cx="84.3" cy="742.3" r="0.43" fill="#8a9af0" fill-opacity="0.64"/><circle cx="82.3" cy="743.5" r="0.56" fill="#7aa0f2" fill-opacity="0.77"/><circle cx="94.6" cy="741.6" r="0.55" fill="#2fa0e0" fill-opacity="0.80"/><circle cx="92.5" cy="748.2" r="0.56" fill="#7aa0f2" fill-opacity="0.78"/><circle cx="86.4" cy="742.6" r="0.47" fill="#8a9af0" fill-opacity="0.49"/><circle cx="95.7" cy="743.2" r="0.39" fill="#4a7fe6" fill-opacity="0.79"/><circle cx="91.8" cy="745.6" r="0.36" fill="#6c8cf0" fill-opacity="0.75"/><circle cx="94.5" cy="743.2" r="0.56" fill="#4a7fe6" fill-opacity="0.61"/><circle cx="94.5" cy="740.7" r="0.52" fill="#3c9ce8" fill-opacity="0.86"/><circle cx="89.9" cy="742.7" r="0.60" fill="#8a9af0" fill-opacity="0.80"/><circle cx="86.9" cy="743.9" r="0.39" fill="#6c8cf0" fill-opacity="0.59"/><circle cx="86.6" cy="743.3" r="0.46" fill="#7aa0f2" fill-opacity="0.58"/><circle cx="82.6" cy="749.5" r="0.63" fill="#4a7fe6" fill-opacity="0.74"/><circle cx="86.9" cy="747.3" r="0.36" fill="#2fa0e0" fill-opacity="0.89"/><circle cx="84.3" cy="744.6" r="0.41" fill="#6c8cf0" fill-opacity="0.68"/><circle cx="84.3" cy="750.7" r="0.60" fill="#2fa0e0" fill-opacity="0.69"/><circle cx="87.4" cy="741.2" r="0.35" fill="#2fa0e0" fill-opacity="0.57"/><circle cx="91.8" cy="748.5" r="0.59" fill="#4a7fe6" fill-opacity="0.42"/><circle cx="92.3" cy="751.6" r="0.53" fill="#8a9af0" fill-opacity="0.82"/><circle cx="97.5" cy="743.2" r="0.47" fill="#2fa0e0" fill-opacity="0.84"/><circle cx="84.9" cy="743.4" r="0.51" fill="#6c8cf0" fill-opacity="0.56"/><circle cx="93.7" cy="748.8" r="0.40" fill="#3c9ce8" fill-opacity="0.58"/><circle cx="78.0" cy="745.6" r="0.63" fill="#2fa0e0" fill-opacity="0.56"/><circle cx="82.9" cy="748.6" r="0.36" fill="#3c9ce8" fill-opacity="0.63"/><circle cx="89.1" cy="744.4" r="0.57" fill="#3c9ce8" fill-opacity="0.47"/><circle cx="85.1" cy="745.5" r="0.46" fill="#6c8cf0" fill-opacity="0.69"/><circle cx="83.7" cy="743.3" r="0.36" fill="#8a9af0" fill-opacity="0.68"/><circle cx="88.5" cy="738.6" r="0.38" fill="#8a9af0" fill-opacity="0.80"/><circle cx="88.4" cy="741.5" r="0.55" fill="#3c9ce8" fill-opacity="0.55"/><circle cx="88.0" cy="737.6" r="0.61" fill="#7aa0f2" fill-opacity="0.52"/><circle cx="94.7" cy="739.7" r="0.37" fill="#6c8cf0" fill-opacity="0.57"/><circle cx="80.3" cy="745.0" r="0.59" fill="#3c9ce8" fill-opacity="0.90"/><circle cx="89.8" cy="746.8" r="0.49" fill="#8a9af0" fill-opacity="0.62"/><circle cx="81.6" cy="743.0" r="0.53" fill="#3c9ce8" fill-opacity="0.47"/><circle cx="86.0" cy="741.4" r="0.52" fill="#7aa0f2" fill-opacity="0.87"/><circle cx="84.5" cy="743.6" r="0.44" fill="#3c9ce8" fill-opacity="0.58"/><circle cx="82.9" cy="738.3" r="0.60" fill="#4a7fe6" fill-opacity="0.56"/><circle cx="75.7" cy="742.5" r="0.43" fill="#8a9af0" fill-opacity="0.75"/><circle cx="88.4" cy="748.7" r="0.62" fill="#3c9ce8" fill-opacity="0.54"/><circle cx="83.8" cy="744.5" r="0.57" fill="#3c9ce8" fill-opacity="0.88"/><circle cx="84.7" cy="743.5" r="0.45" fill="#7aa0f2" fill-opacity="0.47"/><circle cx="90.3" cy="749.3" r="0.54" fill="#4a7fe6" fill-opacity="0.86"/><circle cx="88.5" cy="748.1" r="0.36" fill="#8a9af0" fill-opacity="0.64"/><circle cx="77.3" cy="739.7" r="0.37" fill="#3c9ce8" fill-opacity="0.61"/><circle cx="96.4" cy="746.2" r="0.58" fill="#6c8cf0" fill-opacity="0.89"/><circle cx="88.1" cy="743.8" r="0.52" fill="#6c8cf0" fill-opacity="0.89"/><circle cx="96.1" cy="746.5" r="0.60" fill="#8a9af0" fill-opacity="0.48"/><circle cx="91.8" cy="744.8" r="0.58" fill="#7aa0f2" fill-opacity="0.44"/><circle cx="89.9" cy="740.4" r="0.55" fill="#7aa0f2" fill-opacity="0.83"/><circle cx="82.5" cy="743.1" r="0.43" fill="#7aa0f2" fill-opacity="0.76"/><circle cx="88.0" cy="737.3" r="0.55" fill="#6c8cf0" fill-opacity="0.67"/><circle cx="84.6" cy="739.3" r="0.51" fill="#6c8cf0" fill-opacity="0.87"/><circle cx="87.6" cy="744.9" r="0.38" fill="#2fa0e0" fill-opacity="0.80"/><circle cx="91.0" cy="744.2" r="0.42" fill="#8a9af0" fill-opacity="0.78"/><circle cx="88.4" cy="745.0" r="0.39" fill="#3c9ce8" fill-opacity="0.67"/><circle cx="90.4" cy="751.5" r="0.63" fill="#6c8cf0" fill-opacity="0.58"/><circle cx="89.6" cy="746.6" r="0.61" fill="#8a9af0" fill-opacity="0.79"/><circle cx="80.6" cy="743.8" r="0.42" fill="#8a9af0" fill-opacity="0.89"/><circle cx="77.0" cy="744.5" r="0.62" fill="#6c8cf0" fill-opacity="0.59"/><circle cx="89.9" cy="751.7" r="0.38" fill="#4a7fe6" fill-opacity="0.77"/><circle cx="96.2" cy="746.9" r="0.55" fill="#2fa0e0" fill-opacity="0.58"/><circle cx="87.9" cy="748.5" r="0.63" fill="#2fa0e0" fill-opacity="0.71"/><circle cx="87.9" cy="747.7" r="0.56" fill="#6c8cf0" fill-opacity="0.52"/><circle cx="83.2" cy="747.5" r="0.54" fill="#2fa0e0" fill-opacity="0.55"/><circle cx="91.9" cy="744.4" r="0.59" fill="#7aa0f2" fill-opacity="0.64"/><circle cx="98.0" cy="741.6" r="0.60" fill="#3c9ce8" fill-opacity="0.54"/><circle cx="83.0" cy="748.7" r="0.40" fill="#3c9ce8" fill-opacity="0.74"/><circle cx="80.7" cy="741.8" r="0.37" fill="#7aa0f2" fill-opacity="0.79"/><circle cx="93.8" cy="739.0" r="0.58" fill="#4a7fe6" fill-opacity="0.83"/><circle cx="92.9" cy="744.4" r="0.59" fill="#4a7fe6" fill-opacity="0.48"/><circle cx="90.2" cy="743.3" r="0.40" fill="#6c8cf0" fill-opacity="0.77"/><circle cx="90.5" cy="746.0" r="0.47" fill="#8a9af0" fill-opacity="0.61"/><circle cx="80.5" cy="739.7" r="0.61" fill="#2fa0e0" fill-opacity="0.89"/><circle cx="92.0" cy="745.1" r="0.56" fill="#8a9af0" fill-opacity="0.42"/><circle cx="81.9" cy="744.4" r="0.56" fill="#2fa0e0" fill-opacity="0.76"/><circle cx="90.1" cy="745.3" r="0.64" fill="#2fa0e0" fill-opacity="0.66"/><circle cx="92.0" cy="744.5" r="0.39" fill="#7aa0f2" fill-opacity="0.77"/><circle cx="83.6" cy="744.5" r="0.60" fill="#6c8cf0" fill-opacity="0.88"/><circle cx="87.4" cy="746.1" r="0.40" fill="#8a9af0" fill-opacity="0.53"/><circle cx="88.9" cy="745.0" r="0.36" fill="#7aa0f2" fill-opacity="0.79"/><circle cx="92.3" cy="743.5" r="0.56" fill="#6c8cf0" fill-opacity="0.73"/><circle cx="78.5" cy="743.1" r="0.47" fill="#8a9af0" fill-opacity="0.90"/><circle cx="86.8" cy="741.2" r="0.45" fill="#2fa0e0" fill-opacity="0.61"/><circle cx="93.8" cy="743.8" r="0.61" fill="#2fa0e0" fill-opacity="0.80"/><circle cx="95.0" cy="740.9" r="0.53" fill="#3c9ce8" fill-opacity="0.86"/><circle cx="86.7" cy="750.3" r="0.65" fill="#2fa0e0" fill-opacity="0.81"/><circle cx="85.5" cy="743.0" r="0.59" fill="#7aa0f2" fill-opacity="0.85"/><circle cx="97.3" cy="746.5" r="0.56" fill="#6c8cf0" fill-opacity="0.62"/><circle cx="83.2" cy="740.5" r="0.35" fill="#7aa0f2" fill-opacity="0.77"/><circle cx="92.1" cy="740.5" r="0.51" fill="#7aa0f2" fill-opacity="0.59"/><circle cx="92.6" cy="737.9" r="0.46" fill="#2fa0e0" fill-opacity="0.43"/><circle cx="92.4" cy="744.0" r="0.55" fill="#8a9af0" fill-opacity="0.56"/><circle cx="81.0" cy="740.7" r="0.63" fill="#3c9ce8" fill-opacity="0.78"/><circle cx="91.1" cy="741.5" r="0.49" fill="#7aa0f2" fill-opacity="0.51"/><circle cx="97.1" cy="752.0" r="0.46" fill="#7aa0f2" fill-opacity="0.50"/><circle cx="90.3" cy="748.0" r="0.40" fill="#8a9af0" fill-opacity="0.81"/><circle cx="77.3" cy="746.0" r="0.61" fill="#8a9af0" fill-opacity="0.42"/><circle cx="77.3" cy="749.9" r="0.39" fill="#2fa0e0" fill-opacity="0.48"/><circle cx="87.0" cy="746.5" r="0.55" fill="#6c8cf0" fill-opacity="0.66"/><circle cx="83.7" cy="750.4" r="0.47" fill="#6c8cf0" fill-opacity="0.90"/><circle cx="84.4" cy="740.2" r="0.57" fill="#2fa0e0" fill-opacity="0.49"/><circle cx="86.2" cy="744.5" r="0.46" fill="#3c9ce8" fill-opacity="0.66"/><circle cx="87.5" cy="748.5" r="0.59" fill="#6c8cf0" fill-opacity="0.53"/><circle cx="86.7" cy="744.4" r="0.37" fill="#6c8cf0" fill-opacity="0.49"/><circle cx="85.9" cy="741.2" r="0.43" fill="#6c8cf0" fill-opacity="0.53"/><circle cx="79.1" cy="746.4" r="0.61" fill="#2fa0e0" fill-opacity="0.50"/><circle cx="76.0" cy="748.0" r="0.58" fill="#7aa0f2" fill-opacity="0.86"/><circle cx="85.6" cy="740.5" r="0.56" fill="#4a7fe6" fill-opacity="0.55"/><circle cx="78.5" cy="747.8" r="0.46" fill="#6c8cf0" fill-opacity="0.59"/><circle cx="85.4" cy="740.6" r="0.41" fill="#8a9af0" fill-opacity="0.83"/><circle cx="93.7" cy="746.7" r="0.51" fill="#2fa0e0" fill-opacity="0.65"/><circle cx="96.6" cy="740.4" r="0.38" fill="#4a7fe6" fill-opacity="0.68"/><circle cx="97.0" cy="741.9" r="0.47" fill="#2fa0e0" fill-opacity="0.64"/><circle cx="92.8" cy="741.6" r="0.39" fill="#2fa0e0" fill-opacity="0.78"/><circle cx="92.1" cy="744.7" r="0.47" fill="#3c9ce8" fill-opacity="0.42"/><circle cx="83.2" cy="739.7" r="0.58" fill="#2fa0e0" fill-opacity="0.46"/><circle cx="87.5" cy="746.2" r="0.38" fill="#4a7fe6" fill-opacity="0.44"/><circle cx="87.2" cy="739.1" r="0.60" fill="#4a7fe6" fill-opacity="0.50"/><circle cx="79.9" cy="751.7" r="0.56" fill="#7aa0f2" fill-opacity="0.61"/><circle cx="90.9" cy="747.5" r="0.64" fill="#7aa0f2" fill-opacity="0.49"/><circle cx="78.8" cy="743.3" r="0.44" fill="#4a7fe6" fill-opacity="0.53"/><circle cx="92.6" cy="740.4" r="0.62" fill="#7aa0f2" fill-opacity="0.74"/><circle cx="85.1" cy="747.5" r="0.59" fill="#2fa0e0" fill-opacity="0.83"/><circle cx="86.8" cy="747.3" r="0.41" fill="#4a7fe6" fill-opacity="0.73"/><circle cx="96.3" cy="742.0" r="0.53" fill="#8a9af0" fill-opacity="0.58"/><circle cx="88.5" cy="741.8" r="0.52" fill="#8a9af0" fill-opacity="0.43"/><circle cx="83.6" cy="749.3" r="0.64" fill="#2fa0e0" fill-opacity="0.81"/><circle cx="91.8" cy="745.2" r="0.44" fill="#2fa0e0" fill-opacity="0.76"/><circle cx="90.0" cy="739.2" r="0.47" fill="#2fa0e0" fill-opacity="0.76"/><circle cx="88.3" cy="747.2" r="0.48" fill="#3c9ce8" fill-opacity="0.72"/><circle cx="95.5" cy="747.0" r="0.35" fill="#3c9ce8" fill-opacity="0.76"/><circle cx="86.7" cy="742.0" r="0.55" fill="#3c9ce8" fill-opacity="0.74"/><circle cx="85.7" cy="747.3" r="0.39" fill="#3c9ce8" fill-opacity="0.86"/><circle cx="87.9" cy="746.4" r="0.41" fill="#4a7fe6" fill-opacity="0.45"/><circle cx="91.7" cy="745.4" r="0.56" fill="#6c8cf0" fill-opacity="0.62"/><circle cx="90.3" cy="743.5" r="0.60" fill="#3c9ce8" fill-opacity="0.55"/><circle cx="88.0" cy="750.0" r="0.56" fill="#6c8cf0" fill-opacity="0.76"/><circle cx="85.0" cy="747.5" r="0.60" fill="#7aa0f2" fill-opacity="0.48"/><circle cx="85.6" cy="745.2" r="0.40" fill="#2fa0e0" fill-opacity="0.55"/><circle cx="80.9" cy="739.2" r="0.49" fill="#3c9ce8" fill-opacity="0.76"/><circle cx="77.5" cy="747.2" r="0.36" fill="#4a7fe6" fill-opacity="0.58"/><circle cx="84.4" cy="742.1" r="0.63" fill="#8a9af0" fill-opacity="0.66"/><circle cx="85.4" cy="748.3" r="0.62" fill="#2fa0e0" fill-opacity="0.86"/><circle cx="88.7" cy="747.7" r="0.53" fill="#6c8cf0" fill-opacity="0.67"/><circle cx="90.3" cy="745.7" r="0.58" fill="#6c8cf0" fill-opacity="0.78"/><circle cx="94.6" cy="741.4" r="0.36" fill="#6c8cf0" fill-opacity="0.70"/><circle cx="93.3" cy="743.7" r="0.55" fill="#3c9ce8" fill-opacity="0.43"/><circle cx="83.2" cy="748.5" r="0.45" fill="#3c9ce8" fill-opacity="0.58"/><circle cx="97.2" cy="749.5" r="0.57" fill="#4a7fe6" fill-opacity="0.63"/><circle cx="86.9" cy="742.4" r="0.53" fill="#3c9ce8" fill-opacity="0.63"/><circle cx="95.2" cy="745.6" r="0.47" fill="#4a7fe6" fill-opacity="0.75"/><circle cx="75.5" cy="748.6" r="0.46" fill="#4a7fe6" fill-opacity="0.73"/><circle cx="89.2" cy="746.7" r="0.45" fill="#4a7fe6" fill-opacity="0.82"/><circle cx="92.6" cy="741.1" r="0.43" fill="#3c9ce8" fill-opacity="0.45"/><circle cx="87.3" cy="746.9" r="0.51" fill="#6c8cf0" fill-opacity="0.46"/><circle cx="82.9" cy="745.0" r="0.36" fill="#7aa0f2" fill-opacity="0.53"/><circle cx="92.4" cy="743.4" r="0.41" fill="#7aa0f2" fill-opacity="0.46"/><circle cx="77.3" cy="741.8" r="0.38" fill="#3c9ce8" fill-opacity="0.49"/><circle cx="78.3" cy="747.2" r="0.44" fill="#4a7fe6" fill-opacity="0.85"/><circle cx="94.9" cy="747.3" r="0.42" fill="#3c9ce8" fill-opacity="0.79"/><circle cx="88.2" cy="743.0" r="0.64" fill="#6c8cf0" fill-opacity="0.42"/><circle cx="79.1" cy="740.1" r="0.45" fill="#6c8cf0" fill-opacity="0.81"/><circle cx="80.9" cy="746.8" r="0.59" fill="#4a7fe6" fill-opacity="0.47"/><circle cx="82.8" cy="744.3" r="0.58" fill="#6c8cf0" fill-opacity="0.50"/><circle cx="96.5" cy="741.6" r="0.64" fill="#8a9af0" fill-opacity="0.90"/><circle cx="89.1" cy="739.9" r="0.51" fill="#2fa0e0" fill-opacity="0.57"/>
<path d="M67.5,735 C69.5,742 68.5,750 65,760" fill="none" stroke="#8eaaf2" stroke-width="9" stroke-opacity="0.55" filter="url(#bl2)"/>
<path d="M67,735 C69,742 68,750 65,760" fill="none" stroke="#4f86ea" stroke-width="5" stroke-opacity="0.8" filter="url(#bl)"/>
<path d="M67,736 C68.5,743 67.5,751 64.5,758" fill="none" stroke="#2aa6e0" stroke-width="2.2" stroke-opacity="0.75" filter="url(#bl)"/>
<circle cx="70.5" cy="751.0" r="0.42" fill="#3b7de6" fill-opacity="0.78"/><circle cx="69.8" cy="736.9" r="0.58" fill="#3b7de6" fill-opacity="0.94"/><circle cx="62.6" cy="740.7" r="0.59" fill="#7b9af2" fill-opacity="0.84"/><circle cx="70.5" cy="756.9" r="0.67" fill="#5f8ef0" fill-opacity="0.84"/><circle cx="69.5" cy="736.1" r="0.41" fill="#2a60e0" fill-opacity="0.67"/><circle cx="62.8" cy="734.3" r="0.45" fill="#2a60e0" fill-opacity="0.93"/><circle cx="60.4" cy="743.7" r="0.37" fill="#3b7de6" fill-opacity="0.85"/><circle cx="68.5" cy="736.0" r="0.43" fill="#2fa6e2" fill-opacity="0.76"/><circle cx="61.7" cy="741.6" r="0.67" fill="#2a60e0" fill-opacity="0.81"/><circle cx="66.3" cy="740.2" r="0.63" fill="#7b9af2" fill-opacity="0.81"/><circle cx="71.9" cy="742.3" r="0.68" fill="#7b9af2" fill-opacity="0.60"/><circle cx="64.7" cy="736.1" r="0.67" fill="#2a60e0" fill-opacity="0.69"/><circle cx="66.2" cy="752.6" r="0.36" fill="#2a60e0" fill-opacity="0.55"/><circle cx="68.1" cy="740.3" r="0.45" fill="#2a60e0" fill-opacity="0.57"/><circle cx="65.9" cy="746.2" r="0.65" fill="#7b9af2" fill-opacity="0.78"/><circle cx="66.7" cy="749.9" r="0.42" fill="#5f8ef0" fill-opacity="0.90"/><circle cx="64.1" cy="751.8" r="0.39" fill="#2fa6e2" fill-opacity="0.81"/><circle cx="72.0" cy="750.4" r="0.49" fill="#2fa6e2" fill-opacity="0.65"/><circle cx="68.0" cy="750.4" r="0.66" fill="#5f8ef0" fill-opacity="0.77"/><circle cx="69.2" cy="742.7" r="0.46" fill="#7b9af2" fill-opacity="0.89"/><circle cx="68.0" cy="737.8" r="0.49" fill="#2fa6e2" fill-opacity="0.50"/><circle cx="67.8" cy="744.4" r="0.51" fill="#2fa6e2" fill-opacity="0.86"/><circle cx="67.0" cy="753.5" r="0.69" fill="#3b7de6" fill-opacity="0.83"/><circle cx="67.1" cy="736.6" r="0.68" fill="#2fa6e2" fill-opacity="0.90"/><circle cx="66.4" cy="744.6" r="0.47" fill="#2a60e0" fill-opacity="0.62"/><circle cx="66.3" cy="752.7" r="0.68" fill="#7b9af2" fill-opacity="0.86"/><circle cx="70.8" cy="750.7" r="0.48" fill="#7b9af2" fill-opacity="0.94"/><circle cx="72.0" cy="751.7" r="0.55" fill="#3b7de6" fill-opacity="0.70"/><circle cx="67.0" cy="732.3" r="0.61" fill="#2a60e0" fill-opacity="0.52"/><circle cx="66.3" cy="750.4" r="0.40" fill="#5f8ef0" fill-opacity="0.76"/><circle cx="66.2" cy="746.0" r="0.41" fill="#7b9af2" fill-opacity="0.77"/><circle cx="70.9" cy="745.9" r="0.45" fill="#2fa6e2" fill-opacity="0.74"/><circle cx="60.2" cy="756.3" r="0.63" fill="#3b7de6" fill-opacity="0.80"/><circle cx="61.7" cy="759.3" r="0.59" fill="#5f8ef0" fill-opacity="0.62"/><circle cx="68.9" cy="754.8" r="0.63" fill="#3b7de6" fill-opacity="0.66"/><circle cx="69.2" cy="753.5" r="0.41" fill="#3b7de6" fill-opacity="0.83"/><circle cx="68.2" cy="752.3" r="0.56" fill="#3b7de6" fill-opacity="0.94"/><circle cx="67.4" cy="740.5" r="0.45" fill="#2fa6e2" fill-opacity="0.90"/><circle cx="63.2" cy="748.5" r="0.49" fill="#7b9af2" fill-opacity="0.81"/><circle cx="65.4" cy="751.7" r="0.44" fill="#7b9af2" fill-opacity="0.59"/><circle cx="69.6" cy="742.8" r="0.57" fill="#7b9af2" fill-opacity="0.85"/><circle cx="66.4" cy="750.7" r="0.51" fill="#2a60e0" fill-opacity="0.75"/><circle cx="64.8" cy="736.7" r="0.49" fill="#5f8ef0" fill-opacity="0.82"/><circle cx="63.0" cy="754.8" r="0.44" fill="#3b7de6" fill-opacity="0.85"/><circle cx="72.1" cy="750.4" r="0.46" fill="#2a60e0" fill-opacity="0.77"/><circle cx="62.0" cy="762.1" r="0.66" fill="#3b7de6" fill-opacity="0.54"/><circle cx="62.8" cy="739.1" r="0.68" fill="#3b7de6" fill-opacity="0.57"/><circle cx="69.0" cy="757.0" r="0.62" fill="#3b7de6" fill-opacity="0.68"/><circle cx="71.3" cy="742.8" r="0.49" fill="#5f8ef0" fill-opacity="0.72"/><circle cx="64.1" cy="759.0" r="0.54" fill="#2fa6e2" fill-opacity="0.73"/><circle cx="64.1" cy="733.8" r="0.42" fill="#2fa6e2" fill-opacity="0.81"/><circle cx="67.9" cy="745.8" r="0.65" fill="#3b7de6" fill-opacity="0.80"/><circle cx="64.5" cy="743.7" r="0.61" fill="#2a60e0" fill-opacity="0.85"/><circle cx="64.7" cy="734.6" r="0.40" fill="#2fa6e2" fill-opacity="0.80"/><circle cx="67.1" cy="738.8" r="0.66" fill="#5f8ef0" fill-opacity="0.83"/><circle cx="68.7" cy="737.9" r="0.40" fill="#5f8ef0" fill-opacity="0.82"/><circle cx="65.9" cy="737.8" r="0.60" fill="#5f8ef0" fill-opacity="0.85"/><circle cx="64.4" cy="741.9" r="0.42" fill="#2a60e0" fill-opacity="0.60"/><circle cx="70.5" cy="752.8" r="0.48" fill="#3b7de6" fill-opacity="0.81"/><circle cx="71.8" cy="752.9" r="0.43" fill="#5f8ef0" fill-opacity="0.71"/><circle cx="67.3" cy="739.4" r="0.37" fill="#2a60e0" fill-opacity="0.70"/><circle cx="62.2" cy="742.7" r="0.54" fill="#3b7de6" fill-opacity="0.71"/><circle cx="64.7" cy="747.6" r="0.69" fill="#5f8ef0" fill-opacity="0.74"/><circle cx="67.4" cy="755.9" r="0.45" fill="#2fa6e2" fill-opacity="0.94"/><circle cx="63.1" cy="741.8" r="0.62" fill="#2fa6e2" fill-opacity="0.51"/><circle cx="64.1" cy="746.8" r="0.68" fill="#3b7de6" fill-opacity="0.62"/><circle cx="68.2" cy="748.8" r="0.53" fill="#7b9af2" fill-opacity="0.76"/><circle cx="67.8" cy="760.9" r="0.63" fill="#3b7de6" fill-opacity="0.93"/><circle cx="63.1" cy="765.0" r="0.57" fill="#3b7de6" fill-opacity="0.76"/><circle cx="60.3" cy="754.7" r="0.51" fill="#2a60e0" fill-opacity="0.65"/><circle cx="68.0" cy="753.6" r="0.62" fill="#5f8ef0" fill-opacity="0.53"/><circle cx="67.4" cy="746.2" r="0.63" fill="#2fa6e2" fill-opacity="0.83"/><circle cx="67.3" cy="742.4" r="0.61" fill="#5f8ef0" fill-opacity="0.93"/><circle cx="70.9" cy="741.6" r="0.37" fill="#3b7de6" fill-opacity="0.59"/><circle cx="72.6" cy="748.1" r="0.44" fill="#2a60e0" fill-opacity="0.66"/><circle cx="69.0" cy="755.5" r="0.46" fill="#5f8ef0" fill-opacity="0.52"/><circle cx="68.2" cy="752.8" r="0.63" fill="#3b7de6" fill-opacity="0.70"/><circle cx="68.1" cy="749.0" r="0.48" fill="#2fa6e2" fill-opacity="0.90"/><circle cx="65.8" cy="747.3" r="0.63" fill="#5f8ef0" fill-opacity="0.71"/><circle cx="67.6" cy="743.7" r="0.53" fill="#3b7de6" fill-opacity="0.61"/><circle cx="65.0" cy="751.2" r="0.68" fill="#3b7de6" fill-opacity="0.59"/><circle cx="66.1" cy="759.7" r="0.50" fill="#2a60e0" fill-opacity="0.83"/><circle cx="63.2" cy="755.5" r="0.40" fill="#7b9af2" fill-opacity="0.51"/><circle cx="67.8" cy="756.1" r="0.36" fill="#7b9af2" fill-opacity="0.87"/><circle cx="68.2" cy="746.5" r="0.42" fill="#3b7de6" fill-opacity="0.76"/><circle cx="71.7" cy="739.9" r="0.57" fill="#5f8ef0" fill-opacity="0.90"/><circle cx="63.0" cy="748.0" r="0.35" fill="#2fa6e2" fill-opacity="0.59"/><circle cx="63.5" cy="758.4" r="0.56" fill="#3b7de6" fill-opacity="0.56"/><circle cx="68.0" cy="754.3" r="0.67" fill="#2a60e0" fill-opacity="0.81"/><circle cx="71.1" cy="740.9" r="0.60" fill="#2a60e0" fill-opacity="0.52"/><circle cx="64.2" cy="748.3" r="0.60" fill="#2fa6e2" fill-opacity="0.71"/><circle cx="69.8" cy="740.5" r="0.67" fill="#3b7de6" fill-opacity="0.77"/><circle cx="68.9" cy="749.0" r="0.35" fill="#2fa6e2" fill-opacity="0.75"/><circle cx="66.9" cy="742.0" r="0.43" fill="#3b7de6" fill-opacity="0.91"/><circle cx="67.0" cy="747.3" r="0.37" fill="#7b9af2" fill-opacity="0.61"/><circle cx="68.8" cy="744.9" r="0.68" fill="#3b7de6" fill-opacity="0.79"/><circle cx="68.9" cy="744.3" r="0.51" fill="#2fa6e2" fill-opacity="0.72"/><circle cx="71.6" cy="743.8" r="0.42" fill="#3b7de6" fill-opacity="0.86"/><circle cx="68.7" cy="754.2" r="0.53" fill="#3b7de6" fill-opacity="0.93"/><circle cx="62.8" cy="756.7" r="0.65" fill="#3b7de6" fill-opacity="0.75"/><circle cx="68.4" cy="739.5" r="0.56" fill="#2a60e0" fill-opacity="0.86"/><circle cx="62.7" cy="744.4" r="0.57" fill="#2a60e0" fill-opacity="0.71"/><circle cx="65.3" cy="739.1" r="0.36" fill="#2fa6e2" fill-opacity="0.87"/><circle cx="68.2" cy="739.8" r="0.60" fill="#3b7de6" fill-opacity="0.83"/><circle cx="63.2" cy="729.3" r="0.69" fill="#2a60e0" fill-opacity="0.75"/><circle cx="66.3" cy="749.5" r="0.65" fill="#2fa6e2" fill-opacity="0.88"/><circle cx="69.2" cy="751.0" r="0.46" fill="#5f8ef0" fill-opacity="0.63"/><circle cx="63.3" cy="747.3" r="0.62" fill="#5f8ef0" fill-opacity="0.50"/><circle cx="68.2" cy="748.6" r="0.42" fill="#2a60e0" fill-opacity="0.67"/><circle cx="73.3" cy="745.4" r="0.58" fill="#2a60e0" fill-opacity="0.91"/><circle cx="66.5" cy="734.6" r="0.64" fill="#3b7de6" fill-opacity="0.82"/><circle cx="71.2" cy="749.0" r="0.63" fill="#7b9af2" fill-opacity="0.52"/><circle cx="65.3" cy="743.0" r="0.60" fill="#5f8ef0" fill-opacity="0.61"/><circle cx="66.2" cy="753.2" r="0.48" fill="#5f8ef0" fill-opacity="0.57"/><circle cx="70.5" cy="761.5" r="0.62" fill="#7b9af2" fill-opacity="0.88"/><circle cx="71.7" cy="746.6" r="0.63" fill="#5f8ef0" fill-opacity="0.51"/><circle cx="64.5" cy="745.5" r="0.66" fill="#2a60e0" fill-opacity="0.91"/><circle cx="64.7" cy="757.6" r="0.66" fill="#2fa6e2" fill-opacity="0.86"/><circle cx="65.7" cy="746.3" r="0.50" fill="#5f8ef0" fill-opacity="0.65"/><circle cx="68.3" cy="748.4" r="0.41" fill="#7b9af2" fill-opacity="0.74"/><circle cx="65.0" cy="740.0" r="0.68" fill="#7b9af2" fill-opacity="0.73"/><circle cx="67.7" cy="737.2" r="0.43" fill="#2fa6e2" fill-opacity="0.84"/><circle cx="70.3" cy="739.7" r="0.60" fill="#7b9af2" fill-opacity="0.95"/><circle cx="68.3" cy="753.7" r="0.59" fill="#2fa6e2" fill-opacity="0.84"/><circle cx="67.0" cy="741.7" r="0.69" fill="#5f8ef0" fill-opacity="0.54"/><circle cx="69.7" cy="739.5" r="0.69" fill="#2a60e0" fill-opacity="0.79"/><circle cx="63.6" cy="741.5" r="0.37" fill="#2a60e0" fill-opacity="0.68"/><circle cx="71.0" cy="752.3" r="0.36" fill="#2a60e0" fill-opacity="0.66"/><circle cx="67.9" cy="749.7" r="0.58" fill="#7b9af2" fill-opacity="0.73"/><circle cx="71.5" cy="736.1" r="0.41" fill="#7b9af2" fill-opacity="0.55"/>
<circle cx="58.9" cy="773.1" r="0.43" fill="#5a8af0" fill-opacity="0.79"/><circle cx="66.4" cy="776.8" r="0.40" fill="#2a9ee0" fill-opacity="0.58"/><circle cx="55.1" cy="773.4" r="0.56" fill="#3b6fe6" fill-opacity="0.82"/><circle cx="60.9" cy="762.9" r="0.55" fill="#3b6fe6" fill-opacity="0.53"/><circle cx="65.3" cy="774.3" r="0.50" fill="#2a9ee0" fill-opacity="0.57"/><circle cx="61.8" cy="769.9" r="0.41" fill="#3b6fe6" fill-opacity="0.76"/><circle cx="59.4" cy="765.2" r="0.39" fill="#3b6fe6" fill-opacity="0.61"/><circle cx="70.1" cy="763.1" r="0.41" fill="#2a9ee0" fill-opacity="0.79"/><circle cx="63.6" cy="776.5" r="0.41" fill="#2a9ee0" fill-opacity="0.57"/><circle cx="59.8" cy="756.2" r="0.39" fill="#5a8af0" fill-opacity="0.65"/><circle cx="62.4" cy="763.2" r="0.57" fill="#5a8af0" fill-opacity="0.81"/><circle cx="63.6" cy="764.2" r="0.38" fill="#1f5fe0" fill-opacity="0.50"/><circle cx="63.3" cy="771.5" r="0.37" fill="#2a9ee0" fill-opacity="0.51"/><circle cx="59.4" cy="768.3" r="0.47" fill="#1f5fe0" fill-opacity="0.70"/><circle cx="57.1" cy="770.7" r="0.57" fill="#5a8af0" fill-opacity="0.67"/><circle cx="63.1" cy="769.4" r="0.41" fill="#2a9ee0" fill-opacity="0.69"/><circle cx="66.1" cy="765.4" r="0.45" fill="#3b6fe6" fill-opacity="0.69"/><circle cx="60.6" cy="775.9" r="0.33" fill="#1f5fe0" fill-opacity="0.88"/><circle cx="58.9" cy="766.3" r="0.45" fill="#5a8af0" fill-opacity="0.63"/><circle cx="63.6" cy="772.3" r="0.58" fill="#1f5fe0" fill-opacity="0.68"/><circle cx="61.6" cy="765.1" r="0.49" fill="#1f5fe0" fill-opacity="0.54"/><circle cx="57.9" cy="777.7" r="0.34" fill="#3b6fe6" fill-opacity="0.89"/><circle cx="59.0" cy="767.5" r="0.49" fill="#3b6fe6" fill-opacity="0.82"/><circle cx="66.5" cy="763.4" r="0.46" fill="#3b6fe6" fill-opacity="0.59"/><circle cx="56.5" cy="766.5" r="0.34" fill="#2a9ee0" fill-opacity="0.82"/><circle cx="67.5" cy="765.3" r="0.50" fill="#2a9ee0" fill-opacity="0.76"/><circle cx="61.3" cy="766.4" r="0.57" fill="#1f5fe0" fill-opacity="0.53"/><circle cx="61.2" cy="769.1" r="0.59" fill="#1f5fe0" fill-opacity="0.84"/><circle cx="59.2" cy="772.2" r="0.58" fill="#5a8af0" fill-opacity="0.66"/><circle cx="61.2" cy="766.6" r="0.37" fill="#1f5fe0" fill-opacity="0.69"/><circle cx="53.0" cy="764.6" r="0.50" fill="#1f5fe0" fill-opacity="0.58"/><circle cx="63.7" cy="765.7" r="0.36" fill="#1f5fe0" fill-opacity="0.90"/><circle cx="58.6" cy="768.2" r="0.31" fill="#2a9ee0" fill-opacity="0.57"/><circle cx="55.5" cy="771.4" r="0.53" fill="#2a9ee0" fill-opacity="0.60"/><circle cx="63.0" cy="764.7" r="0.48" fill="#2a9ee0" fill-opacity="0.69"/><circle cx="58.4" cy="765.0" r="0.37" fill="#2a9ee0" fill-opacity="0.55"/><circle cx="63.4" cy="767.1" r="0.60" fill="#5a8af0" fill-opacity="0.55"/><circle cx="56.8" cy="776.1" r="0.37" fill="#5a8af0" fill-opacity="0.57"/><circle cx="58.7" cy="763.4" r="0.38" fill="#1f5fe0" fill-opacity="0.73"/><circle cx="60.9" cy="771.0" r="0.59" fill="#2a9ee0" fill-opacity="0.78"/><circle cx="63.6" cy="771.8" r="0.59" fill="#3b6fe6" fill-opacity="0.86"/><circle cx="65.7" cy="773.0" r="0.56" fill="#5a8af0" fill-opacity="0.67"/><circle cx="55.0" cy="763.9" r="0.43" fill="#3b6fe6" fill-opacity="0.70"/><circle cx="56.5" cy="764.7" r="0.57" fill="#2a9ee0" fill-opacity="0.88"/><circle cx="61.3" cy="769.9" r="0.47" fill="#2a9ee0" fill-opacity="0.57"/><circle cx="61.3" cy="762.9" r="0.42" fill="#5a8af0" fill-opacity="0.88"/><circle cx="58.6" cy="778.7" r="0.49" fill="#3b6fe6" fill-opacity="0.69"/><circle cx="60.4" cy="757.3" r="0.43" fill="#3b6fe6" fill-opacity="0.64"/><circle cx="65.1" cy="752.5" r="0.44" fill="#5a8af0" fill-opacity="0.63"/><circle cx="71.5" cy="766.5" r="0.59" fill="#3b6fe6" fill-opacity="0.58"/><circle cx="52.0" cy="774.3" r="0.41" fill="#5a8af0" fill-opacity="0.78"/><circle cx="57.3" cy="771.7" r="0.34" fill="#2a9ee0" fill-opacity="0.59"/><circle cx="60.9" cy="772.3" r="0.45" fill="#3b6fe6" fill-opacity="0.85"/><circle cx="58.7" cy="760.9" r="0.47" fill="#1f5fe0" fill-opacity="0.88"/><circle cx="58.9" cy="764.2" r="0.39" fill="#1f5fe0" fill-opacity="0.82"/><circle cx="61.3" cy="758.6" r="0.42" fill="#5a8af0" fill-opacity="0.55"/><circle cx="60.1" cy="763.4" r="0.49" fill="#5a8af0" fill-opacity="0.78"/><circle cx="63.8" cy="767.1" r="0.49" fill="#2a9ee0" fill-opacity="0.57"/><circle cx="64.3" cy="770.9" r="0.36" fill="#3b6fe6" fill-opacity="0.51"/><circle cx="56.2" cy="764.2" r="0.31" fill="#2a9ee0" fill-opacity="0.82"/><circle cx="62.5" cy="765.5" r="0.30" fill="#5a8af0" fill-opacity="0.59"/><circle cx="58.8" cy="776.9" r="0.31" fill="#5a8af0" fill-opacity="0.55"/><circle cx="71.2" cy="762.9" r="0.44" fill="#5a8af0" fill-opacity="0.53"/><circle cx="58.7" cy="771.2" r="0.56" fill="#1f5fe0" fill-opacity="0.63"/><circle cx="64.2" cy="765.9" r="0.33" fill="#2a9ee0" fill-opacity="0.75"/><circle cx="61.3" cy="762.8" r="0.40" fill="#2a9ee0" fill-opacity="0.70"/><circle cx="61.6" cy="781.1" r="0.53" fill="#3b6fe6" fill-opacity="0.84"/><circle cx="58.2" cy="769.3" r="0.37" fill="#3b6fe6" fill-opacity="0.82"/><circle cx="62.3" cy="765.1" r="0.36" fill="#5a8af0" fill-opacity="0.78"/><circle cx="65.5" cy="757.8" r="0.49" fill="#5a8af0" fill-opacity="0.83"/><circle cx="57.4" cy="767.9" r="0.36" fill="#3b6fe6" fill-opacity="0.73"/><circle cx="64.0" cy="773.7" r="0.53" fill="#5a8af0" fill-opacity="0.70"/><circle cx="58.3" cy="766.1" r="0.31" fill="#3b6fe6" fill-opacity="0.79"/><circle cx="60.8" cy="772.6" r="0.48" fill="#1f5fe0" fill-opacity="0.86"/><circle cx="61.1" cy="772.7" r="0.34" fill="#2a9ee0" fill-opacity="0.52"/><circle cx="57.9" cy="768.1" r="0.42" fill="#2a9ee0" fill-opacity="0.71"/><circle cx="57.1" cy="776.9" r="0.33" fill="#2a9ee0" fill-opacity="0.52"/><circle cx="59.4" cy="766.8" r="0.44" fill="#5a8af0" fill-opacity="0.58"/><circle cx="63.3" cy="773.1" r="0.51" fill="#2a9ee0" fill-opacity="0.69"/><circle cx="60.3" cy="769.6" r="0.49" fill="#3b6fe6" fill-opacity="0.67"/><circle cx="66.2" cy="773.2" r="0.43" fill="#5a8af0" fill-opacity="0.84"/><circle cx="65.2" cy="765.8" r="0.46" fill="#2a9ee0" fill-opacity="0.81"/><circle cx="61.9" cy="762.2" r="0.33" fill="#3b6fe6" fill-opacity="0.68"/><circle cx="60.2" cy="763.4" r="0.56" fill="#3b6fe6" fill-opacity="0.88"/><circle cx="60.3" cy="766.5" r="0.39" fill="#3b6fe6" fill-opacity="0.53"/><circle cx="63.5" cy="757.1" r="0.46" fill="#1f5fe0" fill-opacity="0.56"/><circle cx="61.4" cy="758.0" r="0.31" fill="#3b6fe6" fill-opacity="0.86"/><circle cx="60.6" cy="760.5" r="0.39" fill="#3b6fe6" fill-opacity="0.83"/><circle cx="59.2" cy="763.1" r="0.35" fill="#5a8af0" fill-opacity="0.81"/><circle cx="57.9" cy="769.4" r="0.57" fill="#3b6fe6" fill-opacity="0.68"/>
<g filter="url(#bl)" transform="rotate(12 61.4 767.8)"><ellipse cx="61.4" cy="767.8" rx="5.6" ry="9.6" fill="#86a2f0" fill-opacity="0.5"/><ellipse cx="61.4" cy="767.8" rx="4.8" ry="8.6" fill="#3f78e6" fill-opacity="0.6"/><ellipse cx="61.4" cy="767.8" rx="4.0" ry="7.2" fill="#20a0d8" fill-opacity="0.85"/><ellipse cx="61.4" cy="767.8" rx="3" ry="5.8" fill="#24bc6a" fill-opacity="0.95"/><ellipse cx="61.4" cy="767.8" rx="2.1" ry="4.2" fill="#66d03a" fill-opacity="1"/><ellipse cx="61.4" cy="767.8" rx="1.2" ry="2.4" fill="#d0dc20" fill-opacity="0.95"/></g>
<circle cx="62.5" cy="730.1" r="0.58" fill="#1fb0a0" fill-opacity="0.79"/><circle cx="61.9" cy="731.5" r="0.48" fill="#1f8fd0" fill-opacity="0.62"/><circle cx="56.9" cy="731.2" r="0.54" fill="#1fb0a0" fill-opacity="0.80"/><circle cx="69.6" cy="729.0" r="0.40" fill="#1fb0a0" fill-opacity="0.60"/><circle cx="64.4" cy="733.1" r="0.34" fill="#1fb0a0" fill-opacity="0.84"/><circle cx="63.3" cy="731.7" r="0.55" fill="#1fb0a0" fill-opacity="0.77"/><circle cx="63.7" cy="729.7" r="0.56" fill="#1f8fd0" fill-opacity="0.73"/><circle cx="73.1" cy="730.7" r="0.31" fill="#1fb0a0" fill-opacity="0.52"/><circle cx="68.2" cy="730.4" r="0.55" fill="#2a6fe0" fill-opacity="0.61"/><circle cx="61.4" cy="732.1" r="0.42" fill="#2a6fe0" fill-opacity="0.61"/><circle cx="65.3" cy="730.3" r="0.42" fill="#1fb0a0" fill-opacity="0.75"/><circle cx="71.0" cy="727.8" r="0.55" fill="#1f8fd0" fill-opacity="0.76"/><circle cx="74.5" cy="732.0" r="0.53" fill="#1f8fd0" fill-opacity="0.83"/><circle cx="64.5" cy="733.9" r="0.43" fill="#2a6fe0" fill-opacity="0.62"/><circle cx="65.1" cy="734.2" r="0.55" fill="#1fb0a0" fill-opacity="0.64"/><circle cx="70.0" cy="726.5" r="0.56" fill="#1f8fd0" fill-opacity="0.88"/><circle cx="69.0" cy="728.3" r="0.54" fill="#1f8fd0" fill-opacity="0.84"/><circle cx="76.6" cy="729.6" r="0.53" fill="#2a6fe0" fill-opacity="0.81"/><circle cx="67.0" cy="729.2" r="0.41" fill="#2a6fe0" fill-opacity="0.53"/><circle cx="72.3" cy="733.8" r="0.37" fill="#1f8fd0" fill-opacity="0.53"/><circle cx="72.1" cy="732.0" r="0.56" fill="#1f8fd0" fill-opacity="0.76"/><circle cx="62.5" cy="732.9" r="0.39" fill="#2a6fe0" fill-opacity="0.75"/><circle cx="69.0" cy="728.7" r="0.52" fill="#2a6fe0" fill-opacity="0.62"/><circle cx="69.2" cy="728.2" r="0.48" fill="#1f8fd0" fill-opacity="0.90"/><circle cx="66.1" cy="729.9" r="0.42" fill="#2a6fe0" fill-opacity="0.85"/><circle cx="62.9" cy="729.0" r="0.46" fill="#2a6fe0" fill-opacity="0.87"/><circle cx="59.2" cy="726.4" r="0.57" fill="#1fb0a0" fill-opacity="0.51"/><circle cx="60.1" cy="729.0" r="0.34" fill="#1fb0a0" fill-opacity="0.90"/><circle cx="66.3" cy="732.2" r="0.54" fill="#1fb0a0" fill-opacity="0.64"/><circle cx="66.0" cy="734.3" r="0.37" fill="#1f8fd0" fill-opacity="0.85"/><circle cx="69.9" cy="730.3" r="0.49" fill="#2a6fe0" fill-opacity="0.53"/><circle cx="60.7" cy="731.5" r="0.45" fill="#2a6fe0" fill-opacity="0.89"/><circle cx="56.3" cy="730.6" r="0.50" fill="#1f8fd0" fill-opacity="0.56"/><circle cx="86.3" cy="727.5" r="0.57" fill="#1fb0a0" fill-opacity="0.57"/><circle cx="71.8" cy="730.8" r="0.56" fill="#1f8fd0" fill-opacity="0.64"/><circle cx="67.6" cy="729.6" r="0.57" fill="#1f8fd0" fill-opacity="0.84"/><circle cx="62.8" cy="726.7" r="0.45" fill="#1f8fd0" fill-opacity="0.87"/><circle cx="62.0" cy="729.9" r="0.43" fill="#1fb0a0" fill-opacity="0.51"/><circle cx="69.6" cy="733.2" r="0.38" fill="#1fb0a0" fill-opacity="0.67"/><circle cx="59.0" cy="730.2" r="0.53" fill="#1f8fd0" fill-opacity="0.82"/><circle cx="67.1" cy="729.6" r="0.46" fill="#1f8fd0" fill-opacity="0.59"/><circle cx="66.2" cy="728.8" r="0.57" fill="#1f8fd0" fill-opacity="0.58"/><circle cx="57.7" cy="728.4" r="0.44" fill="#1fb0a0" fill-opacity="0.74"/><circle cx="66.6" cy="734.9" r="0.58" fill="#2a6fe0" fill-opacity="0.52"/><circle cx="69.7" cy="729.5" r="0.56" fill="#1f8fd0" fill-opacity="0.86"/><circle cx="59.8" cy="729.5" r="0.44" fill="#2a6fe0" fill-opacity="0.76"/><circle cx="69.1" cy="730.4" r="0.37" fill="#1fb0a0" fill-opacity="0.58"/><circle cx="67.3" cy="732.5" r="0.43" fill="#1fb0a0" fill-opacity="0.62"/><circle cx="61.0" cy="728.4" r="0.36" fill="#1f8fd0" fill-opacity="0.63"/><circle cx="61.4" cy="730.4" r="0.55" fill="#2a6fe0" fill-opacity="0.81"/><circle cx="59.9" cy="728.9" r="0.44" fill="#2a6fe0" fill-opacity="0.58"/><circle cx="62.3" cy="729.7" r="0.37" fill="#1f8fd0" fill-opacity="0.64"/><circle cx="63.2" cy="731.0" r="0.41" fill="#1f8fd0" fill-opacity="0.67"/><circle cx="60.0" cy="733.3" r="0.49" fill="#2a6fe0" fill-opacity="0.69"/><circle cx="67.8" cy="727.8" r="0.55" fill="#1f8fd0" fill-opacity="0.79"/><circle cx="60.3" cy="733.1" r="0.42" fill="#1fb0a0" fill-opacity="0.67"/><circle cx="62.7" cy="733.3" r="0.52" fill="#1fb0a0" fill-opacity="0.50"/><circle cx="61.9" cy="727.3" r="0.56" fill="#1fb0a0" fill-opacity="0.82"/><circle cx="58.3" cy="728.5" r="0.54" fill="#2a6fe0" fill-opacity="0.56"/><circle cx="57.7" cy="729.3" r="0.33" fill="#2a6fe0" fill-opacity="0.86"/><circle cx="65.0" cy="729.9" r="0.54" fill="#2a6fe0" fill-opacity="0.68"/><circle cx="63.7" cy="733.3" r="0.40" fill="#1f8fd0" fill-opacity="0.71"/><circle cx="71.0" cy="728.9" r="0.33" fill="#2a6fe0" fill-opacity="0.60"/><circle cx="59.6" cy="728.4" r="0.31" fill="#2a6fe0" fill-opacity="0.82"/><circle cx="72.9" cy="732.2" r="0.46" fill="#1fb0a0" fill-opacity="0.61"/><circle cx="60.0" cy="734.3" r="0.58" fill="#1f8fd0" fill-opacity="0.65"/><circle cx="67.6" cy="731.2" r="0.54" fill="#1fb0a0" fill-opacity="0.56"/><circle cx="64.8" cy="731.2" r="0.34" fill="#2a6fe0" fill-opacity="0.89"/><circle cx="66.6" cy="729.8" r="0.47" fill="#1f8fd0" fill-opacity="0.87"/><circle cx="74.2" cy="733.3" r="0.55" fill="#2a6fe0" fill-opacity="0.52"/>
<g filter="url(#bl)" transform="rotate(0 64.6 730.4)"><ellipse cx="64.6" cy="730.4" rx="10.5" ry="5.4" fill="#9cb4f4" fill-opacity="0.5"/><ellipse cx="64.6" cy="730.4" rx="9.6" ry="4.7" fill="#3c88e8" fill-opacity="0.6"/><ellipse cx="64.6" cy="730.4" rx="8.2" ry="4" fill="#1ea0c0" fill-opacity="0.9"/><ellipse cx="64.6" cy="730.4" rx="6" ry="3.1" fill="#22b060" fill-opacity="1"/><ellipse cx="64.6" cy="730.4" rx="4" ry="2.2" fill="#5cc830" fill-opacity="1"/><ellipse cx="64.6" cy="730.4" rx="2.2" ry="1.3" fill="#c8d820" fill-opacity="1"/></g>
<path d="M52.4,722.0 L81.9,722.7 L77.0,735.4 L58.0,734.7 L51.7,729.0 Z" fill="none" stroke="#8f7c7c" stroke-width="0.9" stroke-linejoin="round"/>
<path d="M75.6,737.5 L97.3,733.3 L98.8,742.0 L98.0,750.4 L86.1,753.0 L73.5,752.2 Z" fill="none" stroke="#7a7a7a" stroke-width="0.9" stroke-linejoin="round"/>
<path d="M73.5,752.2 L86.1,753.6 L100.8,750.5 L98.0,775.4 L72.1,776.2 Z" fill="none" stroke="#7a7a7a" stroke-width="0.9" stroke-linejoin="round"/>
<path d="M73.5,752.2 Q86,754.6 100.8,750.5" fill="none" stroke="#2a3566" stroke-width="0.9"/>
<text x="52.2" y="717.4" font-size="4.9" font-weight="bold" font-family='"Liberation Serif", serif' text-anchor="middle" fill="#000" stroke="#000" stroke-width="0.15">PMN</text>
<text x="51.8" y="723.4" font-size="4.9" font-weight="bold" font-family='"Liberation Serif", serif' text-anchor="middle" fill="#000" stroke="#000" stroke-width="0.15">32.2</text>
<text x="107.2" y="738.4" font-size="4.9" font-weight="bold" font-family='"Liberation Serif", serif' text-anchor="middle" fill="#000" stroke="#000" stroke-width="0.15">Gr1hi</text>
<text x="106.6" y="744.4" font-size="4.9" font-weight="bold" font-family='"Liberation Serif", serif' text-anchor="middle" fill="#000" stroke="#000" stroke-width="0.15">11.5</text>
<text x="107.0" y="767.8" font-size="4.9" font-weight="bold" font-family='"Liberation Serif", serif' text-anchor="middle" fill="#000" stroke="#000" stroke-width="0.15">Gr1low</text>
<text x="106.8" y="773.4" font-size="4.9" font-weight="bold" font-family='"Liberation Serif", serif' text-anchor="middle" fill="#000" stroke="#000" stroke-width="0.15">10.9</text>
<rect x="159.6" y="709.2" width="72.0" height="71.19999999999993" fill="none" stroke="#b4b4b4" stroke-width="1.1"/>
<line x1="157.60" y1="716.80" x2="159.60" y2="716.80" stroke="#444" stroke-width="0.8"/>
<text x="156.6" y="718.3" font-size="4.6" font-weight="bold" font-family='"Liberation Serif", serif' text-anchor="end" fill="#111" stroke="#111" stroke-width="0.12">10<tspan font-size="3.3" dy="-1.8">5</tspan></text>
<line x1="157.60" y1="731.25" x2="159.60" y2="731.25" stroke="#444" stroke-width="0.8"/>
<text x="156.6" y="732.8" font-size="4.6" font-weight="bold" font-family='"Liberation Serif", serif' text-anchor="end" fill="#111" stroke="#111" stroke-width="0.12">10<tspan font-size="3.3" dy="-1.8">4</tspan></text>
<line x1="157.60" y1="746.60" x2="159.60" y2="746.60" stroke="#444" stroke-width="0.8"/>
<text x="156.6" y="748.1" font-size="4.6" font-weight="bold" font-family='"Liberation Serif", serif' text-anchor="end" fill="#111" stroke="#111" stroke-width="0.12">10<tspan font-size="3.3" dy="-1.8">3</tspan></text>
<line x1="157.60" y1="762.50" x2="159.60" y2="762.50" stroke="#444" stroke-width="0.8"/>
<text x="156.6" y="764.0" font-size="4.6" font-weight="bold" font-family='"Liberation Serif", serif' text-anchor="end" fill="#111" stroke="#111" stroke-width="0.12">10<tspan font-size="3.3" dy="-1.8">2</tspan></text>
<line x1="157.60" y1="771.20" x2="159.60" y2="771.20" stroke="#444" stroke-width="0.8"/>
<text x="157.3" y="772.7" font-size="4.6" font-weight="bold" font-family='"Liberation Serif", serif' text-anchor="end" fill="#111" stroke="#111" stroke-width="0.12">0</text>
<line x1="158.60" y1="712.00" x2="159.60" y2="712.00" stroke="#888" stroke-width="0.5"/>
<line x1="158.60" y1="715.00" x2="159.60" y2="715.00" stroke="#888" stroke-width="0.5"/>
<line x1="158.60" y1="718.00" x2="159.60" y2="718.00" stroke="#888" stroke-width="0.5"/>
<line x1="158.60" y1="721.00" x2="159.60" y2="721.00" stroke="#888" stroke-width="0.5"/>
<line x1="158.60" y1="724.00" x2="159.60" y2="724.00" stroke="#888" stroke-width="0.5"/>
<line x1="158.60" y1="727.00" x2="159.60" y2="727.00" stroke="#888" stroke-width="0.5"/>
<line x1="158.60" y1="730.00" x2="159.60" y2="730.00" stroke="#888" stroke-width="0.5"/>
<line x1="158.60" y1="733.00" x2="159.60" y2="733.00" stroke="#888" stroke-width="0.5"/>
<line x1="158.60" y1="736.00" x2="159.60" y2="736.00" stroke="#888" stroke-width="0.5"/>
<line x1="158.60" y1="739.00" x2="159.60" y2="739.00" stroke="#888" stroke-width="0.5"/>
<line x1="158.60" y1="742.00" x2="159.60" y2="742.00" stroke="#888" stroke-width="0.5"/>
<line x1="158.60" y1="745.00" x2="159.60" y2="745.00" stroke="#888" stroke-width="0.5"/>
<line x1="158.60" y1="748.00" x2="159.60" y2="748.00" stroke="#888" stroke-width="0.5"/>
<line x1="158.60" y1="751.00" x2="159.60" y2="751.00" stroke="#888" stroke-width="0.5"/>
<line x1="158.60" y1="754.00" x2="159.60" y2="754.00" stroke="#888" stroke-width="0.5"/>
<line x1="158.60" y1="757.00" x2="159.60" y2="757.00" stroke="#888" stroke-width="0.5"/>
<line x1="158.60" y1="760.00" x2="159.60" y2="760.00" stroke="#888" stroke-width="0.5"/>
<line x1="158.60" y1="763.00" x2="159.60" y2="763.00" stroke="#888" stroke-width="0.5"/>
<line x1="158.60" y1="766.00" x2="159.60" y2="766.00" stroke="#888" stroke-width="0.5"/>
<line x1="158.60" y1="769.00" x2="159.60" y2="769.00" stroke="#888" stroke-width="0.5"/>
<line x1="158.60" y1="772.00" x2="159.60" y2="772.00" stroke="#888" stroke-width="0.5"/>
<line x1="158.60" y1="775.00" x2="159.60" y2="775.00" stroke="#888" stroke-width="0.5"/>
<line x1="158.60" y1="778.00" x2="159.60" y2="778.00" stroke="#888" stroke-width="0.5"/>
<circle cx="158.9" cy="770.9" r="1.25" fill="#000"/>
<line x1="171.60" y1="780.40" x2="171.60" y2="782.20" stroke="#444" stroke-width="0.8"/>
<text x="171.6" y="789.5" font-size="4.6" font-weight="bold" font-family='"Liberation Serif", serif' text-anchor="middle" fill="#111" stroke="#111" stroke-width="0.12">0</text>
<line x1="192.70" y1="780.40" x2="192.70" y2="782.20" stroke="#444" stroke-width="0.8"/>
<text x="192.7" y="789.5" font-size="4.6" font-weight="bold" font-family='"Liberation Serif", serif' text-anchor="middle" fill="#111" stroke="#111" stroke-width="0.12">10<tspan font-size="3.3" dy="-1.8">3</tspan></text>
<line x1="208.00" y1="780.40" x2="208.00" y2="782.20" stroke="#444" stroke-width="0.8"/>
<text x="208.0" y="789.5" font-size="4.6" font-weight="bold" font-family='"Liberation Serif", serif' text-anchor="middle" fill="#111" stroke="#111" stroke-width="0.12">10<tspan font-size="3.3" dy="-1.8">4</tspan></text>
<line x1="223.50" y1="780.40" x2="223.50" y2="782.20" stroke="#444" stroke-width="0.8"/>
<text x="223.5" y="789.5" font-size="4.6" font-weight="bold" font-family='"Liberation Serif", serif' text-anchor="middle" fill="#111" stroke="#111" stroke-width="0.12">10<tspan font-size="3.3" dy="-1.8">5</tspan></text>
<line x1="162.00" y1="780.40" x2="162.00" y2="781.30" stroke="#888" stroke-width="0.5"/>
<line x1="165.00" y1="780.40" x2="165.00" y2="781.30" stroke="#888" stroke-width="0.5"/>
<line x1="168.00" y1="780.40" x2="168.00" y2="781.30" stroke="#888" stroke-width="0.5"/>
<line x1="171.00" y1="780.40" x2="171.00" y2="781.30" stroke="#888" stroke-width="0.5"/>
<line x1="174.00" y1="780.40" x2="174.00" y2="781.30" stroke="#888" stroke-width="0.5"/>
<line x1="177.00" y1="780.40" x2="177.00" y2="781.30" stroke="#888" stroke-width="0.5"/>
<line x1="180.00" y1="780.40" x2="180.00" y2="781.30" stroke="#888" stroke-width="0.5"/>
<line x1="183.00" y1="780.40" x2="183.00" y2="781.30" stroke="#888" stroke-width="0.5"/>
<line x1="186.00" y1="780.40" x2="186.00" y2="781.30" stroke="#888" stroke-width="0.5"/>
<line x1="189.00" y1="780.40" x2="189.00" y2="781.30" stroke="#888" stroke-width="0.5"/>
<line x1="192.00" y1="780.40" x2="192.00" y2="781.30" stroke="#888" stroke-width="0.5"/>
<line x1="195.00" y1="780.40" x2="195.00" y2="781.30" stroke="#888" stroke-width="0.5"/>
<line x1="198.00" y1="780.40" x2="198.00" y2="781.30" stroke="#888" stroke-width="0.5"/>
<line x1="201.00" y1="780.40" x2="201.00" y2="781.30" stroke="#888" stroke-width="0.5"/>
<line x1="204.00" y1="780.40" x2="204.00" y2="781.30" stroke="#888" stroke-width="0.5"/>
<line x1="207.00" y1="780.40" x2="207.00" y2="781.30" stroke="#888" stroke-width="0.5"/>
<line x1="210.00" y1="780.40" x2="210.00" y2="781.30" stroke="#888" stroke-width="0.5"/>
<line x1="213.00" y1="780.40" x2="213.00" y2="781.30" stroke="#888" stroke-width="0.5"/>
<line x1="216.00" y1="780.40" x2="216.00" y2="781.30" stroke="#888" stroke-width="0.5"/>
<line x1="219.00" y1="780.40" x2="219.00" y2="781.30" stroke="#888" stroke-width="0.5"/>
<line x1="222.00" y1="780.40" x2="222.00" y2="781.30" stroke="#888" stroke-width="0.5"/>
<line x1="225.00" y1="780.40" x2="225.00" y2="781.30" stroke="#888" stroke-width="0.5"/>
<line x1="228.00" y1="780.40" x2="228.00" y2="781.30" stroke="#888" stroke-width="0.5"/>
<rect x="167.6" y="780.6" width="8" height="1.2" fill="#333"/>
<circle cx="191.0" cy="762.3" r="0.56" fill="#b8b4f6" fill-opacity="0.69"/><circle cx="203.6" cy="758.5" r="0.36" fill="#a8a8f2" fill-opacity="0.43"/><circle cx="199.3" cy="754.3" r="0.41" fill="#c0c0f6" fill-opacity="0.37"/><circle cx="191.8" cy="751.8" r="0.48" fill="#b8b4f6" fill-opacity="0.69"/><circle cx="193.7" cy="760.6" r="0.51" fill="#9ca4ee" fill-opacity="0.49"/><circle cx="212.8" cy="759.5" r="0.41" fill="#b8b4f6" fill-opacity="0.66"/><circle cx="196.1" cy="752.2" r="0.59" fill="#8f9cec" fill-opacity="0.31"/><circle cx="193.2" cy="754.7" r="0.56" fill="#a8a8f2" fill-opacity="0.43"/><circle cx="196.9" cy="756.7" r="0.59" fill="#b8b4f6" fill-opacity="0.36"/><circle cx="195.3" cy="751.9" r="0.68" fill="#8f9cec" fill-opacity="0.64"/><circle cx="192.9" cy="765.8" r="0.55" fill="#b8b4f6" fill-opacity="0.59"/><circle cx="195.8" cy="754.2" r="0.42" fill="#c0c0f6" fill-opacity="0.70"/><circle cx="203.9" cy="767.3" r="0.64" fill="#8f9cec" fill-opacity="0.70"/><circle cx="198.3" cy="752.7" r="0.44" fill="#8f9cec" fill-opacity="0.54"/><circle cx="209.6" cy="768.8" r="0.68" fill="#c0c0f6" fill-opacity="0.64"/><circle cx="210.3" cy="757.5" r="0.40" fill="#a8a8f2" fill-opacity="0.60"/><circle cx="193.8" cy="754.5" r="0.38" fill="#a8a8f2" fill-opacity="0.61"/><circle cx="206.1" cy="761.2" r="0.56" fill="#a8a8f2" fill-opacity="0.47"/><circle cx="211.8" cy="750.0" r="0.61" fill="#a8a8f2" fill-opacity="0.56"/><circle cx="208.6" cy="762.4" r="0.43" fill="#9ca4ee" fill-opacity="0.56"/><circle cx="199.7" cy="764.2" r="0.68" fill="#8f9cec" fill-opacity="0.70"/><circle cx="191.7" cy="761.8" r="0.51" fill="#9ca4ee" fill-opacity="0.65"/><circle cx="197.0" cy="758.6" r="0.63" fill="#b8b4f6" fill-opacity="0.42"/><circle cx="191.7" cy="768.2" r="0.44" fill="#b8b4f6" fill-opacity="0.50"/><circle cx="199.3" cy="758.5" r="0.65" fill="#a8a8f2" fill-opacity="0.66"/><circle cx="209.7" cy="759.6" r="0.66" fill="#c0c0f6" fill-opacity="0.33"/><circle cx="197.1" cy="770.0" r="0.41" fill="#8f9cec" fill-opacity="0.35"/><circle cx="202.6" cy="755.0" r="0.64" fill="#b8b4f6" fill-opacity="0.40"/><circle cx="209.9" cy="770.1" r="0.52" fill="#b8b4f6" fill-opacity="0.61"/><circle cx="197.6" cy="759.0" r="0.63" fill="#c0c0f6" fill-opacity="0.57"/><circle cx="200.8" cy="753.3" r="0.52" fill="#c0c0f6" fill-opacity="0.51"/><circle cx="203.1" cy="762.7" r="0.59" fill="#8f9cec" fill-opacity="0.52"/><circle cx="197.0" cy="760.2" r="0.66" fill="#b8b4f6" fill-opacity="0.49"/><circle cx="210.4" cy="754.6" r="0.54" fill="#a8a8f2" fill-opacity="0.60"/><circle cx="197.0" cy="755.9" r="0.48" fill="#a8a8f2" fill-opacity="0.68"/><circle cx="205.4" cy="757.6" r="0.45" fill="#8f9cec" fill-opacity="0.43"/><circle cx="196.6" cy="756.1" r="0.46" fill="#a8a8f2" fill-opacity="0.48"/><circle cx="209.5" cy="756.1" r="0.55" fill="#9ca4ee" fill-opacity="0.68"/><circle cx="198.0" cy="752.3" r="0.54" fill="#b8b4f6" fill-opacity="0.65"/><circle cx="197.4" cy="752.6" r="0.42" fill="#8f9cec" fill-opacity="0.42"/><circle cx="193.8" cy="754.5" r="0.54" fill="#b8b4f6" fill-opacity="0.38"/><circle cx="197.0" cy="757.8" r="0.58" fill="#b8b4f6" fill-opacity="0.57"/><circle cx="203.5" cy="758.0" r="0.38" fill="#c0c0f6" fill-opacity="0.41"/><circle cx="210.7" cy="751.9" r="0.50" fill="#8f9cec" fill-opacity="0.66"/><circle cx="206.4" cy="758.4" r="0.67" fill="#b8b4f6" fill-opacity="0.39"/><circle cx="202.0" cy="761.2" r="0.66" fill="#8f9cec" fill-opacity="0.51"/><circle cx="190.8" cy="763.6" r="0.56" fill="#a8a8f2" fill-opacity="0.58"/><circle cx="208.5" cy="753.1" r="0.48" fill="#c0c0f6" fill-opacity="0.56"/><circle cx="212.2" cy="757.6" r="0.41" fill="#c0c0f6" fill-opacity="0.59"/><circle cx="193.8" cy="756.1" r="0.44" fill="#9ca4ee" fill-opacity="0.36"/><circle cx="203.5" cy="761.1" r="0.63" fill="#8f9cec" fill-opacity="0.35"/><circle cx="197.2" cy="765.8" r="0.55" fill="#a8a8f2" fill-opacity="0.47"/><circle cx="199.7" cy="757.7" r="0.43" fill="#a8a8f2" fill-opacity="0.36"/><circle cx="201.8" cy="757.7" r="0.43" fill="#9ca4ee" fill-opacity="0.34"/><circle cx="193.2" cy="758.9" r="0.52" fill="#9ca4ee" fill-opacity="0.32"/><circle cx="201.2" cy="759.8" r="0.42" fill="#b8b4f6" fill-opacity="0.40"/><circle cx="199.3" cy="760.2" r="0.38" fill="#9ca4ee" fill-opacity="0.61"/><circle cx="189.5" cy="761.2" r="0.46" fill="#b8b4f6" fill-opacity="0.43"/><circle cx="211.6" cy="752.5" r="0.67" fill="#c0c0f6" fill-opacity="0.53"/><circle cx="200.5" cy="759.8" r="0.39" fill="#a8a8f2" fill-opacity="0.60"/><circle cx="199.0" cy="750.4" r="0.43" fill="#b8b4f6" fill-opacity="0.38"/><circle cx="200.5" cy="765.1" r="0.67" fill="#b8b4f6" fill-opacity="0.30"/><circle cx="202.4" cy="764.5" r="0.49" fill="#b8b4f6" fill-opacity="0.51"/><circle cx="199.2" cy="764.0" r="0.44" fill="#b8b4f6" fill-opacity="0.57"/><circle cx="202.4" cy="764.5" r="0.37" fill="#c0c0f6" fill-opacity="0.33"/><circle cx="205.9" cy="759.5" r="0.67" fill="#9ca4ee" fill-opacity="0.34"/><circle cx="191.7" cy="757.9" r="0.38" fill="#b8b4f6" fill-opacity="0.67"/><circle cx="192.9" cy="755.3" r="0.68" fill="#a8a8f2" fill-opacity="0.63"/><circle cx="196.6" cy="758.6" r="0.50" fill="#c0c0f6" fill-opacity="0.56"/><circle cx="206.1" cy="758.7" r="0.63" fill="#a8a8f2" fill-opacity="0.62"/><circle cx="213.8" cy="763.3" r="0.37" fill="#b8b4f6" fill-opacity="0.53"/><circle cx="199.8" cy="752.1" r="0.49" fill="#9ca4ee" fill-opacity="0.63"/><circle cx="205.5" cy="763.9" r="0.35" fill="#b8b4f6" fill-opacity="0.34"/><circle cx="198.0" cy="755.1" r="0.60" fill="#9ca4ee" fill-opacity="0.35"/><circle cx="192.3" cy="764.6" r="0.40" fill="#a8a8f2" fill-opacity="0.65"/><circle cx="206.9" cy="760.8" r="0.46" fill="#8f9cec" fill-opacity="0.66"/><circle cx="196.2" cy="756.3" r="0.42" fill="#8f9cec" fill-opacity="0.59"/><circle cx="206.2" cy="762.3" r="0.56" fill="#8f9cec" fill-opacity="0.39"/><circle cx="199.4" cy="765.6" r="0.36" fill="#8f9cec" fill-opacity="0.47"/><circle cx="199.0" cy="756.9" r="0.45" fill="#9ca4ee" fill-opacity="0.61"/><circle cx="195.0" cy="757.5" r="0.54" fill="#8f9cec" fill-opacity="0.52"/><circle cx="197.0" cy="769.8" r="0.64" fill="#a8a8f2" fill-opacity="0.49"/><circle cx="200.3" cy="753.5" r="0.65" fill="#c0c0f6" fill-opacity="0.58"/><circle cx="197.7" cy="758.8" r="0.61" fill="#9ca4ee" fill-opacity="0.38"/><circle cx="202.4" cy="769.3" r="0.57" fill="#9ca4ee" fill-opacity="0.58"/><circle cx="200.6" cy="760.3" r="0.49" fill="#9ca4ee" fill-opacity="0.47"/><circle cx="205.6" cy="753.9" r="0.47" fill="#b8b4f6" fill-opacity="0.49"/><circle cx="202.5" cy="760.8" r="0.44" fill="#b8b4f6" fill-opacity="0.49"/><circle cx="193.2" cy="760.5" r="0.40" fill="#9ca4ee" fill-opacity="0.56"/><circle cx="199.3" cy="752.1" r="0.67" fill="#a8a8f2" fill-opacity="0.64"/><circle cx="193.3" cy="769.1" r="0.50" fill="#a8a8f2" fill-opacity="0.38"/><circle cx="202.1" cy="751.8" r="0.39" fill="#a8a8f2" fill-opacity="0.41"/><circle cx="197.0" cy="760.6" r="0.61" fill="#a8a8f2" fill-opacity="0.35"/><circle cx="199.2" cy="761.1" r="0.57" fill="#a8a8f2" fill-opacity="0.38"/><circle cx="212.9" cy="759.2" r="0.43" fill="#8f9cec" fill-opacity="0.34"/><circle cx="201.5" cy="765.3" r="0.66" fill="#8f9cec" fill-opacity="0.35"/><circle cx="192.3" cy="754.6" r="0.38" fill="#8f9cec" fill-opacity="0.48"/><circle cx="201.7" cy="765.0" r="0.67" fill="#c0c0f6" fill-opacity="0.31"/><circle cx="202.0" cy="763.8" r="0.43" fill="#c0c0f6" fill-opacity="0.64"/><circle cx="201.4" cy="766.6" r="0.57" fill="#c0c0f6" fill-opacity="0.51"/><circle cx="194.5" cy="756.3" r="0.62" fill="#c0c0f6" fill-opacity="0.49"/><circle cx="203.7" cy="757.8" r="0.51" fill="#c0c0f6" fill-opacity="0.54"/><circle cx="205.9" cy="765.8" r="0.54" fill="#c0c0f6" fill-opacity="0.45"/><circle cx="202.2" cy="755.1" r="0.62" fill="#9ca4ee" fill-opacity="0.60"/><circle cx="195.0" cy="770.2" r="0.37" fill="#a8a8f2" fill-opacity="0.66"/><circle cx="201.3" cy="758.6" r="0.53" fill="#c0c0f6" fill-opacity="0.42"/><circle cx="198.1" cy="750.5" r="0.39" fill="#b8b4f6" fill-opacity="0.51"/><circle cx="206.0" cy="761.5" r="0.42" fill="#8f9cec" fill-opacity="0.65"/><circle cx="196.5" cy="762.6" r="0.55" fill="#8f9cec" fill-opacity="0.41"/><circle cx="198.3" cy="755.3" r="0.47" fill="#a8a8f2" fill-opacity="0.47"/><circle cx="208.3" cy="756.4" r="0.35" fill="#c0c0f6" fill-opacity="0.70"/><circle cx="204.2" cy="765.6" r="0.49" fill="#9ca4ee" fill-opacity="0.39"/><circle cx="203.2" cy="751.0" r="0.64" fill="#9ca4ee" fill-opacity="0.32"/><circle cx="189.1" cy="767.5" r="0.59" fill="#9ca4ee" fill-opacity="0.57"/><circle cx="192.0" cy="758.1" r="0.54" fill="#b8b4f6" fill-opacity="0.33"/><circle cx="203.3" cy="761.7" r="0.40" fill="#8f9cec" fill-opacity="0.55"/><circle cx="205.5" cy="764.8" r="0.45" fill="#9ca4ee" fill-opacity="0.51"/><circle cx="205.9" cy="761.3" r="0.59" fill="#9ca4ee" fill-opacity="0.52"/><circle cx="190.7" cy="750.4" r="0.64" fill="#8f9cec" fill-opacity="0.57"/><circle cx="200.7" cy="752.3" r="0.61" fill="#b8b4f6" fill-opacity="0.45"/><circle cx="209.6" cy="763.5" r="0.56" fill="#a8a8f2" fill-opacity="0.58"/><circle cx="196.5" cy="757.7" r="0.41" fill="#a8a8f2" fill-opacity="0.63"/><circle cx="199.6" cy="757.8" r="0.50" fill="#b8b4f6" fill-opacity="0.63"/><circle cx="197.3" cy="750.6" r="0.42" fill="#b8b4f6" fill-opacity="0.66"/><circle cx="200.0" cy="759.3" r="0.48" fill="#9ca4ee" fill-opacity="0.66"/><circle cx="213.6" cy="759.5" r="0.41" fill="#a8a8f2" fill-opacity="0.42"/><circle cx="214.4" cy="750.6" r="0.56" fill="#c0c0f6" fill-opacity="0.69"/><circle cx="200.2" cy="757.8" r="0.61" fill="#a8a8f2" fill-opacity="0.39"/><circle cx="190.6" cy="755.1" r="0.48" fill="#b8b4f6" fill-opacity="0.52"/><circle cx="190.6" cy="766.2" r="0.68" fill="#b8b4f6" fill-opacity="0.39"/><circle cx="196.7" cy="757.8" r="0.49" fill="#9ca4ee" fill-opacity="0.39"/><circle cx="194.5" cy="763.7" r="0.52" fill="#8f9cec" fill-opacity="0.55"/><circle cx="198.9" cy="751.6" r="0.47" fill="#b8b4f6" fill-opacity="0.59"/><circle cx="196.5" cy="752.4" r="0.62" fill="#8f9cec" fill-opacity="0.47"/><circle cx="197.6" cy="754.0" r="0.63" fill="#8f9cec" fill-opacity="0.34"/><circle cx="199.2" cy="767.1" r="0.45" fill="#c0c0f6" fill-opacity="0.54"/><circle cx="204.8" cy="753.3" r="0.66" fill="#a8a8f2" fill-opacity="0.42"/><circle cx="202.2" cy="754.6" r="0.56" fill="#8f9cec" fill-opacity="0.55"/><circle cx="210.8" cy="766.0" r="0.59" fill="#9ca4ee" fill-opacity="0.34"/><circle cx="209.4" cy="756.7" r="0.50" fill="#c0c0f6" fill-opacity="0.57"/><circle cx="206.0" cy="756.8" r="0.40" fill="#a8a8f2" fill-opacity="0.37"/><circle cx="206.6" cy="754.6" r="0.49" fill="#c0c0f6" fill-opacity="0.36"/><circle cx="205.3" cy="765.8" r="0.41" fill="#b8b4f6" fill-opacity="0.53"/><circle cx="205.0" cy="766.8" r="0.64" fill="#c0c0f6" fill-opacity="0.31"/><circle cx="205.8" cy="756.2" r="0.66" fill="#a8a8f2" fill-opacity="0.56"/><circle cx="207.9" cy="762.2" r="0.57" fill="#9ca4ee" fill-opacity="0.54"/><circle cx="205.6" cy="756.5" r="0.48" fill="#9ca4ee" fill-opacity="0.49"/><circle cx="211.5" cy="761.7" r="0.40" fill="#9ca4ee" fill-opacity="0.52"/><circle cx="200.6" cy="755.0" r="0.65" fill="#8f9cec" fill-opacity="0.32"/><circle cx="201.0" cy="760.7" r="0.64" fill="#9ca4ee" fill-opacity="0.41"/><circle cx="201.1" cy="758.1" r="0.43" fill="#c0c0f6" fill-opacity="0.40"/><circle cx="207.0" cy="753.4" r="0.65" fill="#b8b4f6" fill-opacity="0.35"/><circle cx="201.0" cy="750.9" r="0.62" fill="#c0c0f6" fill-opacity="0.70"/><circle cx="201.6" cy="759.7" r="0.49" fill="#c0c0f6" fill-opacity="0.67"/><circle cx="195.6" cy="761.5" r="0.57" fill="#a8a8f2" fill-opacity="0.62"/><circle cx="192.5" cy="753.9" r="0.45" fill="#c0c0f6" fill-opacity="0.63"/><circle cx="213.3" cy="751.3" r="0.58" fill="#b8b4f6" fill-opacity="0.52"/><circle cx="190.8" cy="760.0" r="0.70" fill="#b8b4f6" fill-opacity="0.50"/><circle cx="209.9" cy="764.7" r="0.69" fill="#c0c0f6" fill-opacity="0.31"/><circle cx="193.1" cy="751.4" r="0.51" fill="#b8b4f6" fill-opacity="0.35"/><circle cx="197.1" cy="767.8" r="0.40" fill="#b8b4f6" fill-opacity="0.46"/><circle cx="207.7" cy="758.1" r="0.50" fill="#c0c0f6" fill-opacity="0.43"/><circle cx="195.1" cy="754.6" r="0.37" fill="#b8b4f6" fill-opacity="0.33"/><circle cx="207.4" cy="759.5" r="0.59" fill="#8f9cec" fill-opacity="0.36"/><circle cx="210.6" cy="763.1" r="0.36" fill="#9ca4ee" fill-opacity="0.59"/><circle cx="197.6" cy="761.0" r="0.57" fill="#c0c0f6" fill-opacity="0.60"/><circle cx="204.2" cy="756.0" r="0.46" fill="#c0c0f6" fill-opacity="0.69"/><circle cx="194.7" cy="762.7" r="0.48" fill="#b8b4f6" fill-opacity="0.38"/><circle cx="194.0" cy="763.4" r="0.45" fill="#8f9cec" fill-opacity="0.34"/><circle cx="209.4" cy="759.9" r="0.40" fill="#b8b4f6" fill-opacity="0.46"/>
<path d="M174,739 L190,739 L186,750 L183,762 L180,776.5 L172.5,776.5 L172,764 L175,750 Z" fill="#7a86ee" fill-opacity="0.55" filter="url(#bl2)"/>
<circle cx="179.5" cy="747.9" r="0.53" fill="#3f7ee8" fill-opacity="0.64"/><circle cx="187.6" cy="749.2" r="0.39" fill="#7a7cf0" fill-opacity="0.46"/><circle cx="182.7" cy="757.0" r="0.67" fill="#4a64e0" fill-opacity="0.65"/><circle cx="181.5" cy="749.4" r="0.49" fill="#5a6ee6" fill-opacity="0.68"/><circle cx="185.7" cy="743.2" r="0.39" fill="#4a64e0" fill-opacity="0.66"/><circle cx="182.0" cy="752.9" r="0.57" fill="#7a7cf0" fill-opacity="0.82"/><circle cx="177.6" cy="748.3" r="0.40" fill="#5a6ee6" fill-opacity="0.82"/><circle cx="177.9" cy="753.6" r="0.46" fill="#7a7cf0" fill-opacity="0.88"/><circle cx="175.3" cy="743.6" r="0.68" fill="#3f7ee8" fill-opacity="0.63"/><circle cx="178.0" cy="743.9" r="0.50" fill="#5a6ee6" fill-opacity="0.71"/><circle cx="178.2" cy="763.0" r="0.59" fill="#4a64e0" fill-opacity="0.58"/><circle cx="180.1" cy="751.3" r="0.55" fill="#8c8cf2" fill-opacity="0.58"/><circle cx="177.2" cy="759.9" r="0.38" fill="#5a6ee6" fill-opacity="0.68"/><circle cx="177.5" cy="756.1" r="0.53" fill="#4a64e0" fill-opacity="0.68"/><circle cx="181.7" cy="746.4" r="0.67" fill="#8c8cf2" fill-opacity="0.68"/><circle cx="178.7" cy="746.6" r="0.70" fill="#7a7cf0" fill-opacity="0.87"/><circle cx="176.9" cy="762.4" r="0.63" fill="#3f7ee8" fill-opacity="0.51"/><circle cx="179.4" cy="750.7" r="0.36" fill="#3f7ee8" fill-opacity="0.57"/><circle cx="181.4" cy="746.6" r="0.68" fill="#3f7ee8" fill-opacity="0.63"/><circle cx="180.0" cy="760.0" r="0.58" fill="#4a64e0" fill-opacity="0.50"/><circle cx="176.0" cy="751.9" r="0.37" fill="#8c8cf2" fill-opacity="0.54"/><circle cx="183.7" cy="751.5" r="0.42" fill="#8c8cf2" fill-opacity="0.75"/><circle cx="175.2" cy="743.8" r="0.49" fill="#4a64e0" fill-opacity="0.71"/><circle cx="178.8" cy="751.0" r="0.69" fill="#7a7cf0" fill-opacity="0.80"/><circle cx="183.8" cy="752.7" r="0.43" fill="#5a6ee6" fill-opacity="0.78"/><circle cx="183.3" cy="738.4" r="0.66" fill="#4a64e0" fill-opacity="0.57"/><circle cx="183.3" cy="745.9" r="0.56" fill="#4a64e0" fill-opacity="0.89"/><circle cx="182.7" cy="750.1" r="0.58" fill="#3f7ee8" fill-opacity="0.53"/><circle cx="180.6" cy="758.8" r="0.52" fill="#7a7cf0" fill-opacity="0.84"/><circle cx="179.1" cy="751.0" r="0.43" fill="#3f7ee8" fill-opacity="0.83"/><circle cx="174.7" cy="760.9" r="0.38" fill="#4a64e0" fill-opacity="0.54"/><circle cx="188.8" cy="747.2" r="0.48" fill="#7a7cf0" fill-opacity="0.46"/><circle cx="183.7" cy="748.3" r="0.38" fill="#5a6ee6" fill-opacity="0.88"/><circle cx="178.0" cy="753.9" r="0.38" fill="#3f7ee8" fill-opacity="0.77"/><circle cx="178.6" cy="747.7" r="0.51" fill="#7a7cf0" fill-opacity="0.55"/><circle cx="183.1" cy="755.8" r="0.66" fill="#5a6ee6" fill-opacity="0.51"/><circle cx="181.2" cy="751.2" r="0.63" fill="#3f7ee8" fill-opacity="0.76"/><circle cx="176.6" cy="747.2" r="0.66" fill="#7a7cf0" fill-opacity="0.66"/><circle cx="178.6" cy="754.5" r="0.60" fill="#5a6ee6" fill-opacity="0.71"/><circle cx="183.8" cy="744.3" r="0.50" fill="#3f7ee8" fill-opacity="0.54"/><circle cx="176.7" cy="760.0" r="0.67" fill="#5a6ee6" fill-opacity="0.62"/><circle cx="181.6" cy="755.7" r="0.58" fill="#4a64e0" fill-opacity="0.87"/><circle cx="183.0" cy="746.1" r="0.51" fill="#8c8cf2" fill-opacity="0.70"/><circle cx="185.7" cy="749.0" r="0.63" fill="#7a7cf0" fill-opacity="0.56"/><circle cx="181.6" cy="740.2" r="0.42" fill="#7a7cf0" fill-opacity="0.54"/><circle cx="180.6" cy="748.5" r="0.70" fill="#4a64e0" fill-opacity="0.65"/><circle cx="184.1" cy="744.6" r="0.63" fill="#7a7cf0" fill-opacity="0.48"/><circle cx="179.3" cy="752.4" r="0.36" fill="#5a6ee6" fill-opacity="0.67"/><circle cx="172.0" cy="757.5" r="0.43" fill="#8c8cf2" fill-opacity="0.51"/><circle cx="182.7" cy="754.7" r="0.46" fill="#4a64e0" fill-opacity="0.67"/><circle cx="175.6" cy="756.0" r="0.35" fill="#3f7ee8" fill-opacity="0.47"/><circle cx="183.1" cy="746.3" r="0.47" fill="#7a7cf0" fill-opacity="0.46"/><circle cx="181.0" cy="753.3" r="0.65" fill="#8c8cf2" fill-opacity="0.67"/><circle cx="177.7" cy="751.3" r="0.56" fill="#5a6ee6" fill-opacity="0.71"/><circle cx="183.2" cy="753.4" r="0.49" fill="#4a64e0" fill-opacity="0.88"/><circle cx="177.0" cy="750.9" r="0.52" fill="#5a6ee6" fill-opacity="0.63"/><circle cx="182.4" cy="758.7" r="0.56" fill="#3f7ee8" fill-opacity="0.50"/><circle cx="178.0" cy="743.7" r="0.37" fill="#4a64e0" fill-opacity="0.85"/><circle cx="180.6" cy="747.7" r="0.64" fill="#5a6ee6" fill-opacity="0.85"/><circle cx="178.1" cy="759.5" r="0.39" fill="#8c8cf2" fill-opacity="0.73"/><circle cx="180.1" cy="750.6" r="0.54" fill="#4a64e0" fill-opacity="0.87"/><circle cx="176.4" cy="745.0" r="0.63" fill="#3f7ee8" fill-opacity="0.75"/><circle cx="173.5" cy="755.3" r="0.69" fill="#3f7ee8" fill-opacity="0.73"/><circle cx="176.1" cy="751.8" r="0.37" fill="#3f7ee8" fill-opacity="0.58"/><circle cx="180.6" cy="748.9" r="0.62" fill="#5a6ee6" fill-opacity="0.56"/><circle cx="182.5" cy="750.6" r="0.43" fill="#4a64e0" fill-opacity="0.62"/><circle cx="178.3" cy="761.0" r="0.69" fill="#3f7ee8" fill-opacity="0.80"/><circle cx="180.0" cy="749.5" r="0.44" fill="#5a6ee6" fill-opacity="0.68"/><circle cx="177.4" cy="754.8" r="0.41" fill="#8c8cf2" fill-opacity="0.70"/><circle cx="185.8" cy="739.1" r="0.53" fill="#5a6ee6" fill-opacity="0.81"/><circle cx="181.6" cy="753.4" r="0.49" fill="#5a6ee6" fill-opacity="0.70"/><circle cx="181.7" cy="751.4" r="0.37" fill="#4a64e0" fill-opacity="0.62"/><circle cx="184.7" cy="750.0" r="0.55" fill="#5a6ee6" fill-opacity="0.50"/><circle cx="183.7" cy="745.9" r="0.52" fill="#7a7cf0" fill-opacity="0.83"/><circle cx="182.2" cy="761.6" r="0.63" fill="#7a7cf0" fill-opacity="0.55"/><circle cx="186.2" cy="753.9" r="0.38" fill="#4a64e0" fill-opacity="0.79"/><circle cx="183.7" cy="744.2" r="0.69" fill="#4a64e0" fill-opacity="0.51"/><circle cx="179.6" cy="760.8" r="0.59" fill="#8c8cf2" fill-opacity="0.83"/><circle cx="179.0" cy="749.5" r="0.56" fill="#4a64e0" fill-opacity="0.53"/><circle cx="179.6" cy="747.7" r="0.43" fill="#7a7cf0" fill-opacity="0.76"/><circle cx="180.7" cy="749.2" r="0.62" fill="#4a64e0" fill-opacity="0.59"/><circle cx="181.5" cy="755.3" r="0.63" fill="#8c8cf2" fill-opacity="0.69"/><circle cx="179.0" cy="752.5" r="0.66" fill="#8c8cf2" fill-opacity="0.52"/><circle cx="183.4" cy="757.6" r="0.67" fill="#5a6ee6" fill-opacity="0.63"/><circle cx="181.3" cy="757.2" r="0.66" fill="#5a6ee6" fill-opacity="0.63"/><circle cx="179.7" cy="752.2" r="0.42" fill="#4a64e0" fill-opacity="0.71"/><circle cx="177.4" cy="753.3" r="0.54" fill="#8c8cf2" fill-opacity="0.76"/><circle cx="181.2" cy="756.7" r="0.50" fill="#4a64e0" fill-opacity="0.58"/><circle cx="181.4" cy="756.8" r="0.45" fill="#8c8cf2" fill-opacity="0.84"/><circle cx="180.0" cy="746.3" r="0.57" fill="#8c8cf2" fill-opacity="0.49"/><circle cx="180.8" cy="753.6" r="0.65" fill="#8c8cf2" fill-opacity="0.57"/><circle cx="179.6" cy="754.6" r="0.60" fill="#3f7ee8" fill-opacity="0.74"/><circle cx="178.7" cy="751.1" r="0.52" fill="#5a6ee6" fill-opacity="0.62"/><circle cx="187.0" cy="742.9" r="0.57" fill="#8c8cf2" fill-opacity="0.70"/><circle cx="181.1" cy="749.6" r="0.58" fill="#8c8cf2" fill-opacity="0.59"/><circle cx="178.3" cy="750.8" r="0.64" fill="#8c8cf2" fill-opacity="0.58"/><circle cx="186.2" cy="746.0" r="0.52" fill="#3f7ee8" fill-opacity="0.88"/><circle cx="181.4" cy="763.2" r="0.66" fill="#3f7ee8" fill-opacity="0.64"/><circle cx="181.2" cy="752.1" r="0.64" fill="#3f7ee8" fill-opacity="0.62"/><circle cx="182.6" cy="748.8" r="0.51" fill="#5a6ee6" fill-opacity="0.63"/><circle cx="179.0" cy="762.2" r="0.38" fill="#5a6ee6" fill-opacity="0.89"/><circle cx="179.2" cy="757.6" r="0.48" fill="#8c8cf2" fill-opacity="0.75"/><circle cx="181.1" cy="745.8" r="0.48" fill="#8c8cf2" fill-opacity="0.50"/><circle cx="182.7" cy="755.9" r="0.61" fill="#3f7ee8" fill-opacity="0.79"/><circle cx="185.4" cy="750.0" r="0.50" fill="#3f7ee8" fill-opacity="0.53"/><circle cx="185.0" cy="750.3" r="0.70" fill="#3f7ee8" fill-opacity="0.60"/><circle cx="167.4" cy="763.9" r="0.36" fill="#8c8cf2" fill-opacity="0.67"/><circle cx="176.5" cy="750.1" r="0.37" fill="#7a7cf0" fill-opacity="0.58"/><circle cx="181.6" cy="754.5" r="0.62" fill="#8c8cf2" fill-opacity="0.65"/><circle cx="177.6" cy="749.2" r="0.61" fill="#5a6ee6" fill-opacity="0.53"/>
<g filter="url(#bl)" transform="rotate(18 175.6 767.8)"><ellipse cx="175.6" cy="767.8" rx="5.2" ry="9" fill="#5f84ee" fill-opacity="0.8"/><ellipse cx="175.6" cy="767.8" rx="4" ry="7" fill="#3a9ee6" fill-opacity="0.85"/><ellipse cx="175.6" cy="767.8" rx="2.8" ry="4.8" fill="#20b4c4" fill-opacity="0.9"/><ellipse cx="175.6" cy="767.8" rx="1.6" ry="2.8" fill="#2cc49a" fill-opacity="0.9"/></g>
<circle cx="175.2" cy="770.1" r="0.58" fill="#5a8af0" fill-opacity="0.73"/><circle cx="174.6" cy="769.6" r="0.50" fill="#2a9ee0" fill-opacity="0.49"/><circle cx="178.0" cy="770.5" r="0.56" fill="#3b6fe6" fill-opacity="0.56"/><circle cx="176.6" cy="763.3" r="0.38" fill="#5a8af0" fill-opacity="0.59"/><circle cx="175.7" cy="775.6" r="0.53" fill="#2a9ee0" fill-opacity="0.45"/><circle cx="177.2" cy="759.2" r="0.36" fill="#3b6fe6" fill-opacity="0.79"/><circle cx="175.6" cy="762.3" r="0.47" fill="#3b6fe6" fill-opacity="0.55"/><circle cx="174.7" cy="764.6" r="0.43" fill="#3b6fe6" fill-opacity="0.75"/><circle cx="178.8" cy="760.9" r="0.45" fill="#2a9ee0" fill-opacity="0.63"/><circle cx="174.8" cy="771.3" r="0.47" fill="#2a9ee0" fill-opacity="0.59"/><circle cx="171.1" cy="772.9" r="0.32" fill="#7a7ae8" fill-opacity="0.75"/><circle cx="172.7" cy="763.1" r="0.49" fill="#7a7ae8" fill-opacity="0.66"/><circle cx="172.6" cy="767.1" r="0.45" fill="#5a8af0" fill-opacity="0.41"/><circle cx="176.8" cy="764.8" r="0.53" fill="#7a7ae8" fill-opacity="0.68"/><circle cx="172.2" cy="774.7" r="0.49" fill="#5a8af0" fill-opacity="0.58"/><circle cx="177.4" cy="760.8" r="0.39" fill="#5a8af0" fill-opacity="0.60"/><circle cx="174.8" cy="778.3" r="0.42" fill="#2a9ee0" fill-opacity="0.41"/><circle cx="170.5" cy="777.6" r="0.47" fill="#5a8af0" fill-opacity="0.47"/><circle cx="176.1" cy="765.6" r="0.59" fill="#5a8af0" fill-opacity="0.52"/><circle cx="177.3" cy="763.2" r="0.58" fill="#7a7ae8" fill-opacity="0.51"/><circle cx="177.9" cy="760.7" r="0.38" fill="#2a9ee0" fill-opacity="0.78"/><circle cx="176.0" cy="767.9" r="0.37" fill="#2a9ee0" fill-opacity="0.71"/><circle cx="177.3" cy="764.6" r="0.31" fill="#2a9ee0" fill-opacity="0.73"/><circle cx="175.1" cy="768.7" r="0.34" fill="#2a9ee0" fill-opacity="0.55"/><circle cx="175.0" cy="764.2" r="0.43" fill="#5a8af0" fill-opacity="0.43"/><circle cx="179.1" cy="766.4" r="0.46" fill="#2a9ee0" fill-opacity="0.71"/><circle cx="176.5" cy="763.6" r="0.47" fill="#2a9ee0" fill-opacity="0.59"/><circle cx="174.1" cy="770.0" r="0.48" fill="#2a9ee0" fill-opacity="0.44"/><circle cx="181.9" cy="765.1" r="0.36" fill="#3b6fe6" fill-opacity="0.61"/><circle cx="176.5" cy="774.2" r="0.41" fill="#7a7ae8" fill-opacity="0.60"/><circle cx="175.5" cy="765.0" r="0.43" fill="#5a8af0" fill-opacity="0.79"/><circle cx="174.9" cy="775.4" r="0.33" fill="#3b6fe6" fill-opacity="0.54"/><circle cx="172.1" cy="767.5" r="0.59" fill="#5a8af0" fill-opacity="0.65"/><circle cx="174.1" cy="767.2" r="0.34" fill="#7a7ae8" fill-opacity="0.49"/><circle cx="177.5" cy="762.8" r="0.40" fill="#7a7ae8" fill-opacity="0.56"/><circle cx="178.2" cy="767.6" r="0.57" fill="#7a7ae8" fill-opacity="0.48"/><circle cx="170.5" cy="762.8" r="0.51" fill="#3b6fe6" fill-opacity="0.58"/><circle cx="177.6" cy="767.9" r="0.40" fill="#3b6fe6" fill-opacity="0.46"/><circle cx="174.9" cy="774.1" r="0.41" fill="#2a9ee0" fill-opacity="0.43"/><circle cx="177.0" cy="772.5" r="0.58" fill="#2a9ee0" fill-opacity="0.55"/><circle cx="178.1" cy="763.2" r="0.39" fill="#2a9ee0" fill-opacity="0.62"/><circle cx="178.3" cy="769.9" r="0.36" fill="#3b6fe6" fill-opacity="0.54"/><circle cx="174.5" cy="766.0" r="0.59" fill="#3b6fe6" fill-opacity="0.43"/><circle cx="176.7" cy="760.3" r="0.30" fill="#5a8af0" fill-opacity="0.77"/><circle cx="171.4" cy="769.3" r="0.38" fill="#2a9ee0" fill-opacity="0.41"/><circle cx="177.9" cy="766.9" r="0.38" fill="#3b6fe6" fill-opacity="0.58"/><circle cx="173.9" cy="777.6" r="0.34" fill="#5a8af0" fill-opacity="0.76"/><circle cx="175.5" cy="762.0" r="0.45" fill="#5a8af0" fill-opacity="0.54"/><circle cx="178.8" cy="765.7" r="0.45" fill="#3b6fe6" fill-opacity="0.79"/><circle cx="172.0" cy="766.9" r="0.42" fill="#3b6fe6" fill-opacity="0.45"/><circle cx="176.7" cy="765.1" r="0.54" fill="#7a7ae8" fill-opacity="0.45"/><circle cx="178.6" cy="765.2" r="0.33" fill="#2a9ee0" fill-opacity="0.45"/><circle cx="178.4" cy="766.7" r="0.57" fill="#3b6fe6" fill-opacity="0.60"/><circle cx="167.9" cy="764.3" r="0.34" fill="#5a8af0" fill-opacity="0.44"/><circle cx="174.6" cy="771.5" r="0.43" fill="#3b6fe6" fill-opacity="0.41"/><circle cx="179.0" cy="766.3" r="0.53" fill="#5a8af0" fill-opacity="0.52"/><circle cx="176.3" cy="764.7" r="0.53" fill="#7a7ae8" fill-opacity="0.47"/><circle cx="170.3" cy="774.5" r="0.59" fill="#2a9ee0" fill-opacity="0.45"/><circle cx="175.1" cy="770.3" r="0.49" fill="#2a9ee0" fill-opacity="0.71"/><circle cx="172.3" cy="766.3" r="0.50" fill="#3b6fe6" fill-opacity="0.64"/>
<g filter="url(#bl2)" transform="rotate(0 188.5 731)"><ellipse cx="188.5" cy="731" rx="4" ry="4" fill="#d8b8f0" fill-opacity="0.6"/></g>
<g filter="url(#bl)" transform="rotate(0 179.6 732.3)"><ellipse cx="179.6" cy="732.3" rx="9.6" ry="6.6" fill="#6f88ee" fill-opacity="0.75"/><ellipse cx="179.6" cy="732.3" rx="8.6" ry="5.8" fill="#2f8fe6" fill-opacity="0.9"/><ellipse cx="179.6" cy="732.3" rx="7.4" ry="4.8" fill="#20aac8" fill-opacity="1"/><ellipse cx="179.6" cy="732.3" rx="6.2" ry="3.9" fill="#2cc050" fill-opacity="1"/><ellipse cx="179.6" cy="732.3" rx="4.2" ry="2.7" fill="#a8d420" fill-opacity="1"/><ellipse cx="179.6" cy="732.3" rx="2.8" ry="1.8" fill="#f0a018" fill-opacity="1"/><ellipse cx="179.6" cy="732.3" rx="1.6" ry="1.1" fill="#e04010" fill-opacity="1"/></g>
<path d="M170.4,723.4 L197.7,725.3 L192.3,737.6 L183.1,739.5 L170.8,739.2 L168.5,731.8 Z" fill="none" stroke="#8f7c7c" stroke-width="0.9" stroke-linejoin="round"/>
<path d="M202.3,730.6 L214.3,730.6 L215.8,748.1 L203.3,750.0 L189.3,748.1 L194.1,737.5 Z" fill="none" stroke="#7a7a7a" stroke-width="0.9" stroke-linejoin="round"/>
<path d="M189.3,748.1 L187.9,771.6 L213.8,770.2 L215.8,748.1" fill="none" stroke="#7a7a7a" stroke-width="0.9" stroke-linejoin="round"/>
<path d="M189.3,748.1 Q203,751.5 215.8,748.1" fill="none" stroke="#555" stroke-width="1.1"/>
<text x="183.9" y="717.4" font-size="4.9" font-weight="bold" font-family='"Liberation Serif", serif' text-anchor="middle" fill="#000" stroke="#000" stroke-width="0.15">PMN</text>
<text x="183.3" y="723.4" font-size="4.9" font-weight="bold" font-family='"Liberation Serif", serif' text-anchor="middle" fill="#000" stroke="#000" stroke-width="0.15">41.3</text>
<text x="223.2" y="738.4" font-size="4.9" font-weight="bold" font-family='"Liberation Serif", serif' text-anchor="middle" fill="#000" stroke="#000" stroke-width="0.15">Gr1hi</text>
<text x="222.8" y="744.4" font-size="4.9" font-weight="bold" font-family='"Liberation Serif", serif' text-anchor="middle" fill="#000" stroke="#000" stroke-width="0.15">0.11</text>
<text x="221.8" y="764.4" font-size="4.9" font-weight="bold" font-family='"Liberation Serif", serif' text-anchor="middle" fill="#000" stroke="#000" stroke-width="0.15">Gr1low</text>
<text x="222.0" y="770.4" font-size="4.9" font-weight="bold" font-family='"Liberation Serif", serif' text-anchor="middle" fill="#000" stroke="#000" stroke-width="0.15">6.65</text>
<g transform="translate(5.390,57.447) scale(0.9287,0.9287)"><text x="75.50" y="808.50" font-size="9" text-anchor="middle" font-weight="bold" font-style="normal" font-family='"Liberation Serif", serif'>CD115</text></g>
<line x1="35.40" y1="805.80" x2="54.60" y2="805.80" stroke="#000" stroke-width="1.6"/>
<line x1="93.10" y1="805.70" x2="223.00" y2="805.70" stroke="#000" stroke-width="1.6"/>
<path d="M221.8,802.9 L227.4,805.7 L221.8,808.5 Z" fill="#000"/>
<g transform="translate(3.472,106.526) scale(0.8575,0.8575)"><text x="26.9" y="747.5" font-size="8" font-weight="bold" font-family='"Liberation Sans", sans-serif' stroke="#000" stroke-width="0.35" text-anchor="middle" transform="rotate(-90 26.9 747.5)">Gr1</text></g>
<line x1="24.30" y1="763.30" x2="24.30" y2="776.50" stroke="#000" stroke-width="1.8"/>
<line x1="24.30" y1="722.00" x2="24.30" y2="731.70" stroke="#000" stroke-width="1.8"/>
<path d="M21.7,723.5 L24.3,718.3 L26.9,723.5 Z" fill="#000"/>
<line x1="35.30" y1="833.15" x2="35.30" y2="905.15" stroke="#000" stroke-width="1.3"/>
<line x1="33.50" y1="904.50" x2="74.70" y2="904.50" stroke="#000" stroke-width="1.3"/>
<line x1="33.50" y1="833.80" x2="35.30" y2="833.80" stroke="#000" stroke-width="1.3"/>
<text x="33.10" y="837.20" font-size="7.8" text-anchor="end" font-weight="bold" font-style="normal" font-family='"Liberation Serif", serif'>10</text>
<line x1="33.50" y1="847.94" x2="35.30" y2="847.94" stroke="#000" stroke-width="1.3"/>
<text x="33.10" y="851.34" font-size="7.8" text-anchor="end" font-weight="bold" font-style="normal" font-family='"Liberation Serif", serif'>8</text>
<line x1="33.50" y1="862.08" x2="35.30" y2="862.08" stroke="#000" stroke-width="1.3"/>
<text x="33.10" y="865.48" font-size="7.8" text-anchor="end" font-weight="bold" font-style="normal" font-family='"Liberation Serif", serif'>6</text>
<line x1="33.50" y1="876.22" x2="35.30" y2="876.22" stroke="#000" stroke-width="1.3"/>
<text x="33.10" y="879.62" font-size="7.8" text-anchor="end" font-weight="bold" font-style="normal" font-family='"Liberation Serif", serif'>4</text>
<line x1="33.50" y1="890.36" x2="35.30" y2="890.36" stroke="#000" stroke-width="1.3"/>
<text x="33.10" y="893.76" font-size="7.8" text-anchor="end" font-weight="bold" font-style="normal" font-family='"Liberation Serif", serif'>2</text>
<line x1="33.50" y1="904.50" x2="35.30" y2="904.50" stroke="#000" stroke-width="1.3"/>
<text x="33.10" y="907.90" font-size="7.8" text-anchor="end" font-weight="bold" font-style="normal" font-family='"Liberation Serif", serif'>0</text>
<line x1="45.50" y1="859.10" x2="45.50" y2="850.40" stroke="#000" stroke-width="1.2"/>
<line x1="42.00" y1="850.40" x2="49.00" y2="850.40" stroke="#000" stroke-width="1.2"/>
<rect x="38.80" y="859.70" width="13.40" height="44.80" fill="#fff" stroke="#000" stroke-width="1.2"/>
<line x1="65.20" y1="882.20" x2="65.20" y2="864.30" stroke="#000" stroke-width="1.2"/>
<line x1="61.85" y1="864.30" x2="68.55" y2="864.30" stroke="#000" stroke-width="1.2"/>
<rect x="59.20" y="882.80" width="12.00" height="21.70" fill="#000" stroke="#000" stroke-width="1.2"/>
<g transform="translate(1.255,5.852) scale(0.9931,0.9931)"><text x="18.10" y="869.75" font-size="8" font-weight="normal" font-family='"Liberation Serif", serif' stroke="#000" stroke-width="0.18" text-anchor="middle" transform="rotate(-90 18.10 869.75)">Lymph node cells (x10<tspan font-size="0.7em" dy="-0.4em">6</tspan><tspan dy="0.280em">/ml)</tspan></text></g>
<g transform="translate(-1.019,-20.161) scale(1.0222,1.0222)"><text x="44.70" y="913.30" font-size="5.9" text-anchor="middle" font-weight="bold" font-style="normal" font-family='"Liberation Serif", serif'>CTL</text></g>
<g transform="translate(-2.352,-34.310) scale(1.0377,1.0377)"><text x="64.40" y="913.30" font-size="5.9" text-anchor="middle" font-weight="bold" font-style="normal" font-family='"Liberation Serif", serif'>MC-21</text></g>
<line x1="125.70" y1="834.35" x2="125.70" y2="906.05" stroke="#000" stroke-width="1.3"/>
<line x1="123.90" y1="905.40" x2="165.00" y2="905.40" stroke="#000" stroke-width="1.3"/>
<line x1="123.90" y1="835.00" x2="125.70" y2="835.00" stroke="#000" stroke-width="1.3"/>
<text x="120.90" y="838.40" font-size="7.8" text-anchor="end" font-weight="bold" font-style="normal" font-family='"Liberation Serif", serif'>6</text>
<line x1="123.90" y1="858.47" x2="125.70" y2="858.47" stroke="#000" stroke-width="1.3"/>
<text x="120.90" y="861.87" font-size="7.8" text-anchor="end" font-weight="bold" font-style="normal" font-family='"Liberation Serif", serif'>4</text>
<line x1="123.90" y1="881.93" x2="125.70" y2="881.93" stroke="#000" stroke-width="1.3"/>
<text x="120.90" y="885.33" font-size="7.8" text-anchor="end" font-weight="bold" font-style="normal" font-family='"Liberation Serif", serif'>2</text>
<line x1="123.90" y1="905.40" x2="125.70" y2="905.40" stroke="#000" stroke-width="1.3"/>
<text x="120.90" y="908.80" font-size="7.8" text-anchor="end" font-weight="bold" font-style="normal" font-family='"Liberation Serif", serif'>0</text>
<line x1="135.35" y1="855.50" x2="135.35" y2="847.50" stroke="#000" stroke-width="1.2"/>
<line x1="131.95" y1="847.50" x2="138.75" y2="847.50" stroke="#000" stroke-width="1.2"/>
<rect x="129.00" y="856.10" width="12.70" height="49.30" fill="#fff" stroke="#000" stroke-width="1.2"/>
<line x1="155.65" y1="879.40" x2="155.65" y2="859.80" stroke="#000" stroke-width="1.2"/>
<line x1="151.75" y1="859.80" x2="159.55" y2="859.80" stroke="#000" stroke-width="1.2"/>
<rect x="149.20" y="880.00" width="12.90" height="25.40" fill="#000" stroke="#000" stroke-width="1.2"/>
<g transform="translate(0.548,-3.086) scale(1.0035,1.0035)"><text x="109.80" y="868.85" font-size="8" font-weight="normal" font-family='"Liberation Serif", serif' stroke="#000" stroke-width="0.18" text-anchor="middle" transform="rotate(-90 109.80 868.85)">CD3<tspan font-size="0.7em" dy="-0.4em">+</tspan><tspan dy="0.280em"> T cells cells (x10</tspan><tspan font-size="0.7em" dy="-0.4em">6</tspan><tspan dy="0.280em">/ml)</tspan></text></g>
<g transform="translate(2.743,19.023) scale(0.9792,0.9792)"><text x="135.35" y="912.60" font-size="5.9" text-anchor="middle" font-weight="bold" font-style="normal" font-family='"Liberation Serif", serif'>CTL</text></g>
<g transform="translate(0.930,5.129) scale(0.9943,0.9943)"><text x="154.85" y="912.60" font-size="5.9" text-anchor="middle" font-weight="bold" font-style="normal" font-family='"Liberation Serif", serif'>MC-21</text></g>
<line x1="215.70" y1="833.65" x2="215.70" y2="905.55" stroke="#000" stroke-width="1.3"/>
<line x1="213.90" y1="904.90" x2="255.60" y2="904.90" stroke="#000" stroke-width="1.3"/>
<line x1="213.90" y1="834.30" x2="215.70" y2="834.30" stroke="#000" stroke-width="1.3"/>
<text x="213.40" y="837.70" font-size="7.8" text-anchor="end" font-weight="bold" font-style="normal" font-family='"Liberation Serif", serif'>3</text>
<line x1="213.90" y1="857.83" x2="215.70" y2="857.83" stroke="#000" stroke-width="1.3"/>
<text x="213.40" y="861.23" font-size="7.8" text-anchor="end" font-weight="bold" font-style="normal" font-family='"Liberation Serif", serif'>2</text>
<line x1="213.90" y1="881.37" x2="215.70" y2="881.37" stroke="#000" stroke-width="1.3"/>
<text x="213.40" y="884.77" font-size="7.8" text-anchor="end" font-weight="bold" font-style="normal" font-family='"Liberation Serif", serif'>1</text>
<line x1="213.90" y1="904.90" x2="215.70" y2="904.90" stroke="#000" stroke-width="1.3"/>
<text x="213.40" y="908.30" font-size="7.8" text-anchor="end" font-weight="bold" font-style="normal" font-family='"Liberation Serif", serif'>0</text>
<line x1="226.65" y1="857.30" x2="226.65" y2="846.50" stroke="#000" stroke-width="1.2"/>
<line x1="224.10" y1="846.50" x2="229.20" y2="846.50" stroke="#000" stroke-width="1.2"/>
<rect x="219.90" y="857.90" width="13.50" height="47.00" fill="#fff" stroke="#000" stroke-width="1.2"/>
<line x1="247.00" y1="884.70" x2="247.00" y2="866.30" stroke="#000" stroke-width="1.2"/>
<line x1="243.10" y1="866.30" x2="250.90" y2="866.30" stroke="#000" stroke-width="1.2"/>
<rect x="240.40" y="885.30" width="13.20" height="19.60" fill="#000" stroke="#000" stroke-width="1.2"/>
<g transform="translate(-9.127,-44.059) scale(1.0506,1.0506)"><text x="201.20" y="869.60" font-size="8" font-weight="normal" font-family='"Liberation Serif", serif' stroke="#000" stroke-width="0.18" text-anchor="middle" transform="rotate(-90 201.20 869.60)">CD19<tspan font-size="0.7em" dy="-0.4em">+</tspan><tspan dy="0.280em"> B cells (1x10</tspan><tspan font-size="0.7em" dy="-0.4em">6</tspan><tspan dy="0.280em">/ml)</tspan></text></g>
<g transform="translate(7.955,31.569) scale(0.9653,0.9653)"><text x="226.20" y="912.60" font-size="5.9" text-anchor="middle" font-weight="bold" font-style="normal" font-family='"Liberation Serif", serif'>CTL</text></g>
<g transform="translate(21.753,80.537) scale(0.9115,0.9115)"><text x="245.55" y="912.60" font-size="5.9" text-anchor="middle" font-weight="bold" font-style="normal" font-family='"Liberation Serif", serif'>MC-21</text></g>
<line x1="322.70" y1="833.45" x2="322.70" y2="906.65" stroke="#000" stroke-width="1.3"/>
<line x1="321.50" y1="906.00" x2="378.40" y2="906.00" stroke="#000" stroke-width="1.3"/>
<line x1="321.50" y1="834.10" x2="322.70" y2="834.10" stroke="#000" stroke-width="1.3"/>
<text x="321.50" y="837.50" font-size="7.8" text-anchor="end" font-weight="normal" font-style="normal" font-family='"Liberation Serif", serif'>0.10</text>
<line x1="321.50" y1="848.48" x2="322.70" y2="848.48" stroke="#000" stroke-width="1.3"/>
<text x="321.50" y="851.88" font-size="7.8" text-anchor="end" font-weight="normal" font-style="normal" font-family='"Liberation Serif", serif'>0.08</text>
<line x1="321.50" y1="862.86" x2="322.70" y2="862.86" stroke="#000" stroke-width="1.3"/>
<text x="321.50" y="866.26" font-size="7.8" text-anchor="end" font-weight="normal" font-style="normal" font-family='"Liberation Serif", serif'>0.06</text>
<line x1="321.50" y1="877.24" x2="322.70" y2="877.24" stroke="#000" stroke-width="1.3"/>
<text x="321.50" y="880.64" font-size="7.8" text-anchor="end" font-weight="normal" font-style="normal" font-family='"Liberation Serif", serif'>0.04</text>
<line x1="321.50" y1="891.62" x2="322.70" y2="891.62" stroke="#000" stroke-width="1.3"/>
<text x="321.50" y="895.02" font-size="7.8" text-anchor="end" font-weight="normal" font-style="normal" font-family='"Liberation Serif", serif'>0.02</text>
<line x1="321.50" y1="906.00" x2="322.70" y2="906.00" stroke="#000" stroke-width="1.3"/>
<text x="321.50" y="909.40" font-size="7.8" text-anchor="end" font-weight="normal" font-style="normal" font-family='"Liberation Serif", serif'>0.00</text>
<line x1="329.20" y1="856.30" x2="329.20" y2="849.70" stroke="#000" stroke-width="1.2"/>
<line x1="327.45" y1="849.70" x2="330.95" y2="849.70" stroke="#000" stroke-width="1.2"/>
<rect x="327.30" y="856.90" width="3.80" height="49.10" fill="#fff" stroke="#000" stroke-width="1.2"/>
<line x1="336.35" y1="881.70" x2="336.35" y2="861.80" stroke="#000" stroke-width="1.2"/>
<line x1="334.60" y1="861.80" x2="338.10" y2="861.80" stroke="#000" stroke-width="1.2"/>
<rect x="334.50" y="882.30" width="3.70" height="23.70" fill="#000" stroke="#000" stroke-width="1.2"/>
<line x1="348.55" y1="864.00" x2="348.55" y2="861.50" stroke="#000" stroke-width="1.2"/>
<line x1="346.80" y1="861.50" x2="350.30" y2="861.50" stroke="#000" stroke-width="1.2"/>
<rect x="347.00" y="864.60" width="3.10" height="41.40" fill="#fff" stroke="#000" stroke-width="1.2"/>
<line x1="355.15" y1="888.30" x2="355.15" y2="874.80" stroke="#000" stroke-width="1.2"/>
<line x1="353.40" y1="874.80" x2="356.90" y2="874.80" stroke="#000" stroke-width="1.2"/>
<rect x="353.20" y="888.90" width="3.90" height="17.10" fill="#000" stroke="#000" stroke-width="1.2"/>
<line x1="366.65" y1="879.10" x2="366.65" y2="876.50" stroke="#000" stroke-width="1.2"/>
<line x1="364.90" y1="876.50" x2="368.40" y2="876.50" stroke="#000" stroke-width="1.2"/>
<rect x="364.80" y="879.70" width="3.70" height="26.30" fill="#fff" stroke="#000" stroke-width="1.2"/>
<line x1="373.75" y1="893.30" x2="373.75" y2="888.30" stroke="#000" stroke-width="1.2"/>
<line x1="372.00" y1="888.30" x2="375.50" y2="888.30" stroke="#000" stroke-width="1.2"/>
<rect x="371.80" y="893.90" width="3.90" height="12.10" fill="#000" stroke="#000" stroke-width="1.2"/>
<g transform="translate(-2.923,-10.694) scale(1.0123,1.0123)"><text x="301.20" y="870.45" font-size="8" font-weight="normal" font-family='"Liberation Serif", serif' stroke="#000" stroke-width="0.18" text-anchor="middle" transform="rotate(-90 301.20 870.45)">CD11c/CD11b (1x10<tspan font-size="0.7em" dy="-0.4em">6</tspan><tspan dy="0.280em">/ml)</tspan></text></g>
<g transform="translate(-45.980,-126.445) scale(1.1388,1.1388)"><text x="331.80" y="912.90" font-size="6.5" text-anchor="middle" font-weight="normal" font-style="normal" font-family='"Liberation Serif", serif'>R1</text></g>
<g transform="translate(-18.504,-48.088) scale(1.0530,1.0530)"><text x="350.20" y="912.90" font-size="6.5" text-anchor="middle" font-weight="normal" font-style="normal" font-family='"Liberation Serif", serif'>R2</text></g>
<g transform="translate(-6.832,-16.609) scale(1.0184,1.0184)"><text x="368.80" y="912.90" font-size="6.5" text-anchor="middle" font-weight="normal" font-style="normal" font-family='"Liberation Serif", serif'>R3</text></g>
<rect x="344.3" y="837.2" width="7.3" height="3.1" fill="#fff" stroke="#000" stroke-width="1"/>
<rect x="343.8" y="844.8" width="8.3" height="4.5" fill="#000"/>
<g transform="translate(-43.103,-100.491) scale(1.1198,1.1198)"><text x="357.30" y="841.20" font-size="6" text-anchor="start" font-weight="normal" font-style="normal" font-family='"Liberation Serif", serif'>CTL</text></g>
<g transform="translate(-49.326,-116.147) scale(1.1371,1.1371)"><text x="357.30" y="849.20" font-size="6" text-anchor="start" font-weight="normal" font-style="normal" font-family='"Liberation Serif", serif'>MC-21</text></g>
<line x1="35.00" y1="945.85" x2="35.00" y2="1008.15" stroke="#000" stroke-width="1.3"/>
<line x1="33.20" y1="1007.50" x2="81.50" y2="1007.50" stroke="#000" stroke-width="1.3"/>
<line x1="33.20" y1="946.50" x2="35.00" y2="946.50" stroke="#000" stroke-width="1.3"/>
<text x="31.70" y="949.90" font-size="7.7" text-anchor="end" font-weight="bold" font-style="normal" font-family='"Liberation Serif", serif'>2.0</text>
<line x1="33.20" y1="961.75" x2="35.00" y2="961.75" stroke="#000" stroke-width="1.3"/>
<text x="31.70" y="965.15" font-size="7.7" text-anchor="end" font-weight="bold" font-style="normal" font-family='"Liberation Serif", serif'>1.5</text>
<line x1="33.20" y1="977.00" x2="35.00" y2="977.00" stroke="#000" stroke-width="1.3"/>
<text x="31.70" y="980.40" font-size="7.7" text-anchor="end" font-weight="bold" font-style="normal" font-family='"Liberation Serif", serif'>1.0</text>
<line x1="33.20" y1="992.25" x2="35.00" y2="992.25" stroke="#000" stroke-width="1.3"/>
<text x="31.70" y="995.65" font-size="7.7" text-anchor="end" font-weight="bold" font-style="normal" font-family='"Liberation Serif", serif'>0.5</text>
<line x1="33.20" y1="1007.50" x2="35.00" y2="1007.50" stroke="#000" stroke-width="1.3"/>
<text x="31.70" y="1010.90" font-size="7.7" text-anchor="end" font-weight="bold" font-style="normal" font-family='"Liberation Serif", serif'>0.0</text>
<line x1="46.40" y1="959.10" x2="46.40" y2="956.50" stroke="#000" stroke-width="1.2"/>
<line x1="42.75" y1="956.50" x2="50.05" y2="956.50" stroke="#000" stroke-width="1.2"/>
<rect x="38.80" y="959.70" width="15.20" height="47.80" fill="#fff" stroke="#000" stroke-width="1.2"/>
<line x1="69.60" y1="983.80" x2="69.60" y2="981.90" stroke="#000" stroke-width="1.2"/>
<line x1="65.60" y1="981.90" x2="73.60" y2="981.90" stroke="#000" stroke-width="1.2"/>
<rect x="62.10" y="984.40" width="15.00" height="23.10" fill="#000" stroke="#000" stroke-width="1.2"/>
<g transform="translate(1.190,7.268) scale(0.9926,0.9926)"><text x="14.00" y="977.75" font-size="8" font-weight="normal" font-family='"Liberation Serif", serif' stroke="#000" stroke-width="0.18" text-anchor="middle" transform="rotate(-90 14.00 977.75)">CD3<tspan font-size="0.7em" dy="-0.4em">+</tspan><tspan dy="0.280em"> T cells cells (x10</tspan><tspan font-size="0.7em" dy="-0.4em">6</tspan><tspan dy="0.280em">/ml)</tspan></text></g>
<g transform="translate(1.667,38.134) scale(0.9624,0.9624)"><text x="46.35" y="1015.80" font-size="5.9" text-anchor="middle" font-weight="bold" font-style="normal" font-family='"Liberation Serif", serif'>CTL</text></g>
<g transform="translate(-1.237,-20.334) scale(1.0201,1.0201)"><text x="70.35" y="1015.80" font-size="5.9" text-anchor="middle" font-weight="bold" font-style="normal" font-family='"Liberation Serif", serif'>MC-21</text></g>
<circle cx="67.75" cy="974.60" r="1.7" fill="#000"/>
<circle cx="72.65" cy="974.60" r="1.7" fill="#000"/>
<line x1="126.10" y1="945.65" x2="126.10" y2="1007.85" stroke="#000" stroke-width="1.3"/>
<line x1="124.30" y1="1007.20" x2="173.10" y2="1007.20" stroke="#000" stroke-width="1.3"/>
<line x1="124.30" y1="946.30" x2="126.10" y2="946.30" stroke="#000" stroke-width="1.3"/>
<text x="121.70" y="949.70" font-size="7.7" text-anchor="end" font-weight="bold" font-style="normal" font-family='"Liberation Serif", serif'>4</text>
<line x1="124.30" y1="961.52" x2="126.10" y2="961.52" stroke="#000" stroke-width="1.3"/>
<text x="121.70" y="964.92" font-size="7.7" text-anchor="end" font-weight="bold" font-style="normal" font-family='"Liberation Serif", serif'>3</text>
<line x1="124.30" y1="976.75" x2="126.10" y2="976.75" stroke="#000" stroke-width="1.3"/>
<text x="121.70" y="980.15" font-size="7.7" text-anchor="end" font-weight="bold" font-style="normal" font-family='"Liberation Serif", serif'>2</text>
<line x1="124.30" y1="991.98" x2="126.10" y2="991.98" stroke="#000" stroke-width="1.3"/>
<text x="121.70" y="995.38" font-size="7.7" text-anchor="end" font-weight="bold" font-style="normal" font-family='"Liberation Serif", serif'>1</text>
<line x1="124.30" y1="1007.20" x2="126.10" y2="1007.20" stroke="#000" stroke-width="1.3"/>
<text x="121.70" y="1010.60" font-size="7.7" text-anchor="end" font-weight="bold" font-style="normal" font-family='"Liberation Serif", serif'>0</text>
<line x1="137.35" y1="952.40" x2="137.35" y2="948.30" stroke="#000" stroke-width="1.2"/>
<line x1="133.25" y1="948.30" x2="141.45" y2="948.30" stroke="#000" stroke-width="1.2"/>
<rect x="128.30" y="953.00" width="18.10" height="54.20" fill="#fff" stroke="#000" stroke-width="1.2"/>
<line x1="162.80" y1="972.50" x2="162.80" y2="969.60" stroke="#000" stroke-width="1.2"/>
<line x1="159.15" y1="969.60" x2="166.45" y2="969.60" stroke="#000" stroke-width="1.2"/>
<rect x="154.40" y="973.10" width="16.80" height="34.10" fill="#000" stroke="#000" stroke-width="1.2"/>
<g transform="translate(-5.645,-56.308) scale(1.0576,1.0576)"><text x="108.80" y="977.00" font-size="8" font-weight="normal" font-family='"Liberation Serif", serif' stroke="#000" stroke-width="0.18" text-anchor="middle" transform="rotate(-90 108.80 977.00)">CD19<tspan font-size="0.7em" dy="-0.4em">+</tspan><tspan dy="0.280em"> B cells (1x10</tspan><tspan font-size="0.7em" dy="-0.4em">6</tspan><tspan dy="0.280em">/ml)</tspan></text></g>
<g transform="translate(-7.124,-51.827) scale(1.0513,1.0513)"><text x="137.90" y="1015.80" font-size="5.9" text-anchor="middle" font-weight="bold" font-style="normal" font-family='"Liberation Serif", serif'>CTL</text></g>
<g transform="translate(-21.254,-133.276) scale(1.1315,1.1315)"><text x="162.80" y="1015.80" font-size="5.9" text-anchor="middle" font-weight="bold" font-style="normal" font-family='"Liberation Serif", serif'>MC-21</text></g>
<circle cx="165.00" cy="958.60" r="1.7" fill="#000"/>
<line x1="223.50" y1="945.35" x2="223.50" y2="1007.85" stroke="#000" stroke-width="1.3"/>
<line x1="222.30" y1="1007.20" x2="267.20" y2="1007.20" stroke="#000" stroke-width="1.3"/>
<line x1="222.30" y1="946.00" x2="223.50" y2="946.00" stroke="#000" stroke-width="1.3"/>
<text x="221.60" y="949.40" font-size="7.7" text-anchor="end" font-weight="normal" font-style="normal" font-family='"Liberation Serif", serif'>0.20</text>
<line x1="222.30" y1="961.30" x2="223.50" y2="961.30" stroke="#000" stroke-width="1.3"/>
<text x="221.60" y="964.70" font-size="7.7" text-anchor="end" font-weight="normal" font-style="normal" font-family='"Liberation Serif", serif'>0.15</text>
<line x1="222.30" y1="976.60" x2="223.50" y2="976.60" stroke="#000" stroke-width="1.3"/>
<text x="221.60" y="980.00" font-size="7.7" text-anchor="end" font-weight="normal" font-style="normal" font-family='"Liberation Serif", serif'>0.10</text>
<line x1="222.30" y1="991.90" x2="223.50" y2="991.90" stroke="#000" stroke-width="1.3"/>
<text x="221.60" y="995.30" font-size="7.7" text-anchor="end" font-weight="normal" font-style="normal" font-family='"Liberation Serif", serif'>0.05</text>
<line x1="222.30" y1="1007.20" x2="223.50" y2="1007.20" stroke="#000" stroke-width="1.3"/>
<text x="221.60" y="1010.60" font-size="7.7" text-anchor="end" font-weight="normal" font-style="normal" font-family='"Liberation Serif", serif'>0.00</text>
<line x1="234.00" y1="964.30" x2="234.00" y2="961.50" stroke="#000" stroke-width="1.2"/>
<line x1="230.35" y1="961.50" x2="237.65" y2="961.50" stroke="#000" stroke-width="1.2"/>
<rect x="226.60" y="964.90" width="14.80" height="42.30" fill="#fff" stroke="#000" stroke-width="1.2"/>
<line x1="256.40" y1="999.80" x2="256.40" y2="999.50" stroke="#000" stroke-width="1.2"/>
<line x1="253.40" y1="999.50" x2="259.40" y2="999.50" stroke="#000" stroke-width="1.2"/>
<rect x="249.60" y="1000.40" width="13.60" height="6.80" fill="#000" stroke="#000" stroke-width="1.2"/>
<g transform="translate(-4.896,-26.882) scale(1.0274,1.0274)"><text x="198.10" y="977.40" font-size="8" font-weight="normal" font-family='"Liberation Serif", serif' stroke="#000" stroke-width="0.18" text-anchor="middle" transform="rotate(-90 198.10 977.40)">MHC-II<tspan font-size="0.7em" dy="-0.4em">+</tspan><tspan dy="0.280em">\CD11c</tspan><tspan font-size="0.7em" dy="-0.4em">+</tspan><tspan dy="0.280em"> (1x10</tspan><tspan font-size="0.7em" dy="-0.4em">6</tspan><tspan dy="0.280em">)</tspan></text></g>
<g transform="translate(-13.070,-56.654) scale(1.0558,1.0558)"><text x="234.55" y="1015.80" font-size="5.9" text-anchor="middle" font-weight="bold" font-style="normal" font-family='"Liberation Serif", serif'>CTL</text></g>
<g transform="translate(-24.549,-96.941) scale(1.0957,1.0957)"><text x="257.40" y="1015.80" font-size="5.9" text-anchor="middle" font-weight="bold" font-style="normal" font-family='"Liberation Serif", serif'>MC-21</text></g>
<circle cx="251.20" cy="990.80" r="1.7" fill="#000"/>
<circle cx="256.10" cy="990.80" r="1.7" fill="#000"/>
<circle cx="261.00" cy="990.80" r="1.7" fill="#000"/>
<line x1="20.40" y1="1043.05" x2="20.40" y2="1111.95" stroke="#000" stroke-width="1.3"/>
<line x1="18.80" y1="1111.30" x2="144.50" y2="1111.30" stroke="#000" stroke-width="1.3"/>
<line x1="18.80" y1="1043.70" x2="20.40" y2="1043.70" stroke="#000" stroke-width="1.3"/>
<text x="18.80" y="1047.40" font-size="7.9" text-anchor="end" font-weight="bold" font-style="normal" font-family='"Liberation Serif", serif'>20</text>
<line x1="18.80" y1="1060.60" x2="20.40" y2="1060.60" stroke="#000" stroke-width="1.3"/>
<text x="18.80" y="1064.30" font-size="7.9" text-anchor="end" font-weight="bold" font-style="normal" font-family='"Liberation Serif", serif'>15</text>
<line x1="18.80" y1="1077.50" x2="20.40" y2="1077.50" stroke="#000" stroke-width="1.3"/>
<text x="18.80" y="1081.20" font-size="7.9" text-anchor="end" font-weight="bold" font-style="normal" font-family='"Liberation Serif", serif'>10</text>
<line x1="18.80" y1="1094.40" x2="20.40" y2="1094.40" stroke="#000" stroke-width="1.3"/>
<text x="18.80" y="1098.10" font-size="7.9" text-anchor="end" font-weight="bold" font-style="normal" font-family='"Liberation Serif", serif'>5</text>
<line x1="18.80" y1="1111.30" x2="20.40" y2="1111.30" stroke="#000" stroke-width="1.3"/>
<text x="18.80" y="1115.00" font-size="7.9" text-anchor="end" font-weight="bold" font-style="normal" font-family='"Liberation Serif", serif'>0</text>
<line x1="24.80" y1="1108.80" x2="24.80" y2="1107.90" stroke="#000" stroke-width="1.2"/>
<line x1="23.30" y1="1107.90" x2="26.30" y2="1107.90" stroke="#000" stroke-width="1.2"/>
<rect x="22.55" y="1109.45" width="4.50" height="1.85" fill="#fff" stroke="#000" stroke-width="1.3"/>
<rect x="31.25" y="1111.25" width="2.70" height="0.05" fill="#000" stroke="#000" stroke-width="1.3"/>
<rect x="39.05" y="1084.65" width="5.90" height="26.65" fill="#fff" stroke="#000" stroke-width="1.3"/>
<line x1="50.20" y1="1097.30" x2="50.20" y2="1094.40" stroke="#000" stroke-width="1.2"/>
<line x1="47.95" y1="1094.40" x2="52.45" y2="1094.40" stroke="#000" stroke-width="1.2"/>
<rect x="46.85" y="1097.95" width="6.70" height="13.35" fill="#000" stroke="#000" stroke-width="1.3"/>
<line x1="62.85" y1="1056.10" x2="62.85" y2="1049.80" stroke="#000" stroke-width="1.2"/>
<line x1="61.10" y1="1049.80" x2="64.60" y2="1049.80" stroke="#000" stroke-width="1.2"/>
<rect x="59.85" y="1056.75" width="6.00" height="54.55" fill="#fff" stroke="#000" stroke-width="1.3"/>
<rect x="67.75" y="1071.45" width="6.80" height="39.85" fill="#000" stroke="#000" stroke-width="1.3"/>
<line x1="83.85" y1="1054.00" x2="83.85" y2="1052.30" stroke="#000" stroke-width="1.2"/>
<line x1="82.10" y1="1052.30" x2="85.60" y2="1052.30" stroke="#000" stroke-width="1.2"/>
<rect x="80.85" y="1054.65" width="6.00" height="56.65" fill="#fff" stroke="#000" stroke-width="1.3"/>
<line x1="92.40" y1="1072.50" x2="92.40" y2="1068.70" stroke="#000" stroke-width="1.2"/>
<line x1="90.70" y1="1068.70" x2="94.10" y2="1068.70" stroke="#000" stroke-width="1.2"/>
<rect x="88.75" y="1073.15" width="7.30" height="38.15" fill="#000" stroke="#000" stroke-width="1.3"/>
<line x1="104.60" y1="1059.90" x2="104.60" y2="1055.20" stroke="#000" stroke-width="1.2"/>
<line x1="102.85" y1="1055.20" x2="106.35" y2="1055.20" stroke="#000" stroke-width="1.2"/>
<rect x="101.45" y="1060.55" width="6.30" height="50.75" fill="#fff" stroke="#000" stroke-width="1.3"/>
<rect x="110.25" y="1087.95" width="6.90" height="23.35" fill="#000" stroke="#000" stroke-width="1.3"/>
<line x1="126.25" y1="1058.10" x2="126.25" y2="1056.50" stroke="#000" stroke-width="1.2"/>
<line x1="124.50" y1="1056.50" x2="128.00" y2="1056.50" stroke="#000" stroke-width="1.2"/>
<rect x="123.05" y="1058.75" width="6.40" height="52.55" fill="#fff" stroke="#000" stroke-width="1.3"/>
<rect x="131.35" y="1093.35" width="6.80" height="17.95" fill="#000" stroke="#000" stroke-width="1.3"/>
<g transform="translate(1.397,-0.085) scale(1.0001,1.0001)"><text x="3.80" y="1078.00" font-size="8" font-weight="normal" font-family='"Liberation Serif", serif' stroke="#000" stroke-width="0.18" text-anchor="middle" transform="rotate(-90 3.80 1078.00)">Paw Size (mm)</text></g>
<g transform="translate(0.075,0.325) scale(1.0000,1.0000)"><text x="29.40" y="1121.00" font-size="8.6" text-anchor="middle" font-weight="normal" font-style="normal" font-family='"Liberation Serif", serif'>0</text></g>
<g transform="translate(-0.025,0.325) scale(1.0000,1.0000)"><text x="46.20" y="1121.00" font-size="8.6" text-anchor="middle" font-weight="normal" font-style="normal" font-family='"Liberation Serif", serif'>3</text></g>
<g transform="translate(-0.125,0.325) scale(1.0000,1.0000)"><text x="67.00" y="1121.00" font-size="8.6" text-anchor="middle" font-weight="normal" font-style="normal" font-family='"Liberation Serif", serif'>24</text></g>
<g transform="translate(0.025,0.325) scale(1.0000,1.0000)"><text x="88.05" y="1121.00" font-size="8.6" text-anchor="middle" font-weight="normal" font-style="normal" font-family='"Liberation Serif", serif'>48</text></g>
<g transform="translate(-0.075,0.325) scale(1.0000,1.0000)"><text x="109.10" y="1121.00" font-size="8.6" text-anchor="middle" font-weight="normal" font-style="normal" font-family='"Liberation Serif", serif'>96</text></g>
<g transform="translate(-0.225,0.325) scale(1.0000,1.0000)"><text x="132.30" y="1121.00" font-size="8.6" text-anchor="middle" font-weight="normal" font-style="normal" font-family='"Liberation Serif", serif'>120</text></g>
<g transform="translate(9.536,125.046) scale(0.8904,0.8904)"><text x="84.60" y="1134.20" font-size="10" text-anchor="middle" font-weight="bold" font-style="normal" font-family='"Liberation Serif", serif'>Time (h)</text></g>
<rect x="143.6" y="1044.1" width="8" height="5.7" fill="#fff" stroke="#000" stroke-width="1.2"/>
<rect x="143" y="1053.2" width="9.2" height="7.2" fill="#000"/>
<g transform="translate(9.964,67.576) scale(0.9354,0.9354)"><text x="155.80" y="1049.50" font-size="6.5" text-anchor="start" font-weight="normal" font-style="normal" font-family='"Liberation Serif", serif'>WT</text></g>
<g transform="translate(-5.647,-37.750) scale(1.0356,1.0356)"><text x="155.80" y="1060.50" font-size="6.5" font-weight="normal" font-style="italic" font-family='"Liberation Serif", serif' text-anchor="start">ccr2<tspan font-size="0.68em" dy="-0.42em" font-weight="normal" fill="#333">-/-</tspan></text></g>
</svg></body></html>
